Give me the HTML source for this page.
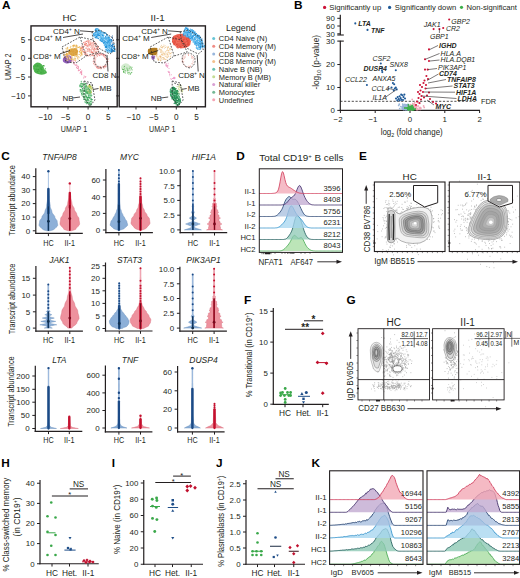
<!DOCTYPE html>
<html><head><meta charset="utf-8"><style>
html,body{margin:0;padding:0;background:#fff;width:520px;height:578px;overflow:hidden}
svg{display:block}
text{font-family:"Liberation Sans", sans-serif}
</style></head><body>
<svg width="520" height="578" viewBox="0 0 520 578">
<text x="1.90" y="9.42" font-size="11.8" font-weight="bold" fill="#000">A</text>
<path d="M33,66 q3,-5 7,-3 q4,3 4,6 q3,2 3,4 q-4,3 -9,1 q-5,-1 -5,-8z" fill="#4cb24c" stroke="none" stroke-width="0.8"/>
<path d="M37.9 65.9h0M41.0 72.7h0M34.4 68.4h0M36.9 69.5h0M43.9 65.6h0M41.6 69.7h0M40.9 68.1h0M37.5 65.8h0M40.9 69.5h0M35.2 69.6h0M38.5 69.4h0M37.6 71.6h0M39.1 73.2h0M41.0 68.6h0M45.3 68.8h0M34.3 68.7h0M41.3 68.9h0M43.2 65.7h0M42.2 67.9h0M35.8 66.1h0M38.4 69.6h0M42.3 69.1h0" stroke="#3aa63a" stroke-width="1.20" stroke-linecap="round" fill="none"/>
<path d="M34.9 69.3h0M40.8 70.1h0M42.2 68.3h0M39.6 72.8h0M35.0 67.2h0M44.5 71.1h0M41.3 65.2h0M36.0 67.6h0M43.2 69.7h0M38.1 67.7h0M34.7 70.8h0M37.4 68.0h0M38.8 72.8h0M35.0 68.5h0M44.6 71.9h0M44.0 66.1h0M39.5 72.3h0M38.8 68.0h0" stroke="#5cbc5c" stroke-width="1.20" stroke-linecap="round" fill="none"/>
<path d="M63,58.5 q2,-4 7,-3 q3,2 2,6 q-3,3 -7,1.5 q-3,-1 -2,-4.5z" fill="#9360bd" stroke="none" stroke-width="0.8"/>
<path d="M73.1 45.5h0M81.8 48.8h0M67.5 47.4h0M66.6 56.1h0M76.7 48.2h0M67.3 54.9h0M68.1 56.9h0M73.5 55.4h0M77.0 50.9h0M66.7 54.8h0M76.2 45.1h0M67.1 51.4h0M73.5 53.9h0M65.6 54.7h0M73.7 51.7h0M74.5 45.5h0M76.9 46.2h0M70.4 51.4h0M68.6 52.1h0M71.4 48.5h0M82.1 54.0h0M79.6 51.6h0M68.3 54.0h0M77.7 51.3h0M79.6 47.0h0M76.0 54.3h0M63.5 52.5h0M71.4 59.4h0M73.0 59.3h0M78.5 47.3h0M75.1 56.0h0M74.5 48.8h0M69.8 51.4h0M66.7 60.0h0M76.8 47.0h0M74.6 45.8h0M69.4 49.6h0M81.0 52.6h0M69.0 59.5h0M80.4 50.1h0" stroke="#e2a032" stroke-width="1.20" stroke-linecap="round" fill="none"/>
<path d="M72.8 45.8h0M77.4 51.0h0M79.9 48.0h0M76.2 53.8h0M80.5 55.7h0M80.8 47.9h0M72.1 56.9h0M75.4 46.5h0M75.1 49.7h0M75.1 45.5h0M73.8 59.0h0M68.0 53.4h0M75.2 58.5h0M76.6 56.4h0M72.5 55.1h0M75.8 50.8h0M77.7 56.1h0M67.6 57.8h0M70.8 46.4h0M77.0 47.6h0M64.0 52.2h0M79.7 46.6h0M75.6 52.6h0M69.1 54.4h0M66.2 50.9h0M80.4 53.8h0M75.0 48.6h0M74.1 44.8h0M68.4 56.1h0M67.6 58.8h0M81.1 52.2h0M79.6 52.0h0M69.4 58.7h0M70.3 47.5h0M81.4 53.4h0M78.1 47.5h0M80.7 48.7h0M81.0 50.9h0M73.5 51.0h0M82.1 48.9h0M72.5 48.8h0M67.8 47.9h0M72.2 58.6h0M72.1 57.5h0M66.0 55.6h0M66.1 48.8h0M74.7 49.1h0M71.7 61.0h0M74.8 60.2h0M71.1 49.2h0M71.2 59.1h0M66.3 57.5h0" stroke="#f0c878" stroke-width="1.20" stroke-linecap="round" fill="none"/>
<path d="M74.5 53.1h0M73.2 46.9h0M67.5 48.9h0M71.7 48.5h0M75.4 48.1h0M75.1 57.0h0M70.8 48.6h0M74.4 59.9h0M65.4 55.3h0M70.8 48.3h0M74.5 57.0h0M71.8 49.2h0M82.0 52.2h0M68.3 49.5h0M64.6 53.8h0M70.9 54.1h0M80.9 56.1h0M66.8 49.8h0M70.3 59.1h0M66.3 54.5h0M69.5 51.4h0M67.6 47.9h0M66.0 48.3h0M74.0 49.8h0M77.6 54.3h0M76.3 47.7h0M67.8 60.3h0M72.6 52.3h0M79.2 57.6h0M70.0 52.9h0M67.0 51.2h0M71.6 50.8h0M69.7 58.3h0M73.7 51.9h0M73.4 54.1h0M63.7 54.9h0M69.4 57.2h0M71.1 49.7h0" stroke="#f4d8a0" stroke-width="1.20" stroke-linecap="round" fill="none"/>
<path d="M82.1 51.4h0M82.1 49.1h0M64.6 57.6h0M76.8 45.6h0M81.4 52.7h0M73.1 50.0h0M76.4 51.0h0M67.1 54.2h0M80.9 48.4h0M66.3 54.3h0M71.4 54.2h0M71.3 50.9h0M75.7 60.1h0M67.9 53.9h0M76.2 52.6h0M77.4 57.9h0M66.8 56.7h0M77.1 55.2h0M79.2 54.5h0M78.1 59.0h0M76.4 54.9h0M73.6 45.4h0M72.2 51.3h0M73.3 46.7h0M75.8 48.3h0M67.2 48.1h0M63.7 55.7h0M75.0 58.7h0M76.8 50.2h0M68.8 51.8h0M66.5 53.2h0M81.9 55.1h0M69.8 49.7h0M73.4 45.6h0M81.6 54.1h0M71.6 56.0h0M80.3 49.9h0M78.7 56.8h0M75.5 52.6h0M69.5 52.9h0" stroke="#e8b050" stroke-width="1.20" stroke-linecap="round" fill="none"/>
<path d="M69,50 q4,-3 8,-1 q2,3 0,6 q-4,2 -7,0 q-2,-2 -1,-5z" fill="#d89a30" stroke="none" stroke-width="0.8" opacity="0.85"/>
<path d="M90.1 42.2h0M86.5 45.5h0M88.0 45.5h0M98.1 46.6h0M87.0 41.2h0M91.6 51.6h0M90.9 44.3h0M89.8 44.6h0M88.0 49.0h0M97.3 48.6h0M95.9 43.5h0M86.1 48.2h0M85.5 53.2h0M98.5 49.7h0M91.5 51.0h0M81.7 48.0h0M91.0 43.4h0M89.6 51.0h0M94.9 49.5h0M91.5 51.9h0M95.8 45.7h0M90.8 49.9h0M83.6 51.3h0M88.9 46.1h0M84.2 43.1h0M88.9 44.5h0M84.4 54.1h0M85.4 42.1h0M89.4 48.9h0M88.2 42.4h0M93.8 41.7h0M83.9 42.6h0M96.6 53.8h0M95.9 51.5h0M84.0 51.7h0M94.8 49.2h0M94.6 48.0h0M83.1 48.8h0M89.5 44.5h0M96.2 49.3h0M97.5 47.0h0M88.1 48.0h0M90.1 52.1h0M90.3 43.1h0" stroke="#f08a80" stroke-width="1.20" stroke-linecap="round" fill="none"/>
<path d="M88.9 43.6h0M87.9 51.5h0M98.1 47.2h0M82.1 50.4h0M86.6 54.7h0M95.0 53.8h0M94.8 50.9h0M85.4 43.6h0M85.9 44.2h0M87.2 46.3h0M83.0 46.9h0M84.1 42.4h0M98.0 47.8h0M85.4 45.5h0M84.9 44.6h0M83.1 47.1h0M96.8 51.7h0M88.5 42.5h0M93.2 45.9h0M92.1 48.7h0M93.4 55.5h0M88.6 55.7h0M92.7 52.6h0M85.1 52.8h0M89.4 49.9h0M88.1 40.6h0M92.1 55.3h0M88.2 41.4h0M93.4 53.1h0M81.2 47.8h0M82.1 49.6h0M86.2 41.4h0M85.2 54.6h0M82.6 47.3h0M86.5 43.6h0M96.5 48.6h0M91.8 45.7h0M87.8 49.5h0M90.6 42.6h0M93.5 49.7h0M92.3 43.4h0M87.8 45.3h0M92.0 52.0h0M85.2 51.8h0M84.5 44.7h0M93.6 44.2h0M94.3 48.2h0M95.7 52.2h0M92.4 47.5h0M81.7 47.7h0M87.2 55.3h0M91.9 52.4h0M90.0 45.2h0" stroke="#ec7468" stroke-width="1.20" stroke-linecap="round" fill="none"/>
<path d="M87.0 54.4h0M85.0 51.6h0M85.2 51.2h0M83.5 52.3h0M87.4 45.1h0M95.5 46.1h0M91.5 46.7h0M82.7 48.8h0M95.9 48.1h0M93.0 47.4h0M89.0 44.8h0M89.8 41.2h0M89.8 40.6h0M82.4 49.1h0M95.1 44.1h0M91.6 49.6h0M93.6 42.3h0M82.7 44.8h0M87.9 50.4h0M98.5 51.3h0M86.3 48.1h0M91.1 51.3h0M88.5 41.8h0M90.8 47.2h0M82.5 49.4h0M96.5 44.4h0M93.6 43.0h0M92.1 55.7h0M85.9 53.9h0M95.4 42.4h0M95.4 51.6h0M86.8 45.3h0M85.5 51.2h0M92.9 54.3h0M90.4 56.0h0M96.7 48.9h0M84.3 46.5h0M93.7 50.8h0M93.4 49.1h0M93.4 51.2h0M91.6 54.1h0M89.0 55.4h0M97.0 51.8h0M92.5 42.6h0" stroke="#f4b0a8" stroke-width="1.20" stroke-linecap="round" fill="none"/>
<path d="M92.6 49.4h0M81.2 49.6h0M90.4 52.8h0M86.6 53.1h0M86.2 51.7h0M81.9 45.6h0M88.3 55.6h0M96.6 43.7h0M89.0 42.8h0M91.4 45.9h0M87.2 55.9h0M85.2 41.7h0M81.7 47.0h0M92.9 47.2h0M87.3 54.2h0M90.5 50.9h0M91.5 54.6h0M92.9 44.1h0M85.2 43.1h0M93.5 46.3h0M88.2 50.8h0M88.7 50.2h0M95.1 54.4h0M89.9 41.8h0M92.8 46.7h0M85.5 48.3h0M94.6 47.2h0M83.5 49.2h0M92.4 44.1h0M94.8 52.7h0M96.7 51.2h0M91.8 49.1h0M84.5 42.6h0M81.9 49.1h0M95.4 53.4h0M94.4 45.5h0M92.1 46.9h0M90.1 51.2h0M96.5 54.0h0M91.4 42.2h0M81.2 46.8h0M92.6 54.2h0M92.7 46.6h0M88.3 45.0h0M97.1 49.8h0M98.2 52.1h0M92.4 42.9h0M85.0 53.9h0M82.0 45.5h0M90.3 42.7h0M95.7 52.8h0M92.8 51.3h0M97.7 45.7h0M85.1 45.2h0M93.1 45.0h0M89.6 40.5h0M91.3 44.2h0M95.1 51.6h0M87.0 50.2h0" stroke="#f8c8c0" stroke-width="1.20" stroke-linecap="round" fill="none"/>
<path d="M108.9 47.2h0M96.7 31.6h0M105.5 41.3h0M94.6 35.5h0M114.0 50.8h0M97.2 38.2h0M106.4 42.8h0M103.1 40.5h0M106.8 35.9h0M96.9 28.6h0M102.2 40.7h0M104.8 45.6h0M113.7 48.6h0M105.9 44.4h0M111.6 46.2h0M95.9 37.0h0M112.3 51.3h0M100.4 32.7h0M94.6 35.7h0M112.6 49.9h0M111.1 51.8h0M110.8 48.5h0M108.1 50.2h0M114.6 49.4h0M98.4 31.6h0M101.4 32.8h0M110.4 44.3h0M100.6 40.3h0M100.7 32.4h0M107.9 48.6h0M104.8 42.8h0M113.0 44.5h0M101.7 40.1h0M111.2 52.3h0M105.8 43.8h0M106.1 39.4h0M108.7 39.7h0M100.9 40.0h0M108.4 40.7h0M109.6 38.2h0M93.6 33.6h0M98.2 29.4h0M98.0 30.4h0M103.1 32.3h0M101.8 38.9h0M100.8 36.6h0M101.6 38.0h0M108.5 37.2h0M99.8 30.3h0M100.6 32.9h0M110.0 52.0h0M114.4 50.7h0M100.3 34.2h0M106.4 46.5h0M105.7 43.7h0M109.9 39.1h0M113.2 46.5h0M98.5 34.6h0M110.9 50.7h0M108.6 50.7h0M103.0 35.7h0M105.3 47.7h0M105.7 38.7h0M112.8 46.2h0M105.5 46.4h0M100.2 37.1h0M100.1 33.3h0M110.2 42.8h0M107.4 50.8h0M98.9 34.8h0M100.6 39.7h0M96.0 35.7h0M103.1 33.0h0M95.9 29.0h0M95.5 30.3h0M100.2 34.0h0M113.6 48.5h0M107.6 43.0h0M113.0 50.8h0M105.2 32.9h0M106.0 47.0h0M111.7 40.3h0M96.3 37.7h0M100.2 40.0h0M100.1 35.3h0M102.3 41.8h0M100.8 31.1h0M109.4 44.9h0M107.2 51.3h0M94.0 35.5h0M107.7 45.8h0M95.6 35.8h0M107.9 42.9h0M109.3 44.9h0M100.8 36.6h0M109.6 39.4h0M103.0 35.0h0M95.7 33.0h0M98.0 33.3h0M110.0 40.1h0M99.7 35.4h0M103.7 33.0h0M107.5 48.5h0M107.8 43.9h0M103.9 43.3h0M97.3 34.6h0M109.6 40.6h0M101.3 34.3h0M94.1 35.4h0M101.1 40.7h0M98.0 34.6h0M97.1 34.2h0M99.1 33.2h0" stroke="#2b9be0" stroke-width="1.20" stroke-linecap="round" fill="none"/>
<path d="M109.7 45.7h0M100.6 35.0h0M98.5 33.9h0M106.7 46.2h0M108.4 49.7h0M103.0 40.8h0M106.6 37.9h0M111.6 49.3h0M111.1 46.1h0M105.5 49.9h0M104.7 42.6h0M100.3 31.8h0M107.6 40.8h0M103.9 35.2h0M107.8 37.6h0M110.7 48.6h0M105.8 37.7h0M110.4 48.8h0M93.8 36.2h0M104.4 38.6h0M99.4 35.4h0M106.9 45.0h0M104.9 39.9h0M114.4 50.5h0M108.4 41.9h0M96.6 34.6h0M111.5 45.8h0M108.4 41.6h0M108.9 36.8h0M111.2 50.5h0M103.5 39.3h0M102.4 34.0h0M100.2 38.1h0M109.4 45.6h0M112.2 49.3h0M112.3 46.1h0M108.2 39.2h0M101.9 32.0h0M98.5 31.2h0M101.2 40.5h0M98.0 38.0h0M107.0 46.7h0M108.2 49.5h0M100.3 30.8h0M96.7 29.5h0M109.1 44.5h0M105.8 42.0h0M109.5 42.7h0M98.4 35.7h0M103.4 35.6h0M108.4 44.8h0M104.7 41.7h0M101.3 35.0h0M97.6 35.7h0M105.9 39.5h0M109.9 40.2h0M106.1 47.2h0M108.2 46.8h0M106.8 39.9h0M105.9 37.3h0M107.1 44.1h0M109.1 49.5h0M95.2 30.4h0M109.7 43.5h0M96.4 31.3h0M106.0 43.4h0M107.7 37.7h0M105.0 42.5h0M109.3 44.8h0M110.0 46.5h0M111.3 47.1h0M98.0 36.0h0M101.9 38.0h0M108.1 38.9h0M106.0 45.1h0M111.0 49.5h0M109.7 42.4h0M105.8 49.8h0M105.4 37.6h0M106.6 38.6h0M97.4 33.2h0M114.5 50.8h0M100.8 31.3h0M111.8 46.7h0M107.0 46.3h0M109.0 40.5h0M95.3 29.5h0M106.9 34.6h0M100.2 32.4h0M93.4 34.1h0M110.1 41.8h0M98.3 29.4h0M108.9 50.0h0M108.1 40.0h0M108.3 38.5h0M103.0 38.3h0M100.3 32.0h0M107.4 45.7h0M95.7 34.8h0M94.8 35.0h0M97.7 31.3h0M97.1 32.8h0M98.6 31.1h0M110.6 50.1h0M104.1 33.4h0M97.3 33.9h0M98.9 31.6h0M107.1 48.0h0M98.5 38.1h0M110.5 49.0h0M93.6 34.9h0M108.7 45.8h0M113.5 47.8h0M108.5 45.8h0M109.1 51.7h0" stroke="#48aeea" stroke-width="1.20" stroke-linecap="round" fill="none"/>
<path d="M110.9 46.3h0M110.3 39.6h0M106.7 34.3h0M114.4 47.7h0M106.0 45.5h0M111.0 41.0h0M106.5 42.5h0M108.7 41.6h0M103.5 42.9h0M104.1 42.5h0M100.7 40.4h0M111.5 45.7h0M109.5 45.8h0M101.8 38.7h0M103.4 32.5h0M95.9 29.9h0M106.7 49.7h0M103.0 41.7h0M97.2 34.9h0M106.0 47.4h0M105.8 45.7h0M108.2 42.3h0M114.0 46.5h0M98.6 31.9h0M95.8 35.3h0M94.1 34.7h0M112.1 50.6h0M106.7 45.3h0M112.7 45.1h0M114.7 51.4h0M106.8 47.7h0M104.5 43.9h0M109.7 48.1h0M95.0 32.8h0M114.7 48.4h0M110.4 40.6h0M109.6 43.8h0M111.0 51.5h0M102.5 35.3h0M99.0 31.5h0M96.6 36.8h0M111.9 49.4h0M104.4 45.3h0M97.3 32.4h0M108.7 37.9h0M97.2 28.7h0M112.0 46.7h0M94.5 33.5h0M111.9 46.2h0M107.7 41.2h0M102.2 38.7h0M114.1 50.1h0M101.0 37.9h0M111.2 50.7h0M107.1 50.7h0M111.8 45.2h0M106.4 39.2h0M103.1 32.5h0M101.9 36.0h0M102.9 41.3h0M107.3 42.9h0M102.8 34.9h0M110.0 45.6h0M109.6 41.7h0M109.2 38.0h0M96.1 30.9h0M113.3 48.3h0M98.7 35.0h0M109.2 47.8h0M110.0 40.4h0M101.4 41.4h0M109.2 41.4h0M107.1 35.4h0M99.5 35.5h0M109.5 50.5h0M95.7 29.1h0M95.8 32.4h0M106.7 46.7h0M114.1 50.7h0M101.5 38.2h0M107.1 38.8h0M106.0 44.6h0M110.7 42.8h0M96.8 36.6h0M106.1 46.7h0M105.0 41.5h0M112.1 51.4h0M105.2 45.8h0M94.6 34.9h0M97.1 31.8h0M104.2 40.5h0M97.9 35.8h0M102.6 39.7h0M105.7 33.2h0M112.5 49.3h0M113.3 50.7h0M102.9 38.3h0M107.0 35.1h0M103.8 37.9h0M95.4 37.7h0M109.2 37.7h0M111.3 40.3h0M98.4 38.6h0M113.2 44.6h0M96.4 36.6h0M106.7 46.6h0M108.4 46.4h0M95.7 34.8h0M105.6 36.3h0M99.5 31.4h0M111.4 41.2h0M95.1 37.5h0M101.7 40.4h0" stroke="#1f8fd8" stroke-width="1.20" stroke-linecap="round" fill="none"/>
<path d="M101.4 32.2h0M103.2 37.4h0M107.5 47.9h0M108.1 36.1h0M110.8 40.6h0M106.5 43.9h0M104.2 44.1h0M108.5 50.5h0M100.7 34.7h0M108.0 46.5h0M97.6 30.6h0M104.5 45.5h0M107.4 46.0h0M107.8 36.2h0M106.3 38.8h0M100.8 33.4h0M100.0 36.7h0M102.3 37.6h0M107.1 45.2h0M106.8 43.0h0M108.8 46.1h0M103.4 36.4h0M102.8 36.3h0M105.1 45.2h0M103.1 32.7h0M105.6 39.8h0M97.1 32.7h0M99.1 31.5h0M107.1 52.2h0M110.5 50.9h0M96.4 30.1h0M112.8 50.4h0M104.2 37.4h0M97.2 31.0h0M107.1 39.8h0M107.4 48.4h0M100.9 31.9h0M109.2 43.8h0M105.5 39.7h0M108.7 47.6h0M108.6 43.2h0M107.7 51.4h0M94.8 32.6h0M114.2 44.2h0M100.9 37.3h0M97.5 30.1h0M108.3 43.3h0M112.6 47.1h0M106.4 41.3h0M106.1 40.1h0M100.1 34.5h0M102.1 40.2h0M97.5 37.4h0M104.6 32.6h0M98.9 31.5h0M101.9 39.3h0M96.2 33.9h0M94.2 33.4h0M109.3 44.1h0M109.2 41.5h0M96.9 35.1h0M103.4 38.9h0M101.1 40.8h0M109.2 52.2h0M110.2 42.5h0M114.9 50.7h0M112.7 51.1h0M111.4 48.4h0M110.3 47.9h0M101.2 34.7h0M113.6 47.7h0M108.4 50.4h0M110.3 49.1h0M108.6 43.3h0M101.1 38.9h0M107.2 39.8h0M100.2 37.7h0M98.5 30.8h0M98.1 29.0h0M111.3 46.4h0M99.6 39.9h0M97.3 28.9h0M105.0 43.3h0M95.3 35.7h0M110.9 49.3h0M102.7 38.3h0M94.7 34.5h0M105.6 45.4h0M109.7 38.7h0" stroke="#6ac0f0" stroke-width="1.20" stroke-linecap="round" fill="none"/>
<path d="M112.6 36.0h0M111.7 37.2h0M112.4 38.4h0M111.5 39.6h0M112.8 40.8h0M111.9 42.0h0M112.2 43.2h0M112.9 44.4h0M111.8 45.6h0M112.4 46.8h0M111.7 48.0h0M111.6 49.2h0M112.6 50.4h0M111.9 51.6h0" stroke="#1a5fa8" stroke-width="1.00" stroke-linecap="round" fill="none"/>
<path d="M106.6 59.6h0M105.9 58.6h0M105.6 66.4h0M96.6 66.6h0M101.0 67.4h0M97.4 56.4h0M102.1 67.2h0M96.6 66.9h0M94.1 60.6h0M102.9 54.8h0M97.9 53.7h0M106.2 55.1h0M103.5 68.0h0M104.5 66.8h0M102.6 54.0h0M105.8 67.2h0M99.4 68.1h0M95.6 61.2h0M106.6 61.9h0M94.5 64.7h0M105.1 65.0h0M99.1 55.6h0M105.0 57.4h0M93.9 63.6h0M97.6 67.5h0M98.5 68.4h0M104.8 55.3h0M97.9 54.0h0M101.6 54.2h0M98.5 66.3h0M103.6 55.9h0M100.7 66.4h0M101.4 54.8h0M93.5 63.4h0M105.2 66.7h0M103.6 66.4h0M104.4 54.5h0M100.8 67.8h0M99.8 54.0h0M108.1 61.4h0M100.0 55.2h0M96.8 66.4h0M104.4 55.2h0M95.2 58.1h0M95.7 59.8h0" stroke="#f0a0a0" stroke-width="1.00" stroke-linecap="round" fill="none"/>
<path d="M99.5 55.6h0M107.7 61.5h0M98.7 68.0h0M106.4 59.4h0M98.4 54.1h0M103.4 67.0h0M103.1 55.2h0M99.2 68.3h0M105.1 66.4h0M95.6 63.1h0M106.7 58.8h0M100.8 54.3h0M101.5 54.1h0M107.7 64.0h0M99.6 53.7h0M101.2 68.3h0M106.3 66.0h0M94.4 57.4h0M103.9 66.6h0M97.1 55.1h0M93.2 61.6h0M96.7 67.2h0M104.1 56.3h0M100.2 67.4h0M104.7 54.5h0M94.7 56.3h0M94.1 58.8h0M93.9 61.1h0M98.1 54.6h0M97.2 67.8h0M105.6 55.1h0M103.1 54.6h0M101.2 53.4h0M103.6 55.2h0M95.3 65.9h0M104.8 66.7h0M100.2 66.6h0M105.5 57.3h0M97.3 68.1h0" stroke="#e88080" stroke-width="1.00" stroke-linecap="round" fill="none"/>
<path d="M100.2 53.2h0M102.6 66.3h0M94.8 57.9h0M95.8 64.6h0M99.3 68.0h0M104.4 55.3h0M104.7 65.6h0M104.9 66.1h0M94.1 62.7h0M101.1 68.6h0M94.8 56.6h0M96.6 55.8h0M99.9 68.5h0M97.5 56.1h0M105.4 65.6h0M96.1 57.2h0M107.7 64.6h0M99.7 66.4h0M104.4 68.1h0M104.4 56.8h0M100.5 67.1h0M106.2 63.1h0M104.4 56.0h0M96.3 64.3h0M105.2 55.4h0M93.7 63.9h0M108.0 59.5h0M100.9 68.5h0M108.4 58.8h0M95.8 58.9h0M100.8 54.8h0M94.1 59.0h0M100.9 68.9h0M99.7 67.6h0M99.5 67.2h0M96.6 55.4h0" stroke="#f4b8b0" stroke-width="1.00" stroke-linecap="round" fill="none"/>
<path d="M73.9 62.3h0M85.8 76.6h0M81.1 72.8h0M73.5 60.9h0M81.6 72.1h0M78.4 68.1h0M80.8 72.3h0M79.5 70.2h0M75.7 65.3h0M84.9 77.0h0M83.7 77.9h0M80.1 73.0h0M75.0 64.7h0M77.9 68.5h0M85.6 77.1h0M78.3 66.8h0M75.5 61.7h0M76.7 67.7h0M78.1 66.4h0M78.5 69.9h0M81.8 70.7h0M80.3 69.4h0M80.7 71.5h0M77.1 65.7h0M81.5 74.3h0M81.8 73.0h0M76.6 67.4h0M76.7 64.7h0M76.3 65.0h0M78.5 66.9h0M73.7 62.9h0M81.8 71.1h0M84.1 76.0h0M78.3 70.7h0M81.8 74.6h0M74.1 63.9h0M81.6 73.2h0M72.8 60.9h0M77.4 68.2h0M77.2 66.0h0" stroke="#f090b0" stroke-width="1.10" stroke-linecap="round" fill="none"/>
<path d="M87.8 89.0h0M89.4 84.5h0M90.5 86.3h0M88.7 88.7h0M89.5 85.4h0M89.8 93.0h0M91.6 88.6h0M88.8 87.1h0M92.1 89.6h0M90.9 88.4h0M87.5 91.7h0M90.5 87.6h0M88.7 89.5h0M91.8 88.7h0M88.3 86.0h0M90.3 90.6h0M88.0 87.8h0" stroke="#b8c850" stroke-width="1.20" stroke-linecap="round" fill="none"/>
<path d="M87.8 93.3h0M89.9 91.0h0M91.4 88.2h0M89.9 92.2h0M91.4 88.6h0M89.0 89.2h0M90.6 86.2h0M87.0 91.2h0M85.9 88.6h0M91.1 87.1h0M87.7 86.9h0M88.2 88.8h0M91.1 89.1h0M88.6 93.3h0M89.8 85.0h0M88.8 90.2h0M89.2 91.0h0M86.6 89.3h0M86.7 85.7h0M89.7 86.9h0M90.7 93.2h0M87.9 86.5h0M86.5 92.5h0M87.7 91.3h0M87.9 91.9h0M89.7 93.0h0M87.1 87.2h0" stroke="#c8d070" stroke-width="1.20" stroke-linecap="round" fill="none"/>
<path d="M89.6 85.9h0M91.3 91.2h0M89.2 87.1h0M89.1 85.5h0M87.7 91.9h0M89.1 87.6h0M87.7 88.8h0M88.4 91.1h0M90.1 92.5h0M86.5 91.0h0M87.3 91.4h0M89.1 92.1h0M91.3 92.6h0M92.1 87.0h0M90.2 91.6h0M90.8 86.4h0" stroke="#a8c040" stroke-width="1.20" stroke-linecap="round" fill="none"/>
<path d="M84.9 89.4h0M89.0 96.6h0M86.9 89.3h0M80.7 90.6h0M86.9 89.1h0M91.4 95.9h0M84.9 102.0h0M84.0 98.0h0M88.2 99.7h0M86.0 84.8h0M88.2 88.9h0M83.8 97.9h0M85.8 92.7h0M86.9 102.5h0M81.5 81.4h0M87.1 92.2h0M88.0 97.3h0M92.4 99.5h0M84.7 90.2h0M84.5 99.3h0M85.9 100.0h0M90.7 93.2h0M91.2 104.8h0M89.9 95.6h0M86.6 96.7h0M89.1 93.7h0M84.7 84.5h0M89.8 103.8h0M88.6 95.7h0M90.5 91.6h0M89.5 97.7h0M82.1 83.5h0M84.2 96.9h0M91.6 95.5h0M85.9 99.3h0M82.7 86.7h0M83.3 94.7h0M86.0 86.2h0M89.6 98.1h0M80.2 89.5h0M85.9 102.7h0M86.6 90.1h0M88.6 102.8h0M85.6 94.9h0M88.4 88.7h0M86.2 101.0h0M82.6 89.9h0M84.6 89.5h0M86.8 97.7h0M86.1 92.0h0M86.8 97.6h0M88.6 94.7h0M91.3 99.6h0M80.8 90.5h0M89.9 90.3h0M85.4 87.1h0M84.6 88.3h0M86.7 89.2h0M87.5 102.7h0M83.1 96.5h0" stroke="#4cb070" stroke-width="1.20" stroke-linecap="round" fill="none"/>
<path d="M83.7 89.0h0M91.9 101.6h0M81.2 81.8h0M86.3 91.5h0M82.6 90.0h0M89.6 103.2h0M89.9 104.0h0M84.6 86.6h0M91.3 100.0h0M86.3 102.3h0M90.6 103.0h0M82.0 93.9h0M87.1 99.2h0M85.4 88.3h0M86.8 91.7h0M89.9 91.3h0M85.8 93.8h0M91.3 94.9h0M85.5 87.7h0M85.4 84.0h0M86.4 96.9h0M80.1 90.9h0M84.0 97.3h0M80.1 86.8h0M87.6 93.2h0M83.4 84.6h0M88.0 88.9h0M84.3 93.6h0M87.1 87.4h0M87.7 102.6h0M86.8 88.9h0M81.5 85.8h0M83.2 93.5h0M89.3 94.8h0M89.6 104.1h0M89.6 102.2h0M91.5 103.3h0M84.8 89.8h0M86.3 87.0h0M80.5 85.6h0M85.8 86.3h0M85.8 100.7h0M86.8 100.5h0M87.2 98.2h0M87.3 91.1h0M86.8 93.1h0M88.4 99.5h0M83.1 85.4h0M83.3 93.6h0M85.9 93.2h0M88.0 101.8h0M90.6 95.6h0M81.3 91.9h0M91.7 95.4h0M81.2 91.2h0M88.5 97.0h0M85.3 91.5h0M88.8 93.0h0M88.8 92.0h0M85.6 85.6h0M87.7 99.0h0M79.7 86.2h0M89.6 89.2h0M85.4 85.6h0M81.4 86.9h0M82.7 84.2h0" stroke="#66c080" stroke-width="1.20" stroke-linecap="round" fill="none"/>
<path d="M90.4 98.9h0M87.6 102.4h0M82.9 90.3h0M82.0 91.1h0M81.7 83.8h0M91.6 99.5h0M86.2 96.3h0M86.0 86.2h0M85.8 91.2h0M86.9 97.0h0M86.7 103.5h0M81.5 90.0h0M89.5 89.5h0M87.9 102.5h0M88.4 97.5h0M84.9 94.8h0M87.1 92.5h0M84.7 97.0h0M85.0 83.9h0M88.9 103.0h0M83.2 91.1h0M86.6 100.4h0M87.5 99.2h0M81.6 93.7h0M82.2 94.7h0M84.7 98.2h0M90.2 97.3h0M90.4 101.3h0M88.3 100.6h0M89.5 91.4h0M83.4 96.7h0M85.3 95.1h0M80.5 89.5h0M90.6 104.2h0M85.6 96.5h0M79.9 85.2h0M84.4 84.7h0M85.2 89.9h0M85.5 83.3h0M80.7 83.8h0M91.6 99.5h0M83.8 99.5h0M82.4 88.4h0M80.9 86.2h0M88.0 103.2h0M81.6 86.9h0M91.4 101.6h0M81.9 83.5h0M89.9 90.2h0M89.0 97.8h0M87.7 97.6h0M86.5 85.8h0M84.7 90.3h0M82.6 86.2h0M82.6 84.0h0M84.5 91.2h0M87.1 100.3h0M84.3 96.5h0M89.8 105.8h0M87.4 93.5h0" stroke="#3aa65a" stroke-width="1.20" stroke-linecap="round" fill="none"/>
<path d="M85.1 98.2h0M91.8 100.9h0M89.9 91.2h0M85.8 96.8h0M85.6 85.3h0M85.6 88.4h0M88.6 87.3h0M88.1 94.6h0M86.8 103.8h0M84.4 84.2h0M82.8 94.1h0M89.3 94.8h0M82.2 90.8h0M86.7 88.7h0M85.9 93.8h0M85.8 84.1h0M89.8 100.6h0M87.8 87.0h0M81.6 95.0h0M89.0 105.7h0M83.5 91.9h0M88.7 98.8h0M87.4 88.5h0M85.0 101.1h0M90.6 94.2h0M83.6 84.2h0M80.5 84.8h0M86.0 85.3h0M88.8 102.5h0M83.8 94.5h0M80.9 92.1h0M82.6 92.4h0M90.5 96.9h0M88.2 94.2h0M83.0 83.5h0M80.9 84.2h0M86.9 88.1h0M86.7 95.3h0M89.9 94.5h0M84.0 83.2h0M82.5 92.0h0M84.9 97.4h0M82.6 84.8h0M82.9 95.8h0M91.5 98.4h0M83.6 97.9h0M91.2 101.9h0M85.0 89.5h0M81.1 90.8h0M88.9 90.8h0M83.5 91.6h0M84.4 96.5h0M86.3 101.0h0M81.4 81.7h0" stroke="#8ccc98" stroke-width="1.20" stroke-linecap="round" fill="none"/>
<path d="M92,32 L100,30 L113,38 L115,50 L110,54 L100,49 L93,40 Z" fill="none" stroke="#2a2a2a" stroke-width="0.75" stroke-dasharray="1.8,1.3"/>
<path d="M62,47 L80,37 L93,40 L99,52 L86,56 L76,63 L66,62 Z" fill="none" stroke="#2a2a2a" stroke-width="0.75" stroke-dasharray="1.8,1.3"/>
<path d="M80,37 L86,56" fill="none" stroke="#2a2a2a" stroke-width="0.75" stroke-dasharray="1.8,1.3"/>
<path d="M94,56 Q100,50 106,56 Q109,64 102,68 Q95,67 94,60 Z" fill="none" stroke="#2a2a2a" stroke-width="0.75" stroke-dasharray="1.8,1.3"/>
<path d="M84,81 L92,83 L95,100 L90,106 L84,98 Z" fill="none" stroke="#2a2a2a" stroke-width="0.75" stroke-dasharray="1.8,1.3"/>
<path d="M86,83 L93,86" fill="none" stroke="#2a2a2a" stroke-width="0.75" stroke-dasharray="1.8,1.3"/>
<text x="53.00" y="33.50" font-size="8.0" fill="#231f20">CD4<tspan font-size="4.5" dy="-2.6">+</tspan><tspan dy="2.6"> N</tspan></text>
<line x1="80.00" y1="30.80" x2="93.00" y2="31.80" stroke="#231f20" stroke-width="0.8"/>
<text x="34.00" y="41.00" font-size="8.0" fill="#231f20">CD4<tspan font-size="4.5" dy="-2.6">+</tspan><tspan dy="2.6"> M</tspan></text>
<line x1="63.00" y1="37.50" x2="83.00" y2="34.00" stroke="#231f20" stroke-width="0.8"/>
<text x="33.00" y="59.30" font-size="8.0" fill="#231f20">CD8<tspan font-size="4.5" dy="-2.6">+</tspan><tspan dy="2.6"> M</tspan></text>
<line x1="60.00" y1="53.80" x2="70.00" y2="50.50" stroke="#231f20" stroke-width="0.8"/>
<text x="92.50" y="77.80" font-size="8.0" fill="#231f20">CD8 N</text>
<line x1="108.00" y1="71.50" x2="107.00" y2="55.00" stroke="#231f20" stroke-width="0.8"/>
<text x="99.50" y="91.30" font-size="8.0" fill="#231f20">MB</text>
<line x1="93.00" y1="89.50" x2="98.50" y2="88.50" stroke="#231f20" stroke-width="0.8"/>
<text x="62.50" y="101.30" font-size="8.0" fill="#231f20">NB</text>
<line x1="72.50" y1="98.00" x2="80.00" y2="97.00" stroke="#231f20" stroke-width="0.8"/>
<rect x="31" y="25.9" width="86.2" height="80.9" fill="none" stroke="#231f20" stroke-width="1.4"/>
<line x1="47.80" y1="107.00" x2="47.80" y2="109.50" stroke="#231f20" stroke-width="0.9"/>
<text x="45.42" y="119.87" font-size="8.2" text-anchor="middle" fill="#231f20">&#8722;10</text>
<line x1="68.00" y1="107.00" x2="68.00" y2="109.50" stroke="#231f20" stroke-width="0.9"/>
<text x="65.62" y="119.87" font-size="8.2" text-anchor="middle" fill="#231f20">&#8722;5</text>
<line x1="88.10" y1="107.00" x2="88.10" y2="109.50" stroke="#231f20" stroke-width="0.9"/>
<text x="88.10" y="119.87" font-size="8.2" text-anchor="middle" fill="#231f20">0</text>
<line x1="108.40" y1="107.00" x2="108.40" y2="109.50" stroke="#231f20" stroke-width="0.9"/>
<text x="108.40" y="119.87" font-size="8.2" text-anchor="middle" fill="#231f20">5</text>
<line x1="28.00" y1="39.80" x2="31.00" y2="39.80" stroke="#231f20" stroke-width="0.9"/>
<text x="25.20" y="42.67" font-size="8.2" text-anchor="end" fill="#231f20">5</text>
<line x1="28.00" y1="58.30" x2="31.00" y2="58.30" stroke="#231f20" stroke-width="0.9"/>
<text x="25.20" y="61.17" font-size="8.2" text-anchor="end" fill="#231f20">0</text>
<line x1="28.00" y1="77.00" x2="31.00" y2="77.00" stroke="#231f20" stroke-width="0.9"/>
<text x="25.20" y="79.87" font-size="8.2" text-anchor="end" fill="#231f20">&#8722;5</text>
<line x1="28.00" y1="95.90" x2="31.00" y2="95.90" stroke="#231f20" stroke-width="0.9"/>
<text x="25.20" y="98.77" font-size="8.2" text-anchor="end" fill="#231f20">&#8722;10</text>
<text x="74.00" y="132.28" font-size="8.8" text-anchor="middle" fill="#231f20" textLength="26.3" lengthAdjust="spacingAndGlyphs">UMAP 1</text>
<text x="69.50" y="20.73" font-size="9.8" text-anchor="middle" fill="#231f20">HC</text>
<path d="M121.2,66 q3,-4 7,-2 q4,3 4,6 q-3,3 -8,1 q-4,-1 -3,-5z" fill="#a8d8a0" stroke="none" stroke-width="0.8" opacity="0.5"/>
<path d="M127.4 70.8h0M130.3 73.4h0M129.7 68.2h0M128.8 72.5h0M123.7 69.6h0M128.0 70.4h0M131.3 72.8h0M131.6 68.8h0M122.4 69.2h0" stroke="#60b860" stroke-width="1.00" stroke-linecap="round" fill="none"/>
<path d="M124.0 67.1h0M124.4 68.7h0M123.6 72.4h0M132.6 69.9h0M129.0 68.8h0M124.2 71.6h0M125.5 73.1h0M129.7 72.4h0M128.7 74.1h0M130.0 66.8h0M132.2 67.3h0M129.3 73.0h0M128.1 72.7h0" stroke="#8ccc84" stroke-width="1.00" stroke-linecap="round" fill="none"/>
<path d="M130.2 74.4h0M124.8 72.7h0M127.3 69.2h0M126.9 68.1h0M124.6 66.4h0M131.8 72.4h0M131.0 67.2h0M127.7 73.0h0M124.0 70.0h0M123.6 71.6h0M125.4 70.9h0M123.0 69.5h0M123.4 71.8h0" stroke="#4cae4c" stroke-width="1.00" stroke-linecap="round" fill="none"/>
<path d="M161.0 49.4h0M163.2 46.5h0M161.4 45.2h0M165.6 47.5h0M167.1 57.8h0M167.8 50.6h0M159.9 49.5h0M163.4 53.0h0M160.0 55.7h0M164.4 53.6h0M166.5 50.7h0M155.6 50.2h0M159.4 48.4h0M168.8 56.8h0M165.6 51.9h0M156.8 52.7h0M165.3 56.2h0M156.2 56.8h0M155.2 51.2h0M168.1 56.0h0M160.4 50.8h0M168.7 50.6h0M167.0 46.7h0M163.1 59.5h0M168.0 55.1h0M156.6 53.6h0M169.2 54.0h0M158.0 58.8h0M162.8 51.7h0M169.7 48.6h0M164.4 58.9h0M169.8 49.6h0M161.0 57.5h0M164.0 55.1h0M164.7 54.2h0M162.2 55.0h0M160.2 56.5h0M169.1 52.7h0M157.3 56.0h0M168.8 52.0h0M159.8 56.2h0M157.2 57.9h0M163.9 45.0h0M160.8 52.0h0M171.3 49.5h0" stroke="#f0c890" stroke-width="1.10" stroke-linecap="round" fill="none"/>
<path d="M160.4 60.8h0M162.9 46.8h0M167.5 54.3h0M163.8 57.8h0M171.7 52.7h0M161.4 54.4h0M161.4 47.4h0M163.8 57.7h0M159.2 49.5h0M165.4 59.2h0M158.8 59.1h0M160.2 56.4h0M161.8 58.8h0M160.9 56.3h0M163.0 53.7h0M164.0 58.7h0M156.4 52.2h0M156.5 50.4h0M156.8 48.3h0M160.9 60.3h0M158.0 59.1h0M167.3 57.3h0M170.6 56.7h0M156.5 54.8h0M170.5 48.4h0M161.0 56.3h0M162.8 57.5h0M155.7 49.7h0M166.0 54.8h0M158.1 60.0h0M167.7 49.0h0M158.8 60.1h0M162.7 54.7h0M170.3 53.4h0M157.6 54.0h0M156.4 55.7h0M167.7 47.8h0M160.2 57.6h0M166.9 59.8h0M162.4 47.7h0M168.3 47.2h0M161.8 50.3h0" stroke="#e8b878" stroke-width="1.10" stroke-linecap="round" fill="none"/>
<path d="M164.0 58.3h0M166.8 56.2h0M170.1 50.0h0M164.4 48.3h0M160.8 59.5h0M164.8 46.8h0M170.9 55.1h0M161.9 52.9h0M168.1 52.4h0M165.9 53.6h0M160.5 46.6h0M167.1 50.1h0M166.9 56.9h0M161.9 52.4h0M164.0 52.1h0M161.3 47.2h0M161.3 50.7h0M167.3 53.5h0M169.3 52.2h0M156.7 53.5h0M157.5 49.2h0M168.5 46.6h0M165.1 45.5h0M167.0 53.1h0M161.5 50.6h0M156.5 48.9h0M160.6 52.5h0M159.7 48.7h0M158.6 57.1h0M170.4 48.6h0M161.2 51.6h0M161.9 54.6h0M160.1 58.2h0" stroke="#f4d8b0" stroke-width="1.10" stroke-linecap="round" fill="none"/>
<path d="M148.2,49 q5,-2 9,-1 q1,4 -1,7 q-4,1 -8,-1 q-1,-3 0,-5z" fill="#b07a20" stroke="none" stroke-width="0.8"/>
<path d="M151.2,56 q2,-1 4,0 q0,3 -2,4 q-2,0 -2,-4z" fill="#a070c8" stroke="none" stroke-width="0.8"/>
<path d="M173.2,36 q7,-4 14,-1 q5,4 3,10 q-4,4 -10,3 q-7,-2 -8,-6 q-1,-3 1,-6z" fill="#ec6050" stroke="none" stroke-width="0.8"/>
<path d="M175.5 42.6h0M181.7 41.7h0M187.7 40.4h0M178.4 37.6h0M183.5 43.3h0M180.6 42.9h0M184.6 37.8h0M190.1 41.3h0M183.6 37.8h0M185.6 42.1h0M179.6 46.5h0M183.5 40.9h0M180.0 38.4h0M176.9 43.6h0M181.2 42.4h0M181.1 40.8h0M184.2 39.1h0M183.6 43.0h0M177.4 44.2h0M178.0 46.9h0M186.1 43.5h0M173.4 39.8h0M184.8 43.0h0M187.6 41.5h0M181.0 46.4h0M186.8 38.5h0M176.8 47.2h0M175.8 39.5h0M178.5 46.9h0M176.8 38.9h0M175.0 41.1h0M180.8 48.0h0M187.9 40.9h0M178.9 46.3h0M185.4 36.7h0M183.6 40.3h0M176.3 39.5h0M178.4 45.7h0M188.4 40.8h0M178.0 41.1h0M173.0 41.8h0M177.2 41.3h0M177.0 41.6h0M188.4 45.4h0M181.8 43.8h0M185.1 39.4h0M182.5 38.4h0" stroke="#e85848" stroke-width="1.20" stroke-linecap="round" fill="none"/>
<path d="M176.2 46.5h0M176.2 41.6h0M184.2 36.7h0M180.9 37.4h0M175.0 42.5h0M186.8 42.9h0M176.9 39.1h0M186.2 41.3h0M181.1 39.8h0M180.3 35.7h0M182.8 38.6h0M183.8 42.1h0M181.0 41.9h0M180.7 45.5h0M176.7 43.0h0M176.4 46.2h0M181.5 40.5h0M178.9 42.4h0M186.1 43.7h0M175.5 44.7h0M182.0 37.3h0M177.7 36.8h0M179.4 37.1h0M184.1 46.9h0M183.5 37.0h0M178.3 38.6h0M178.7 46.6h0M173.4 40.9h0M185.5 38.3h0M180.3 42.9h0M180.9 40.5h0M185.2 36.6h0M174.5 39.7h0M177.1 42.5h0M179.9 35.8h0M177.8 38.1h0M182.6 47.1h0M182.7 41.3h0M182.8 42.6h0M178.1 40.5h0M176.5 45.6h0M184.2 44.5h0M182.9 44.0h0M177.7 40.2h0M185.2 40.0h0M182.5 46.1h0" stroke="#f07868" stroke-width="1.20" stroke-linecap="round" fill="none"/>
<path d="M175.3 37.5h0M181.6 37.4h0M179.5 38.6h0M174.0 44.7h0M185.0 46.0h0M184.9 43.0h0M173.1 42.0h0M174.0 39.8h0M176.7 44.4h0M187.3 43.1h0M177.9 48.0h0M181.2 41.1h0M183.0 37.0h0M174.1 43.7h0M183.3 39.8h0M188.6 42.9h0M172.7 41.5h0M183.4 41.7h0M186.0 38.7h0M175.2 38.9h0M179.1 38.4h0M175.0 41.3h0M187.2 44.4h0M179.0 47.6h0M184.5 46.5h0M180.3 46.0h0M188.2 38.6h0M188.8 44.3h0M185.1 45.7h0M180.2 37.9h0M186.5 39.4h0M176.4 44.6h0M179.0 37.1h0M184.1 39.5h0M177.4 46.8h0M175.3 38.8h0M185.3 44.6h0M184.1 42.9h0M181.2 42.1h0M175.0 42.4h0M177.6 36.4h0M187.7 40.7h0M186.9 41.4h0M182.2 40.5h0M180.2 46.8h0M182.6 45.3h0M182.0 40.5h0" stroke="#e04838" stroke-width="1.20" stroke-linecap="round" fill="none"/>
<path d="M197.1 48.1h0M187.4 34.5h0M193.2 41.1h0M202.8 46.4h0M184.5 31.0h0M198.7 36.8h0M202.0 45.9h0M200.7 46.4h0M194.2 37.8h0M201.9 46.4h0M190.4 30.9h0M194.9 38.4h0M192.8 39.0h0M190.9 32.1h0M191.9 29.6h0M195.7 35.7h0M195.0 34.7h0M187.7 36.7h0M184.0 34.5h0M197.8 44.5h0M199.5 38.2h0M188.8 36.7h0M198.8 44.0h0M184.0 35.6h0M184.1 34.3h0M198.2 45.3h0M189.5 37.2h0M198.5 43.9h0M193.3 34.1h0M200.9 43.3h0M192.5 36.1h0M194.4 43.0h0M198.4 42.6h0M200.2 37.2h0M185.1 29.4h0M197.6 40.5h0M202.2 43.3h0M185.9 27.9h0M194.5 33.1h0M202.6 43.2h0M196.7 41.3h0M201.0 44.0h0M190.4 31.9h0M199.1 47.5h0M203.3 46.4h0M195.4 43.5h0M194.5 42.0h0M199.9 47.2h0M184.0 33.6h0M184.9 30.4h0M202.5 43.2h0M197.7 37.1h0M203.0 46.3h0M193.1 31.0h0M201.9 40.1h0M190.6 33.6h0M193.8 39.5h0M200.2 38.9h0M196.8 45.6h0M199.3 45.9h0M204.3 45.7h0M197.7 42.6h0M192.9 38.5h0M197.8 40.6h0M187.1 33.0h0M201.0 43.6h0M188.4 30.0h0M199.6 40.8h0M194.6 37.3h0M195.1 35.3h0M190.5 32.6h0M198.0 35.2h0M190.3 35.3h0M196.9 43.4h0M197.5 37.1h0M187.7 37.0h0M193.0 36.0h0M199.9 38.1h0M189.3 34.0h0M188.2 29.1h0M192.1 38.4h0M200.5 47.4h0M197.5 40.4h0M197.5 36.9h0M187.2 30.7h0M194.5 39.7h0M198.0 42.1h0M186.1 31.6h0M186.5 35.5h0M200.0 45.1h0M194.5 35.5h0M192.0 39.4h0M189.8 38.2h0M199.3 35.7h0M200.6 47.9h0M187.6 28.9h0M191.0 36.5h0M192.4 37.2h0M201.9 38.9h0M191.1 33.6h0M197.6 42.1h0M184.9 33.6h0M187.4 32.4h0M202.6 43.8h0M195.0 31.9h0M190.9 32.0h0M191.8 30.6h0M199.3 49.1h0M201.9 45.5h0M184.7 29.5h0M196.7 46.1h0M195.4 34.6h0" stroke="#2b9be0" stroke-width="1.20" stroke-linecap="round" fill="none"/>
<path d="M192.5 31.7h0M190.4 35.5h0M196.9 42.8h0M189.6 37.1h0M201.9 40.7h0M198.2 38.8h0M200.1 40.1h0M195.0 37.6h0M195.9 42.8h0M187.3 36.4h0M197.1 40.8h0M191.8 40.4h0M200.8 46.4h0M186.9 32.1h0M196.3 47.5h0M190.7 35.4h0M190.2 29.9h0M191.5 34.5h0M187.8 29.7h0M186.0 27.7h0M188.2 31.7h0M183.3 33.4h0M196.0 37.9h0M187.7 31.6h0M199.8 39.4h0M197.0 42.9h0M200.5 45.2h0M200.7 43.8h0M194.0 42.3h0M194.1 41.6h0M195.7 41.8h0M187.5 29.0h0M196.8 36.5h0M199.6 45.5h0M196.4 37.9h0M195.1 42.2h0M205.1 46.7h0M188.8 32.1h0M194.9 40.0h0M193.0 36.3h0M196.6 41.5h0M199.9 49.1h0M189.6 33.9h0M199.7 36.8h0M191.8 33.3h0M191.2 38.4h0M195.9 35.4h0M191.2 34.3h0M192.6 37.3h0M195.6 43.4h0M185.6 33.8h0M188.5 29.3h0M189.7 36.6h0M188.9 36.4h0M185.3 32.5h0M197.1 42.8h0M185.0 32.5h0M190.4 38.1h0M194.1 40.0h0M192.9 39.3h0M196.2 41.6h0M190.6 36.7h0M195.8 36.7h0M188.7 36.1h0M204.4 47.0h0M198.4 47.9h0M190.4 29.1h0M197.7 40.5h0M192.3 35.7h0M191.1 38.0h0M196.2 35.0h0M186.1 32.3h0M187.2 29.0h0M201.0 45.7h0M193.8 41.0h0M189.1 30.5h0M187.3 32.7h0M201.7 41.3h0M191.2 31.7h0M184.1 34.4h0M201.1 47.6h0M198.1 40.8h0M190.9 39.0h0M190.5 34.0h0M195.3 39.8h0M199.6 41.0h0" stroke="#48aeea" stroke-width="1.20" stroke-linecap="round" fill="none"/>
<path d="M186.9 35.6h0M196.9 43.8h0M204.3 46.1h0M200.5 43.3h0M192.7 30.4h0M200.5 47.0h0M199.7 41.5h0M194.1 32.0h0M188.3 33.1h0M186.9 32.3h0M199.2 43.9h0M193.0 36.7h0M200.1 44.9h0M190.6 36.4h0M190.6 30.5h0M193.9 35.5h0M187.0 35.5h0M188.1 34.9h0M196.6 40.7h0M192.7 31.9h0M202.8 47.5h0M194.8 32.9h0M193.9 32.5h0M186.4 33.8h0M195.8 33.5h0M198.7 45.2h0M195.7 39.7h0M187.2 34.1h0M198.8 46.1h0M192.9 32.1h0M193.0 31.6h0M196.4 33.7h0M198.8 40.5h0M196.5 35.6h0M198.1 38.4h0M195.0 44.4h0M186.0 32.4h0M192.0 30.2h0M199.6 38.2h0M197.3 37.1h0M201.1 40.6h0M187.2 29.4h0M202.5 44.2h0M190.7 38.6h0M189.9 32.4h0M190.3 32.2h0M193.7 30.8h0M188.0 33.9h0M197.2 48.3h0M201.5 41.5h0M184.7 31.0h0M199.4 37.3h0M185.7 36.0h0M200.6 48.9h0M189.0 37.3h0M200.8 41.7h0M187.8 35.8h0M198.6 42.6h0M190.3 35.2h0M199.9 37.1h0M200.3 39.5h0M200.4 46.5h0M188.5 32.0h0M185.5 28.9h0M198.6 37.5h0M201.0 40.8h0M188.8 30.7h0M189.2 37.7h0M198.6 35.5h0M197.3 35.6h0M194.9 32.7h0M202.9 43.9h0M184.1 32.2h0M196.1 35.8h0M199.8 43.4h0M187.4 28.3h0M186.8 36.7h0M193.5 35.6h0M195.7 42.4h0M191.7 37.4h0M195.8 41.9h0M195.9 45.0h0M186.5 28.5h0M196.9 35.8h0M201.1 44.5h0M201.7 43.1h0M183.4 34.9h0M194.7 42.8h0M197.4 48.8h0M190.9 36.4h0M186.6 33.6h0M185.5 28.2h0M197.0 36.4h0M202.7 43.2h0M202.2 41.2h0M189.2 32.5h0M196.3 45.0h0M194.6 38.8h0M200.1 42.2h0M185.1 32.3h0" stroke="#1f8fd8" stroke-width="1.20" stroke-linecap="round" fill="none"/>
<path d="M201.3 42.4h0M199.9 42.4h0M186.4 33.8h0M196.9 35.6h0M198.9 42.8h0M202.4 46.7h0M201.7 41.7h0M201.0 40.8h0M198.2 40.2h0M199.8 49.4h0M195.4 34.6h0M201.3 43.3h0M196.4 48.3h0M202.8 43.9h0M193.4 40.8h0M186.1 35.9h0M187.8 30.9h0M187.1 36.7h0M194.1 33.1h0M191.2 36.0h0M195.1 39.6h0M194.5 42.9h0M195.4 44.5h0M188.2 33.2h0M198.5 46.9h0M184.4 31.4h0M194.8 34.2h0M193.6 40.5h0M198.2 47.4h0M192.9 30.4h0M187.1 31.6h0M186.1 32.0h0M202.6 42.5h0M195.3 42.0h0M184.3 33.8h0M192.8 33.4h0M196.7 34.8h0M186.1 33.1h0M198.5 40.3h0M199.6 44.9h0M199.7 45.4h0M198.2 49.4h0M183.7 31.8h0M197.9 44.9h0M197.4 42.0h0M190.8 35.7h0M185.1 28.7h0M196.3 38.0h0M198.5 37.9h0M186.8 35.1h0M185.2 28.7h0M196.5 40.9h0M189.7 30.7h0M196.4 37.3h0M189.4 33.8h0M196.8 42.2h0M184.5 34.6h0M194.8 37.8h0M190.8 36.6h0M190.0 37.3h0M190.0 37.7h0M200.8 40.1h0M194.1 41.8h0M196.9 48.4h0M197.5 48.9h0M204.4 46.7h0M195.5 37.3h0M193.8 31.6h0M186.5 34.3h0M193.7 34.9h0M193.0 42.1h0M191.5 34.7h0M184.8 32.5h0M187.8 28.0h0M186.3 27.3h0M185.1 34.6h0M188.9 33.9h0M184.6 33.2h0M196.8 36.0h0M199.1 45.1h0M198.0 39.5h0M197.9 39.7h0M191.5 35.5h0M192.8 40.1h0M190.6 32.9h0M197.5 39.6h0M185.2 33.5h0M198.1 43.3h0M203.9 45.9h0M185.5 31.2h0M194.3 37.9h0M191.0 30.1h0M199.4 37.1h0M189.8 30.3h0M193.7 39.6h0M197.5 34.7h0M199.5 40.9h0M197.3 39.3h0M189.1 35.5h0M192.3 39.0h0M198.6 40.5h0M186.3 27.4h0" stroke="#6ac0f0" stroke-width="1.20" stroke-linecap="round" fill="none"/>
<path d="M190.2 65.9h0M185.4 66.6h0M188.7 54.4h0M192.6 61.9h0M190.8 66.2h0M182.9 63.0h0M194.3 59.4h0M188.5 66.2h0M190.6 66.3h0M191.9 63.5h0M182.4 58.4h0M191.7 57.2h0M184.0 57.4h0M192.7 64.1h0M184.1 56.4h0M185.4 66.4h0M182.2 61.7h0M184.3 57.9h0M192.1 63.8h0M183.7 64.2h0M183.8 61.5h0M193.4 59.1h0M184.4 65.3h0M184.6 58.4h0M193.2 60.4h0M192.7 58.3h0M191.5 55.9h0M190.0 66.7h0M191.1 55.2h0M193.4 62.3h0" stroke="#f4c0b8" stroke-width="0.90" stroke-linecap="round" fill="none"/>
<path d="M182.5 60.7h0M189.1 67.4h0M189.3 66.5h0M183.3 59.0h0M188.2 54.2h0M183.1 59.6h0M185.4 57.0h0M191.7 58.1h0M188.5 55.5h0M192.5 56.9h0M193.4 57.5h0M182.4 58.0h0M183.8 56.0h0M190.2 67.0h0M182.1 61.7h0M187.6 66.8h0M183.2 62.0h0M185.6 54.8h0M188.6 55.0h0M192.2 56.5h0" stroke="#f0a8a0" stroke-width="0.90" stroke-linecap="round" fill="none"/>
<path d="M166.6 65.4h0M166.9 65.6h0M169.6 74.5h0M168.2 63.3h0M172.4 78.5h0M167.7 65.5h0M166.0 65.4h0M171.4 74.7h0M168.6 72.4h0M168.1 71.2h0M167.7 67.0h0M166.3 66.2h0M169.8 74.1h0M166.2 63.6h0M165.8 64.9h0M169.0 71.6h0M164.9 62.7h0M166.9 66.3h0M171.4 79.2h0M168.0 65.0h0M166.3 64.6h0M170.7 78.7h0M169.8 75.7h0M169.6 72.7h0M164.8 62.0h0M169.1 71.9h0M167.4 67.3h0M169.0 68.5h0M173.2 78.3h0M167.8 66.5h0" stroke="#f0a0c8" stroke-width="1.10" stroke-linecap="round" fill="none"/>
<circle cx="174.20" cy="78.00" r="1.3" fill="#f0a0d0"/>
<path d="M178.6 89.3h0M179.4 89.6h0M180.2 91.0h0M176.2 88.6h0M178.5 88.9h0M179.1 89.0h0M179.4 85.7h0M180.0 87.3h0M176.0 90.7h0M179.1 86.2h0M178.7 88.2h0M178.9 93.5h0M179.4 87.1h0M175.6 88.9h0M180.1 85.8h0M181.9 90.7h0M182.7 90.6h0M181.2 90.0h0" stroke="#d8e0a0" stroke-width="1.10" stroke-linecap="round" fill="none"/>
<path d="M182.6 88.8h0M179.7 93.0h0M179.1 84.0h0M176.8 92.6h0M180.3 87.4h0M181.1 85.5h0M177.9 91.5h0M182.6 91.1h0M178.1 92.2h0M177.0 86.2h0M180.9 89.8h0M181.3 87.3h0M182.0 92.1h0M178.5 92.2h0M176.1 90.4h0M179.6 84.7h0M178.7 86.7h0M177.3 91.9h0M175.9 90.8h0M176.4 88.5h0M179.8 90.0h0M178.0 86.7h0" stroke="#c8d890" stroke-width="1.10" stroke-linecap="round" fill="none"/>
<path d="M172.5 89.0h0M176.5 92.0h0M174.2 92.0h0M177.8 96.4h0M176.5 103.1h0M173.0 97.2h0M175.0 95.8h0M179.3 103.4h0M175.2 92.2h0M175.3 99.8h0M177.5 90.3h0M177.3 102.5h0M173.8 93.6h0M172.8 89.4h0M178.5 100.4h0M176.0 91.4h0M172.3 92.6h0M179.1 94.1h0M174.8 93.8h0M172.7 92.8h0M176.7 92.1h0M178.8 101.7h0M180.2 101.6h0M179.3 100.2h0M178.2 98.3h0M174.6 89.8h0M179.2 96.7h0M172.1 87.8h0M174.9 88.4h0M175.7 100.3h0M173.8 91.9h0M175.3 103.7h0M177.1 94.5h0M177.3 91.6h0M176.7 102.2h0M176.4 90.4h0M176.1 97.5h0M178.8 103.5h0M176.1 93.2h0M176.0 102.5h0M178.9 103.7h0M176.4 96.7h0M172.7 91.7h0M176.4 94.2h0M176.7 99.8h0M175.9 103.4h0M177.6 96.2h0M176.4 102.6h0M175.0 96.8h0M177.4 100.8h0M172.1 89.2h0M175.4 89.9h0M177.2 93.0h0M174.6 98.6h0M174.6 98.0h0M177.6 102.4h0M178.9 100.5h0M176.1 102.0h0M174.8 93.2h0M176.0 100.2h0M171.1 91.4h0M170.5 94.4h0M172.2 94.6h0M176.7 91.6h0M180.4 100.8h0M174.3 95.0h0M175.6 92.2h0" stroke="#2e9a5a" stroke-width="1.20" stroke-linecap="round" fill="none"/>
<path d="M174.4 100.7h0M174.8 100.6h0M176.0 92.0h0M177.5 98.6h0M171.6 92.3h0M177.6 102.4h0M176.1 103.1h0M171.6 96.4h0M170.3 91.8h0M174.6 95.9h0M175.4 98.9h0M175.8 95.2h0M178.6 99.2h0M172.2 89.0h0M179.2 104.7h0M178.7 95.4h0M175.7 100.6h0M173.7 100.0h0M175.6 93.9h0M175.9 88.6h0M173.3 90.6h0M170.4 92.7h0M175.5 92.8h0M180.0 98.4h0M170.4 89.4h0M171.8 96.8h0M173.8 99.3h0M171.0 95.1h0M171.0 90.8h0M173.7 88.4h0M171.6 95.1h0M174.7 96.4h0M173.2 96.9h0M172.7 93.7h0M175.9 91.2h0M178.4 100.5h0M176.8 94.0h0M179.2 104.1h0M178.3 101.8h0M178.5 104.3h0M172.1 96.1h0M172.4 97.5h0M176.6 103.3h0M176.9 100.7h0M173.0 87.1h0M176.2 90.5h0M179.9 100.0h0M173.2 89.2h0M177.7 104.5h0M180.4 101.2h0M172.7 98.4h0M172.9 89.9h0M172.5 93.8h0M176.0 90.8h0M172.1 90.3h0M172.1 98.2h0M173.2 93.0h0M175.8 92.5h0M176.9 103.0h0M170.6 95.9h0M171.4 91.1h0M174.7 87.8h0" stroke="#3aa66a" stroke-width="1.20" stroke-linecap="round" fill="none"/>
<path d="M172.6 98.2h0M171.7 92.1h0M170.6 90.6h0M172.8 89.0h0M174.7 97.3h0M176.1 92.4h0M175.9 101.5h0M171.0 88.3h0M170.6 89.8h0M176.9 95.8h0M173.5 87.2h0M173.9 98.1h0M179.0 100.9h0M173.9 94.8h0M173.5 92.1h0M176.8 93.0h0M177.4 100.7h0M179.0 96.3h0M177.8 100.7h0M174.6 99.9h0M173.5 94.9h0M176.6 98.5h0M178.7 99.2h0M172.8 97.7h0M177.7 97.3h0M172.6 93.4h0M178.9 93.8h0M180.1 102.6h0M175.4 97.2h0M179.1 99.4h0M173.9 96.6h0M172.0 97.3h0M177.4 105.2h0M176.8 98.2h0M170.8 93.7h0M177.2 93.2h0M174.7 92.9h0M176.2 104.9h0M172.4 89.6h0M174.7 89.1h0M174.3 87.5h0M175.9 96.7h0M178.0 101.0h0M175.6 89.5h0M170.6 92.4h0M174.7 97.3h0M170.9 93.9h0M173.5 93.2h0M174.2 100.3h0M172.2 93.4h0M178.0 91.6h0M180.0 99.7h0M175.2 98.6h0M179.0 96.8h0M175.0 95.1h0M170.5 95.5h0M172.7 98.5h0M176.9 100.6h0M179.8 102.9h0M172.2 98.5h0" stroke="#48b078" stroke-width="1.20" stroke-linecap="round" fill="none"/>
<path d="M177.7 100.4h0M175.7 101.7h0M172.7 95.0h0M174.2 96.9h0M175.0 98.5h0M176.7 100.4h0M171.6 91.0h0M173.7 87.7h0M174.4 92.3h0M175.8 98.2h0M177.6 94.1h0M175.0 98.6h0M173.8 89.2h0M173.0 93.1h0M172.3 91.1h0M172.7 98.2h0M175.3 88.8h0M175.0 95.6h0M179.2 103.0h0M175.5 101.7h0M178.5 99.5h0M175.3 90.0h0M177.8 105.1h0M177.4 93.8h0M179.1 97.7h0M176.1 97.4h0M172.9 95.1h0M176.3 98.9h0M173.5 95.2h0M180.1 99.1h0M177.6 90.6h0M178.5 99.7h0M178.7 99.0h0M174.0 89.9h0M172.1 99.0h0M174.2 103.4h0M174.7 91.6h0M175.3 100.0h0M173.1 88.4h0M175.0 98.1h0M177.8 91.0h0M176.2 92.8h0M177.0 102.2h0M173.4 99.3h0M174.2 89.7h0M176.1 96.2h0M174.3 96.1h0M176.8 95.2h0M174.9 89.4h0M177.9 93.6h0M178.7 99.4h0M176.8 92.8h0M172.3 91.9h0M170.1 91.0h0M179.9 101.6h0M175.3 93.4h0M177.3 105.6h0M177.2 97.3h0M177.4 97.7h0M174.5 102.8h0M175.0 100.1h0M172.3 87.9h0M171.1 92.5h0M179.6 103.3h0M174.5 100.8h0M174.0 97.8h0M172.9 87.7h0M180.2 100.2h0M177.5 93.9h0M174.4 88.1h0M174.5 93.0h0" stroke="#208850" stroke-width="1.20" stroke-linecap="round" fill="none"/>
<path d="M180.2,32 L188.2,30 L201.2,38 L203.2,50 L198.2,54 L188.2,49 L181.2,40 Z" fill="none" stroke="#2a2a2a" stroke-width="0.75" stroke-dasharray="1.8,1.3"/>
<path d="M150.2,47 L168.2,37 L181.2,40 L187.2,52 L174.2,56 L164.2,63 L154.2,62 Z" fill="none" stroke="#2a2a2a" stroke-width="0.75" stroke-dasharray="1.8,1.3"/>
<path d="M168.2,37 L174.2,56" fill="none" stroke="#2a2a2a" stroke-width="0.75" stroke-dasharray="1.8,1.3"/>
<path d="M182.2,56 Q188.2,50 194.2,56 Q197.2,64 190.2,68 Q183.2,67 182.2,60 Z" fill="none" stroke="#2a2a2a" stroke-width="0.75" stroke-dasharray="1.8,1.3"/>
<path d="M172.2,81 L180.2,83 L183.2,100 L178.2,106 L172.2,98 Z" fill="none" stroke="#2a2a2a" stroke-width="0.75" stroke-dasharray="1.8,1.3"/>
<path d="M174.2,83 L181.2,86" fill="none" stroke="#2a2a2a" stroke-width="0.75" stroke-dasharray="1.8,1.3"/>
<text x="141.20" y="33.50" font-size="8.0" fill="#231f20">CD4<tspan font-size="4.5" dy="-2.6">+</tspan><tspan dy="2.6"> N</tspan></text>
<line x1="168.20" y1="30.80" x2="181.20" y2="31.80" stroke="#231f20" stroke-width="0.8"/>
<text x="122.20" y="41.00" font-size="8.0" fill="#231f20">CD4<tspan font-size="4.5" dy="-2.6">+</tspan><tspan dy="2.6"> M</tspan></text>
<line x1="151.20" y1="37.50" x2="171.20" y2="34.00" stroke="#231f20" stroke-width="0.8"/>
<text x="121.20" y="59.30" font-size="8.0" fill="#231f20">CD8<tspan font-size="4.5" dy="-2.6">+</tspan><tspan dy="2.6"> M</tspan></text>
<line x1="148.20" y1="53.80" x2="158.20" y2="50.50" stroke="#231f20" stroke-width="0.8"/>
<text x="178.20" y="77.80" font-size="8.0" fill="#231f20">CD8<tspan font-size="4.5" dy="-2.6">+</tspan><tspan dy="2.6"> N</tspan></text>
<line x1="198.20" y1="71.50" x2="197.20" y2="55.00" stroke="#231f20" stroke-width="0.8"/>
<text x="187.70" y="91.30" font-size="8.0" fill="#231f20">MB</text>
<line x1="181.20" y1="89.50" x2="186.70" y2="88.50" stroke="#231f20" stroke-width="0.8"/>
<text x="150.70" y="101.30" font-size="8.0" fill="#231f20">NB</text>
<line x1="160.70" y1="98.00" x2="168.20" y2="97.00" stroke="#231f20" stroke-width="0.8"/>
<rect x="119.2" y="25.9" width="86.2" height="80.9" fill="none" stroke="#231f20" stroke-width="1.4"/>
<line x1="136.00" y1="107.00" x2="136.00" y2="109.50" stroke="#231f20" stroke-width="0.9"/>
<text x="133.62" y="119.87" font-size="8.2" text-anchor="middle" fill="#231f20">&#8722;10</text>
<line x1="156.20" y1="107.00" x2="156.20" y2="109.50" stroke="#231f20" stroke-width="0.9"/>
<text x="153.82" y="119.87" font-size="8.2" text-anchor="middle" fill="#231f20">&#8722;5</text>
<line x1="176.30" y1="107.00" x2="176.30" y2="109.50" stroke="#231f20" stroke-width="0.9"/>
<text x="176.30" y="119.87" font-size="8.2" text-anchor="middle" fill="#231f20">0</text>
<line x1="196.60" y1="107.00" x2="196.60" y2="109.50" stroke="#231f20" stroke-width="0.9"/>
<text x="196.60" y="119.87" font-size="8.2" text-anchor="middle" fill="#231f20">5</text>
<line x1="116.20" y1="39.80" x2="119.20" y2="39.80" stroke="#231f20" stroke-width="0.9"/>
<line x1="116.20" y1="58.30" x2="119.20" y2="58.30" stroke="#231f20" stroke-width="0.9"/>
<line x1="116.20" y1="77.00" x2="119.20" y2="77.00" stroke="#231f20" stroke-width="0.9"/>
<line x1="116.20" y1="95.90" x2="119.20" y2="95.90" stroke="#231f20" stroke-width="0.9"/>
<text x="162.20" y="132.28" font-size="8.8" text-anchor="middle" fill="#231f20" textLength="26.3" lengthAdjust="spacingAndGlyphs">UMAP 1</text>
<text x="157.70" y="20.73" font-size="9.8" text-anchor="middle" fill="#231f20">II-1</text>
<text x="10.90" y="66.80" font-size="8.6" text-anchor="middle" fill="#231f20" transform="rotate(-90 10.90 66.80)" textLength="26.5" lengthAdjust="spacingAndGlyphs">UMAP 2</text>
<text x="240.80" y="30.81" font-size="8.9" text-anchor="middle" fill="#231f20">Legend</text>
<circle cx="213.70" cy="38.60" r="1.5" fill="#66c4d4"/>
<text x="218.80" y="41.40" font-size="8.0" fill="#231f20" textLength="48.4" lengthAdjust="spacingAndGlyphs">CD4 Naive (N)</text>
<circle cx="213.70" cy="46.25" r="1.5" fill="#f08c84"/>
<text x="218.80" y="49.05" font-size="8.0" fill="#231f20" textLength="57.1" lengthAdjust="spacingAndGlyphs">CD4 Memory (M)</text>
<circle cx="213.70" cy="53.90" r="1.5" fill="#98b6dc"/>
<text x="218.80" y="56.70" font-size="8.0" fill="#231f20" textLength="48.4" lengthAdjust="spacingAndGlyphs">CD8 Naive (N)</text>
<circle cx="213.70" cy="61.55" r="1.5" fill="#f4c08c"/>
<text x="218.80" y="64.35" font-size="8.0" fill="#231f20" textLength="57.1" lengthAdjust="spacingAndGlyphs">CD8 Memory (M)</text>
<circle cx="213.70" cy="69.20" r="1.5" fill="#68c0b0"/>
<text x="218.80" y="72.00" font-size="8.0" fill="#231f20" textLength="43.5" lengthAdjust="spacingAndGlyphs">Naive B (NB)</text>
<circle cx="213.70" cy="76.85" r="1.5" fill="#c4dc94"/>
<text x="218.80" y="79.65" font-size="8.0" fill="#231f20" textLength="52.1" lengthAdjust="spacingAndGlyphs">Memory B (MB)</text>
<circle cx="213.70" cy="84.50" r="1.5" fill="#d8a0d4"/>
<text x="218.80" y="87.30" font-size="8.0" fill="#231f20" textLength="41.4" lengthAdjust="spacingAndGlyphs">Natural killer</text>
<circle cx="213.70" cy="92.15" r="1.5" fill="#74b894"/>
<text x="218.80" y="94.95" font-size="8.0" fill="#231f20" textLength="36.0" lengthAdjust="spacingAndGlyphs">Monocytes</text>
<circle cx="213.70" cy="99.80" r="1.5" fill="#f4a4b4"/>
<text x="218.80" y="102.60" font-size="8.0" fill="#231f20" textLength="34.0" lengthAdjust="spacingAndGlyphs">Undefined</text>
<text x="293.92" y="9.42" font-size="11.8" font-weight="bold" fill="#000">B</text>
<circle cx="324.60" cy="7.40" r="1.6" fill="#cc1236"/>
<text x="329.30" y="10.03" font-size="7.8" fill="#231f20" textLength="51.9" lengthAdjust="spacingAndGlyphs">Significantly up</text>
<circle cx="389.60" cy="7.40" r="1.6" fill="#1f5a98"/>
<text x="394.80" y="10.03" font-size="7.8" fill="#231f20" textLength="61.4" lengthAdjust="spacingAndGlyphs">Significantly down</text>
<circle cx="461.50" cy="7.30" r="1.6" fill="#3caf4a"/>
<text x="466.50" y="10.03" font-size="7.8" fill="#231f20" textLength="50.4" lengthAdjust="spacingAndGlyphs">Non-significant</text>
<line x1="340.30" y1="14.80" x2="340.30" y2="35.00" stroke="#231f20" stroke-width="1.2"/>
<line x1="340.30" y1="40.80" x2="340.30" y2="111.00" stroke="#231f20" stroke-width="1.2"/>
<line x1="339.70" y1="110.40" x2="480.00" y2="110.40" stroke="#231f20" stroke-width="1.2"/>
<line x1="337.30" y1="35.00" x2="343.80" y2="35.00" stroke="#231f20" stroke-width="1.1"/>
<line x1="337.30" y1="41.10" x2="343.80" y2="41.10" stroke="#231f20" stroke-width="1.1"/>
<line x1="337.30" y1="18.30" x2="340.30" y2="18.30" stroke="#231f20" stroke-width="1.0"/>
<text x="334.80" y="21.07" font-size="7.9" text-anchor="end" fill="#231f20">90</text>
<line x1="337.30" y1="26.00" x2="340.30" y2="26.00" stroke="#231f20" stroke-width="1.0"/>
<text x="334.80" y="28.77" font-size="7.9" text-anchor="end" fill="#231f20">60</text>
<line x1="337.30" y1="33.80" x2="340.30" y2="33.80" stroke="#231f20" stroke-width="1.0"/>
<text x="334.80" y="36.56" font-size="7.9" text-anchor="end" fill="#231f20">30</text>
<text x="334.80" y="44.37" font-size="7.9" text-anchor="end" fill="#231f20">30</text>
<line x1="337.30" y1="64.54" x2="340.30" y2="64.54" stroke="#231f20" stroke-width="1.0"/>
<text x="334.80" y="67.31" font-size="7.9" text-anchor="end" fill="#231f20">20</text>
<line x1="337.30" y1="87.47" x2="340.30" y2="87.47" stroke="#231f20" stroke-width="1.0"/>
<text x="334.80" y="90.23" font-size="7.9" text-anchor="end" fill="#231f20">10</text>
<line x1="337.30" y1="110.40" x2="340.30" y2="110.40" stroke="#231f20" stroke-width="1.0"/>
<text x="334.80" y="113.17" font-size="7.9" text-anchor="end" fill="#231f20">0</text>
<line x1="340.40" y1="110.40" x2="340.40" y2="113.00" stroke="#231f20" stroke-width="1.0"/>
<text x="338.10" y="122.36" font-size="7.9" text-anchor="middle" fill="#231f20">&#8722;2</text>
<line x1="375.20" y1="110.40" x2="375.20" y2="113.00" stroke="#231f20" stroke-width="1.0"/>
<text x="372.90" y="122.36" font-size="7.9" text-anchor="middle" fill="#231f20">&#8722;1</text>
<line x1="410.00" y1="110.40" x2="410.00" y2="113.00" stroke="#231f20" stroke-width="1.0"/>
<text x="410.00" y="122.36" font-size="7.9" text-anchor="middle" fill="#231f20">0</text>
<line x1="444.80" y1="110.40" x2="444.80" y2="113.00" stroke="#231f20" stroke-width="1.0"/>
<text x="444.80" y="122.36" font-size="7.9" text-anchor="middle" fill="#231f20">1</text>
<line x1="479.60" y1="110.40" x2="479.60" y2="113.00" stroke="#231f20" stroke-width="1.0"/>
<text x="479.60" y="122.36" font-size="7.9" text-anchor="middle" fill="#231f20">2</text>
<text x="411.70" y="134.68" font-size="8.8" text-anchor="middle" fill="#231f20" textLength="62" lengthAdjust="spacingAndGlyphs">log<tspan font-size="6" dy="2">2</tspan><tspan dy="-2"> (fold change)</tspan></text>
<text x="318.60" y="62.30" font-size="8.8" text-anchor="middle" fill="#231f20" transform="rotate(-90 318.60 62.30)" textLength="54.6" lengthAdjust="spacingAndGlyphs">-log<tspan font-size="6" dy="2">10</tspan><tspan dy="-2"> (p-value)</tspan></text>
<line x1="340.30" y1="101.30" x2="477.00" y2="101.30" stroke="#231f20" stroke-width="0.8" stroke-dasharray="2.2,1.6"/>
<text x="481.00" y="104.39" font-size="7.4" fill="#231f20">FDR</text>
<path d="M403.3 107.9h0M410.6 107.5h0M409.0 109.9h0M402.6 109.2h0M408.1 107.5h0M404.9 108.0h0M403.2 109.2h0M408.7 108.2h0M410.1 108.6h0M403.4 106.2h0M410.7 107.7h0M407.8 105.9h0M404.4 108.6h0M408.3 105.6h0M404.1 107.5h0M406.2 105.7h0M401.2 100.3h0M406.6 104.8h0M408.7 105.4h0M399.3 104.2h0M410.1 107.0h0M402.1 108.3h0M408.1 105.9h0M399.7 108.6h0M409.3 109.4h0M405.8 105.2h0M402.9 106.2h0M408.7 107.8h0M406.2 109.5h0M407.8 106.6h0M405.0 109.6h0M405.9 109.8h0M406.7 109.2h0M404.1 106.4h0M403.6 108.8h0M402.8 106.0h0M407.4 109.8h0M405.4 108.4h0M405.2 107.6h0M404.9 104.3h0M408.2 104.3h0M410.4 109.2h0M408.7 106.0h0M402.9 107.7h0M407.7 106.1h0M403.4 106.7h0M403.6 109.5h0M402.7 104.1h0M405.5 109.5h0M400.9 106.6h0M408.6 106.9h0M404.1 106.0h0M405.5 109.3h0M405.2 107.9h0M402.4 107.4h0M405.5 108.2h0M411.5 109.0h0M407.4 108.3h0M405.2 106.6h0M404.2 104.8h0M398.7 105.4h0M402.2 108.4h0M405.4 108.0h0M408.3 108.0h0M407.3 108.6h0M409.1 106.7h0M406.0 106.2h0M407.5 104.6h0" stroke="#98b4d8" stroke-width="1.80" stroke-linecap="round" fill="none"/>
<path d="M413.8 104.7h0M414.9 109.1h0M412.9 109.2h0M413.3 105.7h0M420.0 107.3h0M410.5 104.6h0M411.3 109.8h0M419.2 107.9h0M411.7 105.7h0M410.4 109.6h0M417.1 108.3h0M419.6 103.4h0M414.7 102.6h0M417.9 109.6h0M416.4 106.6h0M410.7 109.7h0M414.8 107.4h0M416.5 109.5h0M412.8 103.6h0M414.7 104.4h0M413.6 106.4h0M411.6 109.4h0M417.9 102.6h0M416.0 109.0h0M417.9 109.3h0M413.9 105.6h0M424.2 107.4h0M413.1 107.5h0M413.1 109.2h0M409.6 106.4h0M413.3 107.9h0M413.2 108.6h0M411.9 108.9h0M415.6 106.6h0M413.1 106.3h0M417.1 109.5h0M409.3 108.7h0M411.7 105.7h0M408.4 106.8h0M408.9 108.0h0M409.4 107.5h0M412.7 108.7h0M412.2 107.6h0M420.1 109.4h0M410.2 109.3h0M413.8 108.7h0M418.1 106.0h0M421.0 108.1h0M416.4 107.2h0M412.1 106.8h0M414.6 106.1h0M412.2 99.5h0M414.1 105.8h0M414.0 105.9h0M411.0 108.2h0M423.6 105.9h0M410.1 108.1h0" stroke="#f0a8b8" stroke-width="1.80" stroke-linecap="round" fill="none"/>
<path d="M412.5 108.3h0M411.6 109.4h0M410.3 108.4h0M409.6 108.3h0M406.5 107.9h0M414.6 109.2h0M408.2 109.8h0M408.9 107.4h0M409.9 108.7h0M411.6 109.4h0M408.4 108.4h0M410.3 106.4h0M407.8 107.8h0M412.0 107.6h0M408.9 108.8h0M409.3 109.0h0M413.0 109.6h0M413.2 108.5h0M410.9 106.5h0M408.2 108.6h0M408.6 106.5h0M409.3 108.6h0M415.2 109.0h0M404.9 108.0h0M412.2 110.0h0M410.7 108.5h0M408.6 110.0h0M410.3 106.4h0M413.3 109.7h0M406.8 108.1h0M409.8 107.5h0M410.1 109.7h0M411.5 108.5h0M408.4 105.0h0M407.9 108.0h0M411.6 108.3h0M413.2 107.1h0M412.2 105.5h0M410.1 109.4h0M412.4 107.7h0M407.8 109.5h0M409.6 108.5h0M408.0 108.6h0M412.7 107.1h0M411.8 106.3h0" stroke="#3caf4a" stroke-width="1.90" stroke-linecap="round" fill="none"/>
<circle cx="355.30" cy="23.40" r="1.05" fill="#1f5a98"/>
<circle cx="367.50" cy="29.90" r="1.05" fill="#1f5a98"/>
<circle cx="380.80" cy="63.50" r="1.05" fill="#1f5a98"/>
<circle cx="382.00" cy="68.30" r="1.05" fill="#1f5a98"/>
<circle cx="382.00" cy="70.20" r="1.05" fill="#1f5a98"/>
<circle cx="382.30" cy="72.10" r="1.05" fill="#1f5a98"/>
<circle cx="366.90" cy="85.00" r="1.05" fill="#1f5a98"/>
<circle cx="395.80" cy="70.20" r="1.05" fill="#1f5a98"/>
<circle cx="392.90" cy="83.10" r="1.05" fill="#1f5a98"/>
<circle cx="394.20" cy="84.20" r="1.05" fill="#1f5a98"/>
<circle cx="391.50" cy="87.50" r="1.05" fill="#1f5a98"/>
<circle cx="394.80" cy="88.50" r="1.05" fill="#1f5a98"/>
<circle cx="395.80" cy="87.50" r="1.05" fill="#1f5a98"/>
<circle cx="396.70" cy="89.40" r="1.05" fill="#1f5a98"/>
<circle cx="393.80" cy="90.40" r="1.05" fill="#1f5a98"/>
<circle cx="397.70" cy="97.10" r="1.05" fill="#1f5a98"/>
<circle cx="399.60" cy="96.20" r="1.05" fill="#1f5a98"/>
<circle cx="401.20" cy="94.60" r="1.05" fill="#1f5a98"/>
<circle cx="402.50" cy="95.20" r="1.05" fill="#1f5a98"/>
<circle cx="403.50" cy="97.10" r="1.05" fill="#1f5a98"/>
<circle cx="404.40" cy="94.60" r="1.05" fill="#1f5a98"/>
<circle cx="398.70" cy="99.00" r="1.05" fill="#1f5a98"/>
<circle cx="400.60" cy="98.10" r="1.05" fill="#1f5a98"/>
<circle cx="401.50" cy="99.60" r="1.05" fill="#1f5a98"/>
<circle cx="397.30" cy="100.40" r="1.05" fill="#1f5a98"/>
<circle cx="399.60" cy="100.40" r="1.05" fill="#1f5a98"/>
<circle cx="403.00" cy="100.00" r="1.05" fill="#1f5a98"/>
<circle cx="405.00" cy="98.50" r="1.05" fill="#1f5a98"/>
<circle cx="396.00" cy="98.50" r="1.05" fill="#1f5a98"/>
<circle cx="449.20" cy="19.50" r="1.05" fill="#cc1236"/>
<circle cx="433.60" cy="29.10" r="1.05" fill="#cc1236"/>
<circle cx="443.20" cy="28.00" r="1.05" fill="#cc1236"/>
<circle cx="439.40" cy="29.10" r="1.05" fill="#cc1236"/>
<circle cx="429.00" cy="49.40" r="1.05" fill="#cc1236"/>
<circle cx="425.00" cy="59.20" r="1.05" fill="#cc1236"/>
<circle cx="429.00" cy="61.00" r="1.05" fill="#cc1236"/>
<circle cx="425.00" cy="69.60" r="1.05" fill="#cc1236"/>
<circle cx="427.70" cy="69.60" r="1.05" fill="#cc1236"/>
<circle cx="426.40" cy="76.00" r="1.05" fill="#cc1236"/>
<circle cx="424.50" cy="80.50" r="1.05" fill="#cc1236"/>
<circle cx="428.00" cy="79.00" r="1.05" fill="#cc1236"/>
<circle cx="423.50" cy="83.00" r="1.05" fill="#cc1236"/>
<circle cx="426.00" cy="85.00" r="1.05" fill="#cc1236"/>
<circle cx="422.00" cy="87.00" r="1.05" fill="#cc1236"/>
<circle cx="425.50" cy="88.50" r="1.05" fill="#cc1236"/>
<circle cx="420.50" cy="90.50" r="1.05" fill="#cc1236"/>
<circle cx="423.00" cy="92.00" r="1.05" fill="#cc1236"/>
<circle cx="419.50" cy="94.00" r="1.05" fill="#cc1236"/>
<circle cx="421.50" cy="96.00" r="1.05" fill="#cc1236"/>
<circle cx="418.50" cy="98.00" r="1.05" fill="#cc1236"/>
<circle cx="421.00" cy="99.50" r="1.05" fill="#cc1236"/>
<circle cx="417.00" cy="101.50" r="1.05" fill="#cc1236"/>
<circle cx="419.50" cy="103.00" r="1.05" fill="#cc1236"/>
<circle cx="416.00" cy="105.00" r="1.05" fill="#cc1236"/>
<circle cx="427.00" cy="95.50" r="1.05" fill="#cc1236"/>
<circle cx="429.00" cy="92.50" r="1.05" fill="#cc1236"/>
<circle cx="424.00" cy="97.50" r="1.05" fill="#cc1236"/>
<circle cx="430.00" cy="99.00" r="1.05" fill="#cc1236"/>
<circle cx="433.00" cy="102.00" r="1.05" fill="#cc1236"/>
<circle cx="436.00" cy="103.50" r="1.05" fill="#cc1236"/>
<circle cx="420.00" cy="85.00" r="1.05" fill="#cc1236"/>
<circle cx="418.00" cy="92.00" r="1.05" fill="#cc1236"/>
<line x1="439.40" y1="29.10" x2="439.40" y2="33.00" stroke="#231f20" stroke-width="0.6"/>
<text x="358.30" y="26.05" font-size="7.0" font-weight="bold" font-style="italic" fill="#231f20">LTA</text>
<text x="371.00" y="32.55" font-size="7.0" font-weight="bold" font-style="italic" fill="#231f20">TNF</text>
<text x="372.50" y="61.45" font-size="7.0" font-style="italic" fill="#231f20">CSF2</text>
<text x="363.50" y="71.45" font-size="7.0" font-weight="bold" font-style="italic" fill="#231f20">DUSP4</text>
<text x="389.50" y="66.85" font-size="7.0" font-style="italic" fill="#231f20">SNX8</text>
<text x="345.00" y="81.65" font-size="7.0" font-style="italic" fill="#231f20">CCL22</text>
<text x="372.50" y="80.85" font-size="7.0" font-style="italic" fill="#231f20">ANXA5</text>
<text x="371.50" y="90.75" font-size="7.0" font-style="italic" fill="#231f20">CCL4</text>
<text x="372.50" y="99.85" font-size="7.0" font-style="italic" fill="#231f20">IL1A</text>
<line x1="385.50" y1="97.20" x2="396.50" y2="89.50" stroke="#231f20" stroke-width="0.6"/>
<line x1="387.50" y1="88.30" x2="393.50" y2="89.50" stroke="#231f20" stroke-width="0.6"/>
<text x="423.80" y="27.15" font-size="7.0" font-style="italic" fill="#231f20">JAK1</text>
<text x="451.30" y="24.45" font-size="7.0" font-style="italic" fill="#231f20">GBP2</text>
<text x="446.00" y="31.05" font-size="7.0" font-style="italic" fill="#231f20">CR2</text>
<text x="430.00" y="39.35" font-size="7.0" font-style="italic" fill="#231f20">GBP1</text>
<text x="439.00" y="47.95" font-size="7.0" font-weight="bold" font-style="italic" fill="#231f20">IGHD</text>
<text x="440.60" y="55.65" font-size="7.0" font-style="italic" fill="#231f20">HLA.A</text>
<text x="440.60" y="62.15" font-size="7.0" font-style="italic" fill="#231f20">HLA.DQB1</text>
<text x="438.00" y="70.45" font-size="7.0" font-style="italic" fill="#231f20">PIK3AP1</text>
<text x="439.00" y="75.95" font-size="7.0" font-weight="bold" font-style="italic" fill="#231f20">CD74</text>
<text x="447.00" y="81.65" font-size="7.0" font-weight="bold" font-style="italic" fill="#231f20">TNFAIP8</text>
<text x="453.60" y="88.15" font-size="7.0" font-weight="bold" font-style="italic" fill="#231f20">STAT3</text>
<text x="456.00" y="94.65" font-size="7.0" font-weight="bold" font-style="italic" fill="#231f20">HIF1A</text>
<text x="457.50" y="101.15" font-size="7.0" font-weight="bold" font-style="italic" fill="#231f20">LDHA</text>
<text x="435.50" y="108.95" font-size="7.0" font-weight="bold" font-style="italic" fill="#231f20">MYC</text>
<line x1="430.00" y1="49.40" x2="438.00" y2="45.50" stroke="#231f20" stroke-width="0.6"/>
<line x1="425.50" y1="59.20" x2="439.50" y2="53.50" stroke="#231f20" stroke-width="0.6"/>
<line x1="430.00" y1="61.00" x2="439.50" y2="60.00" stroke="#231f20" stroke-width="0.6"/>
<line x1="428.00" y1="69.60" x2="437.00" y2="68.50" stroke="#231f20" stroke-width="0.6"/>
<line x1="427.00" y1="80.50" x2="438.50" y2="74.00" stroke="#231f20" stroke-width="0.6"/>
<line x1="428.00" y1="83.00" x2="446.00" y2="79.50" stroke="#231f20" stroke-width="0.6"/>
<line x1="426.00" y1="88.50" x2="452.50" y2="86.00" stroke="#231f20" stroke-width="0.6"/>
<line x1="424.00" y1="92.00" x2="455.00" y2="92.20" stroke="#231f20" stroke-width="0.6"/>
<line x1="422.00" y1="96.00" x2="456.50" y2="98.50" stroke="#231f20" stroke-width="0.6"/>
<line x1="427.00" y1="100.00" x2="434.00" y2="105.00" stroke="#231f20" stroke-width="0.6"/>
<text x="1.37" y="159.82" font-size="11.8" font-weight="bold" fill="#000">C</text>
<path d="M49.9,230.8 52.9,230.0 54.5,229.1 55.1,228.3 56.0,227.4 57.0,226.6 57.6,225.8 57.7,224.9 57.6,224.1 57.4,223.2 57.3,222.4 57.2,221.6 57.1,220.7 56.5,219.9 55.8,219.0 55.2,218.2 54.9,217.4 54.8,216.5 54.3,215.7 53.6,214.8 53.0,214.0 52.4,213.2 52.0,212.3 51.9,211.5 51.7,210.6 51.4,209.8 51.0,209.0 50.6,208.1 50.3,207.3 50.2,206.4 50.2,205.6 50.1,204.8 50.0,203.9 49.8,203.1 49.7,202.2 49.5,201.4 49.4,200.6 49.3,199.7 49.2,198.9 49.2,198.0 49.2,197.2 49.2,196.4 49.1,195.5 49.1,194.7 49.0,193.8 49.0,193.0 48.9,192.2 48.9,191.3 48.8,190.5 48.8,189.6 48.8,188.8 48.0,188.8 48.0,189.6 48.0,190.5 47.9,191.3 47.9,192.2 47.8,193.0 47.8,193.8 47.7,194.7 47.7,195.5 47.6,196.4 47.6,197.2 47.6,198.0 47.6,198.9 47.5,199.7 47.4,200.6 47.3,201.4 47.1,202.2 47.0,203.1 46.8,203.9 46.7,204.8 46.6,205.6 46.6,206.4 46.5,207.3 46.2,208.1 45.8,209.0 45.4,209.8 45.1,210.6 44.9,211.5 44.8,212.3 44.4,213.2 43.8,214.0 43.2,214.8 42.5,215.7 42.0,216.5 41.9,217.4 41.6,218.2 41.0,219.0 40.3,219.9 39.7,220.7 39.6,221.6 39.5,222.4 39.4,223.2 39.2,224.1 39.1,224.9 39.2,225.8 39.8,226.6 40.8,227.4 41.7,228.3 42.3,229.1 43.9,230.0 46.9,230.8Z" fill="#8db0d8" stroke="#6a90bc" stroke-width="0.45"/>
<path d="M71.3,230.8 74.0,230.0 75.8,229.3 76.1,228.5 76.7,227.8 77.4,227.0 78.2,226.2 78.9,225.5 79.4,224.7 79.6,224.0 79.6,223.2 79.5,222.5 79.4,221.7 79.2,220.9 79.1,220.2 79.0,219.4 79.0,218.7 78.8,217.9 78.3,217.1 77.7,216.4 77.2,215.6 76.8,214.9 76.8,214.1 76.5,213.3 76.1,212.6 75.5,211.8 75.0,211.1 74.6,210.3 74.3,209.6 74.3,208.8 74.1,208.0 73.7,207.3 73.2,206.5 72.7,205.8 72.3,205.0 72.1,204.2 72.0,203.5 71.9,202.7 71.8,202.0 71.6,201.2 71.4,200.4 71.2,199.7 71.1,198.9 70.9,198.2 70.8,197.4 70.8,196.7 70.7,195.9 70.6,195.1 70.4,194.4 70.3,193.6 70.2,192.9 69.4,192.9 69.3,193.6 69.2,194.4 69.0,195.1 68.9,195.9 68.8,196.7 68.8,197.4 68.7,198.2 68.5,198.9 68.4,199.7 68.2,200.4 68.0,201.2 67.8,202.0 67.7,202.7 67.6,203.5 67.5,204.2 67.3,205.0 66.9,205.8 66.4,206.5 65.9,207.3 65.5,208.0 65.3,208.8 65.3,209.6 65.0,210.3 64.6,211.1 64.0,211.8 63.5,212.6 63.1,213.3 62.8,214.1 62.8,214.9 62.4,215.6 61.9,216.4 61.3,217.1 60.8,217.9 60.6,218.7 60.6,219.4 60.5,220.2 60.4,220.9 60.2,221.7 60.1,222.5 60.0,223.2 60.0,224.0 60.2,224.7 60.7,225.5 61.4,226.2 62.2,227.0 62.9,227.8 63.5,228.5 63.8,229.3 65.6,230.0 68.3,230.8Z" fill="#ee929e" stroke="#d87080" stroke-width="0.45"/>
<line x1="48.40" y1="230.80" x2="48.40" y2="171.18" stroke="#9fbbe0" stroke-width="0.9"/>
<line x1="69.80" y1="230.80" x2="69.80" y2="183.38" stroke="#f0a8b4" stroke-width="0.9"/>
<line x1="48.40" y1="230.80" x2="48.40" y2="188.80" stroke="#1b4a86" stroke-width="1.6"/>
<line x1="48.40" y1="213.19" x2="48.40" y2="188.80" stroke="#1b4a86" stroke-width="2.3" stroke-linecap="round"/>
<path d="M48.4 171.2h0" stroke="#1b4a86" stroke-width="2.40" stroke-linecap="round" fill="none"/>
<line x1="69.80" y1="230.80" x2="69.80" y2="192.86" stroke="#c4102e" stroke-width="1.6"/>
<line x1="69.80" y1="207.77" x2="69.80" y2="192.86" stroke="#c4102e" stroke-width="2.3" stroke-linecap="round"/>
<path d="M69.8 183.4h0" stroke="#c4102e" stroke-width="2.40" stroke-linecap="round" fill="none"/>
<line x1="48.40" y1="230.80" x2="48.40" y2="206.41" stroke="#10304f" stroke-width="0.9"/>
<circle cx="48.40" cy="221.31" r="1.4" fill="#10304f"/>
<line x1="69.80" y1="230.80" x2="69.80" y2="205.06" stroke="#6a0a1a" stroke-width="0.9"/>
<circle cx="69.80" cy="218.61" r="1.4" fill="#7a0a1e"/>
<line x1="35.80" y1="168.30" x2="35.80" y2="233.90" stroke="#231f20" stroke-width="1.2"/>
<line x1="35.20" y1="233.30" x2="82.80" y2="233.30" stroke="#231f20" stroke-width="1.2"/>
<line x1="32.80" y1="176.60" x2="35.80" y2="176.60" stroke="#231f20" stroke-width="1.0"/>
<text x="30.20" y="179.40" font-size="8.0" text-anchor="end" fill="#231f20">40</text>
<line x1="32.80" y1="189.70" x2="35.80" y2="189.70" stroke="#231f20" stroke-width="1.0"/>
<text x="30.20" y="192.50" font-size="8.0" text-anchor="end" fill="#231f20">30</text>
<line x1="32.80" y1="203.60" x2="35.80" y2="203.60" stroke="#231f20" stroke-width="1.0"/>
<text x="30.20" y="206.40" font-size="8.0" text-anchor="end" fill="#231f20">20</text>
<line x1="32.80" y1="217.10" x2="35.80" y2="217.10" stroke="#231f20" stroke-width="1.0"/>
<text x="30.20" y="219.90" font-size="8.0" text-anchor="end" fill="#231f20">10</text>
<line x1="32.80" y1="230.80" x2="35.80" y2="230.80" stroke="#231f20" stroke-width="1.0"/>
<text x="30.20" y="233.60" font-size="8.0" text-anchor="end" fill="#231f20">0</text>
<line x1="48.40" y1="233.30" x2="48.40" y2="236.10" stroke="#231f20" stroke-width="1.0"/>
<line x1="69.80" y1="233.30" x2="69.80" y2="236.10" stroke="#231f20" stroke-width="1.0"/>
<text x="59.50" y="160.28" font-size="8.5" text-anchor="middle" font-style="italic" fill="#231f20">TNFAIP8</text>
<text x="48.40" y="246.41" font-size="8.3" text-anchor="middle" fill="#231f20" textLength="10.4" lengthAdjust="spacingAndGlyphs">HC</text>
<text x="69.80" y="246.41" font-size="8.3" text-anchor="middle" fill="#231f20" textLength="10.4" lengthAdjust="spacingAndGlyphs">II-1</text>
<path d="M120.4,230.0 124.0,228.8 125.2,227.6 126.6,226.4 127.7,225.2 127.5,224.0 127.1,222.8 126.9,221.6 126.3,220.4 125.2,219.2 124.8,218.0 124.0,216.8 123.1,215.6 122.8,214.4 122.1,213.2 121.4,212.0 121.3,210.8 120.8,209.6 120.3,208.4 120.2,207.2 120.1,206.0 120.0,204.7 119.8,203.5 119.7,202.3 119.6,201.1 119.6,199.9 119.6,198.7 119.6,197.5 119.6,196.3 119.6,195.1 119.6,193.9 119.5,192.7 119.5,191.5 119.5,190.3 119.5,189.1 119.5,187.9 119.5,186.7 119.5,185.5 119.4,184.3 119.4,183.1 119.4,181.9 119.4,180.7 119.4,179.5 119.4,178.3 119.3,177.1 119.3,175.9 119.3,174.7 119.3,173.5 119.3,172.3 119.3,171.1 119.3,169.9 118.5,169.9 118.5,171.1 118.5,172.3 118.5,173.5 118.5,174.7 118.5,175.9 118.5,177.1 118.4,178.3 118.4,179.5 118.4,180.7 118.4,181.9 118.4,183.1 118.4,184.3 118.3,185.5 118.3,186.7 118.3,187.9 118.3,189.1 118.3,190.3 118.3,191.5 118.3,192.7 118.2,193.9 118.2,195.1 118.2,196.3 118.2,197.5 118.2,198.7 118.2,199.9 118.2,201.1 118.1,202.3 118.0,203.5 117.8,204.7 117.7,206.0 117.6,207.2 117.5,208.4 117.0,209.6 116.5,210.8 116.4,212.0 115.7,213.2 115.0,214.4 114.7,215.6 113.8,216.8 113.0,218.0 112.6,219.2 111.5,220.4 110.9,221.6 110.7,222.8 110.3,224.0 110.1,225.2 111.2,226.4 112.6,227.6 113.8,228.8 117.4,230.0Z" fill="#8db0d8" stroke="#6a90bc" stroke-width="0.45"/>
<path d="M142.0,230.0 145.0,229.0 146.6,227.9 147.2,226.9 148.2,225.9 149.2,224.8 149.9,223.8 150.0,222.8 149.8,221.7 149.7,220.7 149.5,219.6 149.4,218.6 148.7,217.6 147.8,216.5 147.1,215.5 146.9,214.5 146.2,213.4 145.3,212.4 144.6,211.4 144.4,210.3 144.0,209.3 143.3,208.3 142.8,207.2 142.7,206.2 142.5,205.2 142.2,204.1 141.8,203.1 141.6,202.0 141.6,201.0 141.6,200.0 141.5,198.9 141.4,197.9 141.3,196.9 141.3,195.8 141.2,194.8 141.1,193.8 141.1,192.7 141.1,191.7 141.1,190.7 141.1,189.6 141.1,188.6 141.0,187.5 141.0,186.5 141.0,185.5 141.0,184.4 141.0,183.4 140.9,182.4 140.9,181.3 140.9,180.3 140.9,179.3 140.9,178.2 140.1,178.2 140.1,179.3 140.1,180.3 140.1,181.3 140.1,182.4 140.0,183.4 140.0,184.4 140.0,185.5 140.0,186.5 140.0,187.5 139.9,188.6 139.9,189.6 139.9,190.7 139.9,191.7 139.9,192.7 139.9,193.8 139.8,194.8 139.7,195.8 139.7,196.9 139.6,197.9 139.5,198.9 139.4,200.0 139.4,201.0 139.4,202.0 139.2,203.1 138.8,204.1 138.5,205.2 138.3,206.2 138.2,207.2 137.7,208.3 137.0,209.3 136.6,210.3 136.4,211.4 135.7,212.4 134.8,213.4 134.1,214.5 133.9,215.5 133.2,216.5 132.3,217.6 131.6,218.6 131.5,219.6 131.3,220.7 131.2,221.7 131.0,222.8 131.1,223.8 131.8,224.8 132.8,225.9 133.8,226.9 134.4,227.9 136.0,229.0 139.0,230.0Z" fill="#ee929e" stroke="#d87080" stroke-width="0.45"/>
<line x1="118.90" y1="230.00" x2="118.90" y2="169.88" stroke="#9fbbe0" stroke-width="0.9"/>
<line x1="140.50" y1="230.00" x2="140.50" y2="178.23" stroke="#f0a8b4" stroke-width="0.9"/>
<line x1="118.90" y1="230.00" x2="118.90" y2="184.07" stroke="#1b4a86" stroke-width="1.6"/>
<line x1="118.90" y1="230.00" x2="118.90" y2="184.07" stroke="#1b4a86" stroke-width="2.3" stroke-linecap="round"/>
<path d="M118.9 181.6h0M118.9 178.2h0M118.9 174.9h0M118.9 169.9h0" stroke="#1b4a86" stroke-width="2.00" stroke-linecap="round" fill="none"/>
<line x1="140.50" y1="230.00" x2="140.50" y2="196.60" stroke="#c4102e" stroke-width="1.6"/>
<line x1="140.50" y1="230.00" x2="140.50" y2="196.60" stroke="#c4102e" stroke-width="2.3" stroke-linecap="round"/>
<path d="M140.5 194.1h0M140.5 191.6h0M140.5 189.1h0M140.5 186.6h0M140.5 184.1h0M140.5 181.6h0M140.5 178.2h0" stroke="#c4102e" stroke-width="2.00" stroke-linecap="round" fill="none"/>
<line x1="118.90" y1="230.00" x2="118.90" y2="204.95" stroke="#10304f" stroke-width="0.9"/>
<circle cx="118.90" cy="221.65" r="1.4" fill="#10304f"/>
<line x1="140.50" y1="230.00" x2="140.50" y2="203.28" stroke="#6a0a1a" stroke-width="0.9"/>
<circle cx="140.50" cy="218.31" r="1.4" fill="#7a0a1e"/>
<line x1="105.90" y1="169.00" x2="105.90" y2="233.30" stroke="#231f20" stroke-width="1.2"/>
<line x1="105.30" y1="232.70" x2="152.90" y2="232.70" stroke="#231f20" stroke-width="1.2"/>
<line x1="102.90" y1="180.00" x2="105.90" y2="180.00" stroke="#231f20" stroke-width="1.0"/>
<text x="100.30" y="182.80" font-size="8.0" text-anchor="end" fill="#231f20">60</text>
<line x1="102.90" y1="196.70" x2="105.90" y2="196.70" stroke="#231f20" stroke-width="1.0"/>
<text x="100.30" y="199.50" font-size="8.0" text-anchor="end" fill="#231f20">40</text>
<line x1="102.90" y1="213.40" x2="105.90" y2="213.40" stroke="#231f20" stroke-width="1.0"/>
<text x="100.30" y="216.20" font-size="8.0" text-anchor="end" fill="#231f20">20</text>
<line x1="102.90" y1="230.00" x2="105.90" y2="230.00" stroke="#231f20" stroke-width="1.0"/>
<text x="100.30" y="232.80" font-size="8.0" text-anchor="end" fill="#231f20">0</text>
<line x1="118.90" y1="232.70" x2="118.90" y2="235.50" stroke="#231f20" stroke-width="1.0"/>
<line x1="140.50" y1="232.70" x2="140.50" y2="235.50" stroke="#231f20" stroke-width="1.0"/>
<text x="129.40" y="160.28" font-size="8.5" text-anchor="middle" font-style="italic" fill="#231f20">MYC</text>
<text x="118.90" y="246.41" font-size="8.3" text-anchor="middle" fill="#231f20" textLength="10.4" lengthAdjust="spacingAndGlyphs">HC</text>
<text x="140.50" y="246.41" font-size="8.3" text-anchor="middle" fill="#231f20" textLength="10.4" lengthAdjust="spacingAndGlyphs">II-1</text>
<path d="M201.4,229.9 199.5,229.3 197.7,228.7 195.8,228.1 194.4,227.5 194.4,227.0 194.2,226.4 195.4,225.8 197.0,225.2 198.6,224.6 200.2,224.0 198.6,223.4 197.0,222.8 195.4,222.3 194.2,221.7 193.5,221.1 193.5,220.5 194.1,219.9 194.9,219.3 195.7,218.7 196.5,218.1 195.7,217.6 194.9,217.0 194.1,216.4 193.5,215.8 193.5,215.2 193.3,214.6 193.4,214.0 193.8,213.4 194.1,212.8 194.5,212.3 194.1,211.7 193.8,211.1 193.4,210.5 193.3,209.9 193.3,209.3 193.3,208.7 193.3,208.1 193.3,207.6 193.5,207.0 193.7,206.4 193.5,205.8 193.3,205.2 193.3,204.6 193.3,204.0 193.3,203.4 193.3,202.9 193.3,202.3 193.3,201.7 193.3,201.1 193.4,200.5 193.3,199.9 193.3,199.3 193.3,198.7 193.3,198.1 193.3,197.6 193.3,197.0 193.3,196.4 193.3,195.8 193.3,195.2 193.4,194.6 193.3,194.0 193.3,193.4 193.3,192.9 193.3,192.3 193.3,191.7 193.3,191.1 193.3,190.5 193.3,189.9 193.3,189.3 193.4,188.7 193.3,188.2 193.3,187.6 193.3,187.0 193.3,186.4 193.3,185.8 193.3,185.2 193.3,184.6 193.3,184.0 193.3,183.4 193.3,182.9 193.3,182.3 193.3,181.7 193.3,181.1 193.3,180.5 193.3,179.9 193.3,179.3 193.3,178.7 193.3,178.2 193.3,177.6 193.3,177.0 193.3,176.4 193.3,175.8 193.3,175.2 193.3,174.6 193.3,174.0 193.3,173.5 193.3,172.9 193.3,172.3 193.3,171.7 193.3,171.1 192.5,171.1 192.5,171.7 192.5,172.3 192.5,172.9 192.5,173.5 192.5,174.0 192.5,174.6 192.5,175.2 192.5,175.8 192.5,176.4 192.5,177.0 192.5,177.6 192.5,178.2 192.5,178.7 192.5,179.3 192.5,179.9 192.5,180.5 192.5,181.1 192.5,181.7 192.5,182.3 192.5,182.9 192.5,183.4 192.5,184.0 192.5,184.6 192.5,185.2 192.5,185.8 192.5,186.4 192.5,187.0 192.5,187.6 192.5,188.2 192.4,188.7 192.5,189.3 192.5,189.9 192.5,190.5 192.5,191.1 192.5,191.7 192.5,192.3 192.5,192.9 192.5,193.4 192.5,194.0 192.4,194.6 192.5,195.2 192.5,195.8 192.5,196.4 192.5,197.0 192.5,197.6 192.5,198.1 192.5,198.7 192.5,199.3 192.5,199.9 192.4,200.5 192.5,201.1 192.5,201.7 192.5,202.3 192.5,202.9 192.5,203.4 192.5,204.0 192.5,204.6 192.5,205.2 192.3,205.8 192.1,206.4 192.3,207.0 192.5,207.6 192.5,208.1 192.5,208.7 192.5,209.3 192.5,209.9 192.4,210.5 192.0,211.1 191.7,211.7 191.3,212.3 191.7,212.8 192.0,213.4 192.4,214.0 192.5,214.6 192.3,215.2 192.3,215.8 191.7,216.4 190.9,217.0 190.1,217.6 189.3,218.1 190.1,218.7 190.9,219.3 191.7,219.9 192.3,220.5 192.3,221.1 191.6,221.7 190.4,222.3 188.8,222.8 187.2,223.4 185.6,224.0 187.2,224.6 188.8,225.2 190.4,225.8 191.6,226.4 191.4,227.0 191.4,227.5 190.0,228.1 188.1,228.7 186.3,229.3 184.4,229.9Z" fill="#8db0d8" stroke="#6a90bc" stroke-width="0.45"/>
<path d="M222.5,229.9 220.7,229.3 220.5,228.7 220.5,228.1 220.5,227.5 220.5,227.0 220.1,226.4 220.1,225.8 220.1,225.2 220.3,224.6 222.0,224.0 220.3,223.4 220.1,222.8 220.1,222.3 220.1,221.7 219.0,221.1 219.0,220.5 219.0,219.9 219.0,219.3 219.2,218.7 220.5,218.1 219.2,217.6 219.0,217.0 219.0,216.4 219.0,215.8 219.0,215.2 217.7,214.6 217.7,214.0 217.7,213.4 217.8,212.8 218.7,212.3 217.8,211.7 217.7,211.1 217.7,210.5 217.7,209.9 216.4,209.3 216.4,208.7 216.4,208.1 216.4,207.6 216.4,207.0 217.0,206.4 216.4,205.8 216.4,205.2 216.4,204.6 216.4,204.0 216.4,203.4 215.3,202.9 215.3,202.3 215.3,201.7 215.4,201.1 215.6,200.5 215.4,199.9 215.3,199.3 215.3,198.7 215.3,198.1 214.9,197.6 214.9,197.0 214.9,196.4 214.9,195.8 214.9,195.2 215.0,194.6 214.9,194.0 214.9,193.4 214.9,192.9 214.9,192.3 214.9,191.7 214.9,191.1 214.9,190.5 214.9,189.9 214.9,189.3 215.0,188.7 214.9,188.2 214.9,187.6 214.9,187.0 214.9,186.4 214.9,185.8 214.9,185.2 214.9,184.6 214.9,184.0 214.9,183.4 214.9,182.9 214.9,182.3 214.9,181.7 214.9,181.1 214.9,180.5 214.9,179.9 214.9,179.3 214.9,178.7 214.9,178.2 214.9,177.6 214.9,177.0 214.9,176.4 214.9,175.8 214.9,175.2 214.9,174.6 214.9,174.0 214.9,173.5 214.9,172.9 214.9,172.3 214.9,171.7 214.9,171.1 214.1,171.1 214.1,171.7 214.1,172.3 214.1,172.9 214.1,173.5 214.1,174.0 214.1,174.6 214.1,175.2 214.1,175.8 214.1,176.4 214.1,177.0 214.1,177.6 214.1,178.2 214.1,178.7 214.1,179.3 214.1,179.9 214.1,180.5 214.1,181.1 214.1,181.7 214.1,182.3 214.1,182.9 214.1,183.4 214.1,184.0 214.1,184.6 214.1,185.2 214.1,185.8 214.1,186.4 214.1,187.0 214.1,187.6 214.1,188.2 214.0,188.7 214.1,189.3 214.1,189.9 214.1,190.5 214.1,191.1 214.1,191.7 214.1,192.3 214.1,192.9 214.1,193.4 214.1,194.0 214.0,194.6 214.1,195.2 214.1,195.8 214.1,196.4 214.1,197.0 214.1,197.6 213.7,198.1 213.7,198.7 213.7,199.3 213.6,199.9 213.4,200.5 213.6,201.1 213.7,201.7 213.7,202.3 213.7,202.9 212.6,203.4 212.6,204.0 212.6,204.6 212.6,205.2 212.6,205.8 212.0,206.4 212.6,207.0 212.6,207.6 212.6,208.1 212.6,208.7 212.6,209.3 211.3,209.9 211.3,210.5 211.3,211.1 211.2,211.7 210.3,212.3 211.2,212.8 211.3,213.4 211.3,214.0 211.3,214.6 210.0,215.2 210.0,215.8 210.0,216.4 210.0,217.0 209.8,217.6 208.5,218.1 209.8,218.7 210.0,219.3 210.0,219.9 210.0,220.5 210.0,221.1 208.9,221.7 208.9,222.3 208.9,222.8 208.7,223.4 207.0,224.0 208.7,224.6 208.9,225.2 208.9,225.8 208.9,226.4 208.5,227.0 208.5,227.5 208.5,228.1 208.5,228.7 208.3,229.3 206.5,229.9Z" fill="#ee929e" stroke="#d87080" stroke-width="0.45"/>
<line x1="192.90" y1="229.90" x2="192.90" y2="171.10" stroke="#9fbbe0" stroke-width="0.9"/>
<line x1="214.50" y1="229.90" x2="214.50" y2="171.10" stroke="#f0a8b4" stroke-width="0.9"/>
<line x1="192.90" y1="229.90" x2="192.90" y2="203.44" stroke="#1b4a86" stroke-width="1.6"/>
<path d="M192.9 200.5h0M192.9 194.6h0M192.9 188.7h0M192.9 182.9h0M192.9 177.0h0M192.9 171.1h0" stroke="#1b4a86" stroke-width="2.00" stroke-linecap="round" fill="none"/>
<line x1="214.50" y1="229.90" x2="214.50" y2="203.44" stroke="#c4102e" stroke-width="1.6"/>
<path d="M214.5 200.5h0M214.5 194.6h0M214.5 188.7h0M214.5 182.9h0M214.5 171.1h0" stroke="#c4102e" stroke-width="2.00" stroke-linecap="round" fill="none"/>
<line x1="192.90" y1="229.90" x2="192.90" y2="212.26" stroke="#10304f" stroke-width="0.9"/>
<circle cx="192.90" cy="224.02" r="1.4" fill="#10304f"/>
<line x1="214.50" y1="229.90" x2="214.50" y2="206.38" stroke="#6a0a1a" stroke-width="0.9"/>
<circle cx="214.50" cy="224.02" r="1.4" fill="#7a0a1e"/>
<line x1="180.20" y1="169.00" x2="180.20" y2="233.30" stroke="#231f20" stroke-width="1.2"/>
<line x1="179.60" y1="232.70" x2="227.20" y2="232.70" stroke="#231f20" stroke-width="1.2"/>
<line x1="177.20" y1="171.00" x2="180.20" y2="171.00" stroke="#231f20" stroke-width="1.0"/>
<text x="174.60" y="173.80" font-size="8.0" text-anchor="end" fill="#231f20">10.0</text>
<line x1="177.20" y1="185.70" x2="180.20" y2="185.70" stroke="#231f20" stroke-width="1.0"/>
<text x="174.60" y="188.50" font-size="8.0" text-anchor="end" fill="#231f20">7.5</text>
<line x1="177.20" y1="200.40" x2="180.20" y2="200.40" stroke="#231f20" stroke-width="1.0"/>
<text x="174.60" y="203.20" font-size="8.0" text-anchor="end" fill="#231f20">5.0</text>
<line x1="177.20" y1="215.20" x2="180.20" y2="215.20" stroke="#231f20" stroke-width="1.0"/>
<text x="174.60" y="218.00" font-size="8.0" text-anchor="end" fill="#231f20">2.5</text>
<line x1="177.20" y1="229.90" x2="180.20" y2="229.90" stroke="#231f20" stroke-width="1.0"/>
<text x="174.60" y="232.70" font-size="8.0" text-anchor="end" fill="#231f20">0</text>
<line x1="192.90" y1="232.70" x2="192.90" y2="235.50" stroke="#231f20" stroke-width="1.0"/>
<line x1="214.50" y1="232.70" x2="214.50" y2="235.50" stroke="#231f20" stroke-width="1.0"/>
<text x="203.90" y="160.28" font-size="8.5" text-anchor="middle" font-style="italic" fill="#231f20">HIF1A</text>
<text x="192.90" y="246.41" font-size="8.3" text-anchor="middle" fill="#231f20" textLength="10.4" lengthAdjust="spacingAndGlyphs">HC</text>
<text x="214.50" y="246.41" font-size="8.3" text-anchor="middle" fill="#231f20" textLength="10.4" lengthAdjust="spacingAndGlyphs">II-1</text>
<path d="M52.3,328.1 51.4,327.8 50.5,327.4 49.7,327.1 49.5,326.8 49.5,326.4 50.8,326.1 51.2,325.8 53.1,325.4 54.9,325.1 56.8,324.8 54.9,324.4 53.1,324.1 51.2,323.7 50.8,323.4 50.5,323.1 50.5,322.7 50.8,322.4 52.5,322.1 54.1,321.7 55.8,321.4 54.1,321.1 52.5,320.7 50.9,320.4 50.5,320.1 50.5,319.7 50.1,319.4 50.3,319.1 51.7,318.7 53.0,318.4 54.3,318.1 53.0,317.7 51.7,317.4 50.3,317.0 50.1,316.7 49.3,316.4 49.3,316.0 49.5,315.7 50.3,315.4 51.0,315.0 51.8,314.7 51.0,314.4 50.3,314.0 49.5,313.7 49.3,313.4 49.3,313.0 48.9,312.7 49.0,312.4 49.4,312.0 49.9,311.7 50.3,311.4 49.9,311.0 49.4,310.7 49.0,310.3 48.9,310.0 48.7,309.7 48.7,309.3 48.7,309.0 48.9,308.7 49.1,308.3 49.3,308.0 49.1,307.7 48.9,307.3 48.7,307.0 48.7,306.7 48.7,306.3 48.7,306.0 48.7,305.7 48.7,305.3 48.7,305.0 48.8,304.7 48.7,304.3 48.7,304.0 48.7,303.6 48.7,303.3 48.7,303.0 48.7,302.6 48.7,302.3 48.7,302.0 48.7,301.6 48.8,301.3 48.7,301.0 48.7,300.6 48.7,300.3 48.7,300.0 48.7,299.6 48.7,299.3 48.7,299.0 48.7,298.6 48.7,298.3 48.8,298.0 48.7,297.6 48.7,297.3 48.7,296.9 48.7,296.6 48.7,296.3 48.7,295.9 48.7,295.6 48.7,295.3 48.7,294.9 48.8,294.6 48.7,294.3 48.7,293.9 48.7,293.6 48.7,293.3 48.7,292.9 48.7,292.6 48.7,292.3 48.7,291.9 48.7,291.6 48.7,291.2 48.7,290.9 48.7,290.6 48.7,290.2 48.7,289.9 48.7,289.6 48.7,289.2 48.7,288.9 48.7,288.6 48.7,288.2 48.7,287.9 48.7,287.6 48.7,287.2 48.7,286.9 48.7,286.6 48.7,286.2 48.7,285.9 48.7,285.6 48.7,285.2 48.7,284.9 48.7,284.6 47.9,284.6 47.9,284.9 47.9,285.2 47.9,285.6 47.9,285.9 47.9,286.2 47.9,286.6 47.9,286.9 47.9,287.2 47.9,287.6 47.9,287.9 47.9,288.2 47.9,288.6 47.9,288.9 47.9,289.2 47.9,289.6 47.9,289.9 47.9,290.2 47.9,290.6 47.9,290.9 47.9,291.2 47.9,291.6 47.9,291.9 47.9,292.3 47.9,292.6 47.9,292.9 47.9,293.3 47.9,293.6 47.9,293.9 47.9,294.3 47.8,294.6 47.9,294.9 47.9,295.3 47.9,295.6 47.9,295.9 47.9,296.3 47.9,296.6 47.9,296.9 47.9,297.3 47.9,297.6 47.8,298.0 47.9,298.3 47.9,298.6 47.9,299.0 47.9,299.3 47.9,299.6 47.9,300.0 47.9,300.3 47.9,300.6 47.9,301.0 47.8,301.3 47.9,301.6 47.9,302.0 47.9,302.3 47.9,302.6 47.9,303.0 47.9,303.3 47.9,303.6 47.9,304.0 47.9,304.3 47.8,304.7 47.9,305.0 47.9,305.3 47.9,305.7 47.9,306.0 47.9,306.3 47.9,306.7 47.9,307.0 47.7,307.3 47.5,307.7 47.3,308.0 47.5,308.3 47.7,308.7 47.9,309.0 47.9,309.3 47.9,309.7 47.7,310.0 47.6,310.3 47.2,310.7 46.7,311.0 46.3,311.4 46.7,311.7 47.2,312.0 47.6,312.4 47.7,312.7 47.2,313.0 47.2,313.4 47.1,313.7 46.3,314.0 45.6,314.4 44.8,314.7 45.6,315.0 46.3,315.4 47.1,315.7 47.2,316.0 47.2,316.4 46.5,316.7 46.3,317.0 44.9,317.4 43.6,317.7 42.3,318.1 43.6,318.4 44.9,318.7 46.3,319.1 46.5,319.4 46.0,319.7 46.0,320.1 45.7,320.4 44.1,320.7 42.4,321.1 40.8,321.4 42.4,321.7 44.1,322.1 45.8,322.4 46.0,322.7 46.0,323.1 45.8,323.4 45.4,323.7 43.5,324.1 41.7,324.4 39.8,324.8 41.7,325.1 43.5,325.4 45.4,325.8 45.8,326.1 47.1,326.4 47.1,326.8 46.9,327.1 46.1,327.4 45.2,327.8 44.3,328.1Z" fill="#8db0d8" stroke="#6a90bc" stroke-width="0.45"/>
<path d="M71.8,328.1 72.5,326.9 74.2,325.7 75.8,324.5 76.8,323.3 77.0,322.1 77.7,320.9 78.5,319.7 79.1,318.5 79.0,317.2 78.8,316.0 78.5,314.8 78.1,313.6 77.9,312.4 77.8,311.2 77.5,310.0 76.8,308.8 76.0,307.6 75.3,306.4 74.9,305.2 74.7,304.0 74.3,302.8 73.7,301.6 73.0,300.4 72.5,299.2 72.3,298.0 72.2,296.7 71.9,295.5 71.5,294.3 71.1,293.1 70.8,291.9 70.8,290.7 70.7,289.5 70.6,288.3 70.5,287.1 70.4,285.9 70.3,284.7 70.3,283.5 70.3,282.3 70.3,281.1 70.3,279.9 70.2,278.7 70.2,277.4 70.2,276.2 70.2,275.0 70.2,273.8 70.1,272.6 70.1,271.4 70.1,270.2 70.1,269.0 70.1,267.8 69.5,267.8 69.5,269.0 69.5,270.2 69.5,271.4 69.5,272.6 69.4,273.8 69.4,275.0 69.4,276.2 69.4,277.4 69.4,278.7 69.3,279.9 69.3,281.1 69.3,282.3 69.3,283.5 69.3,284.7 69.2,285.9 69.1,287.1 69.0,288.3 68.9,289.5 68.8,290.7 68.8,291.9 68.5,293.1 68.1,294.3 67.7,295.5 67.4,296.7 67.3,298.0 67.1,299.2 66.6,300.4 65.9,301.6 65.3,302.8 64.9,304.0 64.7,305.2 64.3,306.4 63.6,307.6 62.8,308.8 62.1,310.0 61.8,311.2 61.7,312.4 61.5,313.6 61.1,314.8 60.8,316.0 60.6,317.2 60.5,318.5 61.1,319.7 61.9,320.9 62.6,322.1 62.8,323.3 63.8,324.5 65.4,325.7 67.1,326.9 67.8,328.1Z" fill="#ee929e" stroke="#d87080" stroke-width="0.45"/>
<line x1="48.30" y1="328.10" x2="48.30" y2="284.55" stroke="#9fbbe0" stroke-width="0.9"/>
<line x1="69.80" y1="328.10" x2="69.80" y2="267.80" stroke="#f0a8b4" stroke-width="0.9"/>
<line x1="48.30" y1="328.10" x2="48.30" y2="311.35" stroke="#1b4a86" stroke-width="1.6"/>
<path d="M48.3 308.0h0M48.3 304.7h0M48.3 301.3h0M48.3 298.0h0M48.3 294.6h0M48.3 291.2h0M48.3 284.6h0" stroke="#1b4a86" stroke-width="2.00" stroke-linecap="round" fill="none"/>
<line x1="69.80" y1="328.10" x2="69.80" y2="291.25" stroke="#c4102e" stroke-width="1.6"/>
<path d="M69.8 287.9h0M69.8 284.6h0M69.8 281.2h0M69.8 277.9h0M69.8 274.5h0M69.8 271.2h0M69.8 267.8h0" stroke="#c4102e" stroke-width="2.00" stroke-linecap="round" fill="none"/>
<line x1="48.30" y1="328.10" x2="48.30" y2="311.35" stroke="#10304f" stroke-width="0.9"/>
<circle cx="48.30" cy="321.40" r="1.4" fill="#10304f"/>
<line x1="69.80" y1="328.10" x2="69.80" y2="294.60" stroke="#6a0a1a" stroke-width="0.9"/>
<circle cx="69.80" cy="318.05" r="1.4" fill="#7a0a1e"/>
<line x1="35.90" y1="266.00" x2="35.90" y2="331.80" stroke="#231f20" stroke-width="1.2"/>
<line x1="35.30" y1="331.20" x2="82.90" y2="331.20" stroke="#231f20" stroke-width="1.2"/>
<line x1="32.90" y1="278.30" x2="35.90" y2="278.30" stroke="#231f20" stroke-width="1.0"/>
<text x="30.30" y="281.10" font-size="8.0" text-anchor="end" fill="#231f20">15</text>
<line x1="32.90" y1="295.10" x2="35.90" y2="295.10" stroke="#231f20" stroke-width="1.0"/>
<text x="30.30" y="297.90" font-size="8.0" text-anchor="end" fill="#231f20">10</text>
<line x1="32.90" y1="311.80" x2="35.90" y2="311.80" stroke="#231f20" stroke-width="1.0"/>
<text x="30.30" y="314.60" font-size="8.0" text-anchor="end" fill="#231f20">5</text>
<line x1="32.90" y1="328.10" x2="35.90" y2="328.10" stroke="#231f20" stroke-width="1.0"/>
<text x="30.30" y="330.90" font-size="8.0" text-anchor="end" fill="#231f20">0</text>
<line x1="48.30" y1="331.20" x2="48.30" y2="334.00" stroke="#231f20" stroke-width="1.0"/>
<line x1="69.80" y1="331.20" x2="69.80" y2="334.00" stroke="#231f20" stroke-width="1.0"/>
<text x="59.30" y="262.98" font-size="8.5" text-anchor="middle" font-style="italic" fill="#231f20">JAK1</text>
<text x="48.30" y="343.40" font-size="8.3" text-anchor="middle" fill="#231f20" textLength="10.4" lengthAdjust="spacingAndGlyphs">HC</text>
<text x="69.80" y="343.40" font-size="8.3" text-anchor="middle" fill="#231f20" textLength="10.4" lengthAdjust="spacingAndGlyphs">II-1</text>
<path d="M122.2,328.5 123.7,327.6 126.3,326.7 127.3,325.8 127.9,324.9 128.6,324.0 128.8,323.1 129.0,322.2 129.1,321.3 128.9,320.4 128.2,319.5 127.8,318.6 127.3,317.7 126.2,316.8 125.7,315.8 125.0,314.9 124.0,314.0 123.7,313.1 122.8,312.2 121.9,311.3 121.6,310.4 121.0,309.5 120.5,308.6 120.4,307.7 120.3,306.8 120.2,305.9 120.0,305.0 119.9,304.1 119.8,303.2 119.8,302.3 119.8,301.4 119.8,300.5 119.8,299.6 119.8,298.7 119.8,297.8 119.8,296.9 119.8,296.0 119.8,295.1 119.8,294.2 119.7,293.3 119.7,292.4 119.7,291.5 119.7,290.5 119.7,289.6 119.7,288.7 119.7,287.8 119.7,286.9 119.7,286.0 119.7,285.1 119.7,284.2 119.7,283.3 118.8,283.3 118.8,284.2 118.8,285.1 118.8,286.0 118.8,286.9 118.8,287.8 118.8,288.7 118.8,289.6 118.8,290.5 118.8,291.5 118.8,292.4 118.8,293.3 118.7,294.2 118.7,295.1 118.7,296.0 118.7,296.9 118.7,297.8 118.7,298.7 118.7,299.6 118.7,300.5 118.7,301.4 118.7,302.3 118.7,303.2 118.6,304.1 118.5,305.0 118.3,305.9 118.2,306.8 118.1,307.7 118.0,308.6 117.5,309.5 116.9,310.4 116.6,311.3 115.7,312.2 114.8,313.1 114.5,314.0 113.5,314.9 112.8,315.8 112.3,316.8 111.2,317.7 110.7,318.6 110.3,319.5 109.6,320.4 109.4,321.3 109.5,322.2 109.7,323.1 109.9,324.0 110.6,324.9 111.2,325.8 112.2,326.7 114.8,327.6 116.2,328.5Z" fill="#8db0d8" stroke="#6a90bc" stroke-width="0.45"/>
<path d="M143.5,328.5 145.9,327.3 148.5,326.1 148.9,324.9 149.8,323.7 150.5,322.5 150.6,321.3 150.9,320.1 150.7,318.9 149.8,317.7 149.1,316.5 148.8,315.2 147.7,314.0 146.7,312.8 146.4,311.6 145.4,310.4 144.3,309.2 143.9,308.0 143.2,306.8 142.3,305.6 142.0,304.4 141.7,303.2 141.4,302.0 141.2,300.8 141.2,299.6 141.2,298.4 141.2,297.2 141.2,296.0 141.2,294.8 141.2,293.6 141.1,292.4 141.1,291.2 141.1,289.9 141.1,288.7 141.1,287.5 141.1,286.3 141.1,285.1 141.0,283.9 141.0,282.7 141.0,281.5 141.0,280.3 141.0,279.1 141.0,277.9 140.9,276.7 140.9,275.5 140.9,274.3 140.9,273.1 140.9,271.9 140.9,270.7 140.9,269.5 140.9,268.3 140.1,268.3 140.1,269.5 140.1,270.7 140.1,271.9 140.1,273.1 140.1,274.3 140.1,275.5 140.1,276.7 140.0,277.9 140.0,279.1 140.0,280.3 140.0,281.5 140.0,282.7 140.0,283.9 139.9,285.1 139.9,286.3 139.9,287.5 139.9,288.7 139.9,289.9 139.9,291.2 139.9,292.4 139.8,293.6 139.8,294.8 139.8,296.0 139.8,297.2 139.8,298.4 139.8,299.6 139.8,300.8 139.6,302.0 139.3,303.2 139.0,304.4 138.7,305.6 137.8,306.8 137.1,308.0 136.7,309.2 135.6,310.4 134.6,311.6 134.3,312.8 133.3,314.0 132.2,315.2 131.9,316.5 131.2,317.7 130.3,318.9 130.1,320.1 130.4,321.3 130.5,322.5 131.2,323.7 132.1,324.9 132.5,326.1 135.1,327.3 137.5,328.5Z" fill="#ee929e" stroke="#d87080" stroke-width="0.45"/>
<line x1="119.25" y1="328.50" x2="119.25" y2="283.32" stroke="#9fbbe0" stroke-width="0.9"/>
<line x1="140.50" y1="328.50" x2="140.50" y2="268.26" stroke="#f0a8b4" stroke-width="0.9"/>
<line x1="119.25" y1="328.50" x2="119.25" y2="305.91" stroke="#1b4a86" stroke-width="1.6"/>
<line x1="119.25" y1="328.50" x2="119.25" y2="305.91" stroke="#1b4a86" stroke-width="2.3" stroke-linecap="round"/>
<path d="M119.2 303.4h0M119.2 300.9h0M119.2 298.4h0M119.2 295.9h0M119.2 293.4h0M119.2 290.9h0M119.2 288.3h0M119.2 285.8h0M119.2 283.3h0" stroke="#1b4a86" stroke-width="2.00" stroke-linecap="round" fill="none"/>
<line x1="140.50" y1="328.50" x2="140.50" y2="303.40" stroke="#c4102e" stroke-width="1.6"/>
<line x1="140.50" y1="328.50" x2="140.50" y2="303.40" stroke="#c4102e" stroke-width="2.3" stroke-linecap="round"/>
<path d="M140.5 300.9h0M140.5 298.4h0M140.5 295.9h0M140.5 293.4h0M140.5 290.9h0M140.5 288.3h0M140.5 285.8h0M140.5 280.8h0M140.5 268.3h0" stroke="#c4102e" stroke-width="2.00" stroke-linecap="round" fill="none"/>
<line x1="119.25" y1="328.50" x2="119.25" y2="308.42" stroke="#10304f" stroke-width="0.9"/>
<circle cx="119.25" cy="323.48" r="1.4" fill="#10304f"/>
<line x1="140.50" y1="328.50" x2="140.50" y2="303.40" stroke="#6a0a1a" stroke-width="0.9"/>
<circle cx="140.50" cy="320.97" r="1.4" fill="#7a0a1e"/>
<line x1="105.50" y1="262.50" x2="105.50" y2="331.60" stroke="#231f20" stroke-width="1.2"/>
<line x1="104.90" y1="331.00" x2="152.50" y2="331.00" stroke="#231f20" stroke-width="1.2"/>
<line x1="102.50" y1="265.70" x2="105.50" y2="265.70" stroke="#231f20" stroke-width="1.0"/>
<text x="99.90" y="268.50" font-size="8.0" text-anchor="end" fill="#231f20">25</text>
<line x1="102.50" y1="278.30" x2="105.50" y2="278.30" stroke="#231f20" stroke-width="1.0"/>
<text x="99.90" y="281.10" font-size="8.0" text-anchor="end" fill="#231f20">20</text>
<line x1="102.50" y1="290.80" x2="105.50" y2="290.80" stroke="#231f20" stroke-width="1.0"/>
<text x="99.90" y="293.60" font-size="8.0" text-anchor="end" fill="#231f20">15</text>
<line x1="102.50" y1="303.40" x2="105.50" y2="303.40" stroke="#231f20" stroke-width="1.0"/>
<text x="99.90" y="306.20" font-size="8.0" text-anchor="end" fill="#231f20">10</text>
<line x1="102.50" y1="315.90" x2="105.50" y2="315.90" stroke="#231f20" stroke-width="1.0"/>
<text x="99.90" y="318.70" font-size="8.0" text-anchor="end" fill="#231f20">5</text>
<line x1="102.50" y1="328.50" x2="105.50" y2="328.50" stroke="#231f20" stroke-width="1.0"/>
<text x="99.90" y="331.30" font-size="8.0" text-anchor="end" fill="#231f20">0</text>
<line x1="119.25" y1="331.00" x2="119.25" y2="333.80" stroke="#231f20" stroke-width="1.0"/>
<line x1="140.50" y1="331.00" x2="140.50" y2="333.80" stroke="#231f20" stroke-width="1.0"/>
<text x="129.50" y="262.98" font-size="8.5" text-anchor="middle" font-style="italic" fill="#231f20">STAT3</text>
<text x="119.25" y="343.40" font-size="8.3" text-anchor="middle" fill="#231f20" textLength="10.4" lengthAdjust="spacingAndGlyphs">HC</text>
<text x="140.50" y="343.40" font-size="8.3" text-anchor="middle" fill="#231f20" textLength="10.4" lengthAdjust="spacingAndGlyphs">II-1</text>
<path d="M201.7,328.1 199.7,327.5 197.7,326.9 195.8,326.3 193.8,325.7 193.8,325.1 193.2,324.5 194.1,323.9 195.1,323.3 196.0,322.8 196.9,322.2 196.0,321.6 195.1,321.0 194.1,320.4 193.2,319.8 193.1,319.2 193.1,318.6 193.2,318.0 193.5,317.4 193.9,316.8 194.2,316.2 193.9,315.6 193.5,315.0 193.2,314.4 193.1,313.8 193.1,313.2 193.1,312.7 193.1,312.1 193.1,311.5 193.2,310.9 193.3,310.3 193.2,309.7 193.1,309.1 193.1,308.5 193.1,307.9 193.1,307.3 193.1,306.7 193.1,306.1 193.1,305.5 193.2,304.9 193.3,304.3 193.2,303.7 193.1,303.2 193.1,302.6 193.1,302.0 193.1,301.4 193.1,300.8 193.1,300.2 193.1,299.6 193.1,299.0 193.2,298.4 193.1,297.8 193.1,297.2 193.1,296.6 193.1,296.0 193.1,295.4 193.1,294.8 193.1,294.2 193.1,293.6 193.1,293.1 193.2,292.5 193.1,291.9 193.1,291.3 193.1,290.7 193.1,290.1 193.1,289.5 193.1,288.9 193.1,288.3 193.1,287.7 193.1,287.1 193.2,286.5 193.1,285.9 193.1,285.3 193.1,284.7 193.1,284.1 193.1,283.6 193.1,283.0 193.1,282.4 193.1,281.8 193.1,281.2 193.1,280.6 193.1,280.0 193.1,279.4 193.1,278.8 193.1,278.2 193.1,277.6 193.1,277.0 193.1,276.4 193.1,275.8 193.1,275.2 193.1,274.6 192.3,274.6 192.3,275.2 192.3,275.8 192.3,276.4 192.3,277.0 192.3,277.6 192.3,278.2 192.3,278.8 192.3,279.4 192.3,280.0 192.3,280.6 192.3,281.2 192.3,281.8 192.3,282.4 192.3,283.0 192.3,283.6 192.3,284.1 192.3,284.7 192.3,285.3 192.3,285.9 192.2,286.5 192.3,287.1 192.3,287.7 192.3,288.3 192.3,288.9 192.3,289.5 192.3,290.1 192.3,290.7 192.3,291.3 192.3,291.9 192.2,292.5 192.3,293.1 192.3,293.6 192.3,294.2 192.3,294.8 192.3,295.4 192.3,296.0 192.3,296.6 192.3,297.2 192.3,297.8 192.2,298.4 192.3,299.0 192.3,299.6 192.3,300.2 192.3,300.8 192.3,301.4 192.3,302.0 192.3,302.6 192.3,303.2 192.2,303.7 192.1,304.3 192.2,304.9 192.3,305.5 192.3,306.1 192.3,306.7 192.3,307.3 192.3,307.9 192.3,308.5 192.3,309.1 192.2,309.7 192.1,310.3 192.2,310.9 192.3,311.5 192.3,312.1 192.3,312.7 192.3,313.2 192.3,313.8 192.2,314.4 191.9,315.0 191.5,315.6 191.2,316.2 191.5,316.8 191.9,317.4 192.2,318.0 192.3,318.6 192.3,319.2 192.2,319.8 191.3,320.4 190.3,321.0 189.4,321.6 188.5,322.2 189.4,322.8 190.3,323.3 191.3,323.9 192.2,324.5 191.6,325.1 191.6,325.7 189.6,326.3 187.7,326.9 185.7,327.5 183.7,328.1Z" fill="#8db0d8" stroke="#6a90bc" stroke-width="0.45"/>
<path d="M223.4,328.1 221.7,327.5 221.7,326.9 221.7,326.3 221.7,325.7 221.7,325.1 221.5,324.5 221.5,323.9 221.5,323.3 221.5,322.8 223.1,322.2 221.5,321.6 221.5,321.0 221.5,320.4 221.5,319.8 219.8,319.2 219.8,318.6 219.8,318.0 219.8,317.4 219.8,316.8 221.1,316.2 219.8,315.6 219.8,315.0 219.8,314.4 219.8,313.8 219.8,313.2 218.2,312.7 218.2,312.1 218.2,311.5 218.2,310.9 219.1,310.3 218.2,309.7 218.2,309.1 218.2,308.5 218.2,307.9 216.6,307.3 216.6,306.7 216.6,306.1 216.6,305.5 216.6,304.9 217.1,304.3 216.6,303.7 216.6,303.2 216.6,302.6 216.6,302.0 216.6,301.4 215.3,300.8 215.3,300.2 215.3,299.6 215.3,299.0 215.6,298.4 215.3,297.8 215.3,297.2 215.3,296.6 215.3,296.0 214.6,295.4 214.6,294.8 214.6,294.2 214.6,293.6 214.6,293.1 214.7,292.5 214.6,291.9 214.6,291.3 214.6,290.7 214.6,290.1 214.6,289.5 214.6,288.9 214.6,288.3 214.6,287.7 214.6,287.1 214.7,286.5 214.6,285.9 214.6,285.3 214.6,284.7 214.6,284.1 214.5,283.6 214.5,283.0 214.5,282.4 214.5,281.8 214.5,281.2 214.6,280.6 214.5,280.0 214.5,279.4 214.5,278.8 214.5,278.2 214.5,277.6 214.5,277.0 214.5,276.4 214.5,275.8 214.5,275.2 214.5,274.6 214.5,274.0 214.5,273.5 214.5,272.9 214.5,272.3 214.5,271.7 214.5,271.1 214.5,270.5 214.5,269.9 214.5,269.3 214.5,268.7 213.7,268.7 213.7,269.3 213.7,269.9 213.7,270.5 213.7,271.1 213.7,271.7 213.7,272.3 213.7,272.9 213.7,273.5 213.7,274.0 213.7,274.6 213.7,275.2 213.7,275.8 213.7,276.4 213.7,277.0 213.7,277.6 213.7,278.2 213.7,278.8 213.7,279.4 213.7,280.0 213.6,280.6 213.7,281.2 213.7,281.8 213.7,282.4 213.7,283.0 213.7,283.6 213.6,284.1 213.6,284.7 213.6,285.3 213.6,285.9 213.5,286.5 213.6,287.1 213.6,287.7 213.6,288.3 213.6,288.9 213.6,289.5 213.6,290.1 213.6,290.7 213.6,291.3 213.6,291.9 213.5,292.5 213.6,293.1 213.6,293.6 213.6,294.2 213.6,294.8 213.6,295.4 212.9,296.0 212.9,296.6 212.9,297.2 212.9,297.8 212.6,298.4 212.9,299.0 212.9,299.6 212.9,300.2 212.9,300.8 211.6,301.4 211.6,302.0 211.6,302.6 211.6,303.2 211.6,303.7 211.1,304.3 211.6,304.9 211.6,305.5 211.6,306.1 211.6,306.7 211.6,307.3 210.0,307.9 210.0,308.5 210.0,309.1 210.0,309.7 209.1,310.3 210.0,310.9 210.0,311.5 210.0,312.1 210.0,312.7 208.4,313.2 208.4,313.8 208.4,314.4 208.4,315.0 208.4,315.6 207.1,316.2 208.4,316.8 208.4,317.4 208.4,318.0 208.4,318.6 208.4,319.2 206.7,319.8 206.7,320.4 206.7,321.0 206.7,321.6 205.1,322.2 206.7,322.8 206.7,323.3 206.7,323.9 206.7,324.5 206.5,325.1 206.5,325.7 206.5,326.3 206.5,326.9 206.5,327.5 204.8,328.1Z" fill="#ee929e" stroke="#d87080" stroke-width="0.45"/>
<line x1="192.70" y1="328.10" x2="192.70" y2="274.64" stroke="#9fbbe0" stroke-width="0.9"/>
<line x1="214.10" y1="328.10" x2="214.10" y2="268.70" stroke="#f0a8b4" stroke-width="0.9"/>
<line x1="192.70" y1="328.10" x2="192.70" y2="316.22" stroke="#1b4a86" stroke-width="1.6"/>
<path d="M192.7 310.3h0M192.7 304.3h0M192.7 298.4h0M192.7 292.5h0M192.7 286.5h0M192.7 274.6h0" stroke="#1b4a86" stroke-width="2.00" stroke-linecap="round" fill="none"/>
<line x1="214.10" y1="328.10" x2="214.10" y2="298.40" stroke="#c4102e" stroke-width="1.6"/>
<path d="M214.1 292.5h0M214.1 286.5h0M214.1 280.6h0M214.1 274.6h0M214.1 268.7h0" stroke="#c4102e" stroke-width="2.00" stroke-linecap="round" fill="none"/>
<line x1="192.70" y1="328.10" x2="192.70" y2="316.22" stroke="#10304f" stroke-width="0.9"/>
<circle cx="192.70" cy="328.10" r="1.4" fill="#10304f"/>
<line x1="214.10" y1="328.10" x2="214.10" y2="298.40" stroke="#6a0a1a" stroke-width="0.9"/>
<circle cx="214.10" cy="322.16" r="1.4" fill="#7a0a1e"/>
<line x1="179.90" y1="266.70" x2="179.90" y2="331.80" stroke="#231f20" stroke-width="1.2"/>
<line x1="179.30" y1="331.20" x2="226.90" y2="331.20" stroke="#231f20" stroke-width="1.2"/>
<line x1="176.90" y1="268.70" x2="179.90" y2="268.70" stroke="#231f20" stroke-width="1.0"/>
<text x="174.30" y="271.50" font-size="8.0" text-anchor="end" fill="#231f20">10.0</text>
<line x1="176.90" y1="283.80" x2="179.90" y2="283.80" stroke="#231f20" stroke-width="1.0"/>
<text x="174.30" y="286.60" font-size="8.0" text-anchor="end" fill="#231f20">7.5</text>
<line x1="176.90" y1="298.50" x2="179.90" y2="298.50" stroke="#231f20" stroke-width="1.0"/>
<text x="174.30" y="301.30" font-size="8.0" text-anchor="end" fill="#231f20">5.0</text>
<line x1="176.90" y1="313.30" x2="179.90" y2="313.30" stroke="#231f20" stroke-width="1.0"/>
<text x="174.30" y="316.10" font-size="8.0" text-anchor="end" fill="#231f20">2.5</text>
<line x1="176.90" y1="328.10" x2="179.90" y2="328.10" stroke="#231f20" stroke-width="1.0"/>
<text x="174.30" y="330.90" font-size="8.0" text-anchor="end" fill="#231f20">0</text>
<line x1="192.70" y1="331.20" x2="192.70" y2="334.00" stroke="#231f20" stroke-width="1.0"/>
<line x1="214.10" y1="331.20" x2="214.10" y2="334.00" stroke="#231f20" stroke-width="1.0"/>
<text x="203.50" y="262.98" font-size="8.5" text-anchor="middle" font-style="italic" fill="#231f20">PIK3AP1</text>
<text x="192.70" y="343.40" font-size="8.3" text-anchor="middle" fill="#231f20" textLength="10.4" lengthAdjust="spacingAndGlyphs">HC</text>
<text x="214.10" y="343.40" font-size="8.3" text-anchor="middle" fill="#231f20" textLength="10.4" lengthAdjust="spacingAndGlyphs">II-1</text>
<path d="M56.5,428.5 51.3,427.3 49.8,426.1 49.3,424.9 49.2,423.7 49.1,422.5 49.0,421.3 49.0,420.0 49.0,418.8 49.0,417.6 49.0,416.4 49.0,415.2 49.0,414.0 49.0,412.8 49.0,411.6 49.0,410.4 49.0,409.2 49.0,408.0 49.0,406.8 49.0,405.6 49.0,404.4 48.9,403.1 48.9,401.9 48.9,400.7 48.9,399.5 48.9,398.3 48.9,397.1 48.9,395.9 48.9,394.7 48.9,393.5 48.9,392.3 48.9,391.1 48.9,389.9 48.9,388.7 48.9,387.4 48.9,386.2 48.8,385.0 48.8,383.8 48.8,382.6 48.8,381.4 48.8,380.2 48.8,379.0 48.8,377.8 48.8,376.6 48.8,375.4 48.8,374.2 48.8,373.0 48.8,371.7 48.8,370.5 48.8,369.3 48.8,368.1 48.2,368.1 48.2,369.3 48.2,370.5 48.2,371.7 48.2,373.0 48.2,374.2 48.2,375.4 48.2,376.6 48.2,377.8 48.2,379.0 48.2,380.2 48.2,381.4 48.2,382.6 48.2,383.8 48.2,385.0 48.1,386.2 48.1,387.4 48.1,388.7 48.1,389.9 48.1,391.1 48.1,392.3 48.1,393.5 48.1,394.7 48.1,395.9 48.1,397.1 48.1,398.3 48.1,399.5 48.1,400.7 48.1,401.9 48.1,403.1 48.0,404.4 48.0,405.6 48.0,406.8 48.0,408.0 48.0,409.2 48.0,410.4 48.0,411.6 48.0,412.8 48.0,414.0 48.0,415.2 48.0,416.4 48.0,417.6 48.0,418.8 48.0,420.0 48.0,421.3 47.9,422.5 47.8,423.7 47.7,424.9 47.2,426.1 45.7,427.3 40.5,428.5Z" fill="#8db0d8" stroke="#6a90bc" stroke-width="0.45"/>
<path d="M78.3,428.5 77.0,428.3 75.4,428.0 74.8,427.8 73.4,427.6 72.1,427.3 71.8,427.1 71.5,426.8 71.2,426.6 70.8,426.4 70.5,426.1 70.3,425.9 70.3,425.7 70.3,425.4 70.3,425.2 70.3,425.0 70.3,424.7 70.3,424.5 70.2,424.2 70.2,424.0 70.2,423.8 70.2,423.5 70.2,423.3 70.1,423.1 70.1,422.8 70.1,422.6 70.1,422.4 70.0,422.1 70.0,421.9 70.0,421.6 70.0,421.4 69.9,421.2 69.9,420.9 69.9,420.7 69.9,420.5 69.8,420.2 69.8,420.0 69.8,419.8 69.8,419.5 69.7,419.3 69.7,419.1 69.7,418.8 69.7,418.6 69.7,418.3 69.6,418.1 69.6,417.9 69.6,417.6 69.6,417.4 69.6,417.2 69.6,416.9 69.6,416.7 69.0,416.7 69.0,416.9 69.0,417.2 69.0,417.4 69.0,417.6 69.0,417.9 69.0,418.1 68.9,418.3 68.9,418.6 68.9,418.8 68.9,419.1 68.9,419.3 68.8,419.5 68.8,419.8 68.8,420.0 68.8,420.2 68.7,420.5 68.7,420.7 68.7,420.9 68.7,421.2 68.6,421.4 68.6,421.6 68.6,421.9 68.6,422.1 68.5,422.4 68.5,422.6 68.5,422.8 68.5,423.1 68.4,423.3 68.4,423.5 68.4,423.8 68.4,424.0 68.4,424.2 68.3,424.5 68.3,424.7 68.3,425.0 68.3,425.2 68.3,425.4 68.3,425.7 68.3,425.9 68.1,426.1 67.8,426.4 67.4,426.6 67.1,426.8 66.8,427.1 66.5,427.3 65.2,427.6 63.8,427.8 63.2,428.0 61.6,428.3 60.3,428.5Z" fill="#ee929e" stroke="#d87080" stroke-width="0.45"/>
<line x1="48.50" y1="428.50" x2="48.50" y2="368.12" stroke="#9fbbe0" stroke-width="0.9"/>
<line x1="48.50" y1="428.50" x2="48.50" y2="387.02" stroke="#1b4a86" stroke-width="1.6"/>
<line x1="48.50" y1="428.50" x2="48.50" y2="387.02" stroke="#1b4a86" stroke-width="2.3" stroke-linecap="round"/>
<path d="M48.5 368.1h0" stroke="#1b4a86" stroke-width="2.40" stroke-linecap="round" fill="none"/>
<line x1="69.30" y1="428.50" x2="69.30" y2="416.69" stroke="#c4102e" stroke-width="1.6"/>
<line x1="69.30" y1="428.50" x2="69.30" y2="416.69" stroke="#c4102e" stroke-width="2.3" stroke-linecap="round"/>
<line x1="35.30" y1="365.70" x2="35.30" y2="431.90" stroke="#231f20" stroke-width="1.2"/>
<line x1="34.70" y1="431.30" x2="82.30" y2="431.30" stroke="#231f20" stroke-width="1.2"/>
<line x1="32.30" y1="376.00" x2="35.30" y2="376.00" stroke="#231f20" stroke-width="1.0"/>
<text x="29.70" y="378.80" font-size="8.0" text-anchor="end" fill="#231f20">200</text>
<line x1="32.30" y1="389.30" x2="35.30" y2="389.30" stroke="#231f20" stroke-width="1.0"/>
<text x="29.70" y="392.10" font-size="8.0" text-anchor="end" fill="#231f20">150</text>
<line x1="32.30" y1="402.20" x2="35.30" y2="402.20" stroke="#231f20" stroke-width="1.0"/>
<text x="29.70" y="405.00" font-size="8.0" text-anchor="end" fill="#231f20">100</text>
<line x1="32.30" y1="415.40" x2="35.30" y2="415.40" stroke="#231f20" stroke-width="1.0"/>
<text x="29.70" y="418.20" font-size="8.0" text-anchor="end" fill="#231f20">50</text>
<line x1="32.30" y1="428.50" x2="35.30" y2="428.50" stroke="#231f20" stroke-width="1.0"/>
<text x="29.70" y="431.30" font-size="8.0" text-anchor="end" fill="#231f20">0</text>
<line x1="48.50" y1="431.30" x2="48.50" y2="434.10" stroke="#231f20" stroke-width="1.0"/>
<line x1="69.30" y1="431.30" x2="69.30" y2="434.10" stroke="#231f20" stroke-width="1.0"/>
<text x="59.30" y="362.58" font-size="8.5" text-anchor="middle" font-style="italic" fill="#231f20">LTA</text>
<text x="48.50" y="442.90" font-size="8.3" text-anchor="middle" fill="#231f20" textLength="10.4" lengthAdjust="spacingAndGlyphs">HC</text>
<text x="69.30" y="442.90" font-size="8.3" text-anchor="middle" fill="#231f20" textLength="10.4" lengthAdjust="spacingAndGlyphs">II-1</text>
<path d="M126.9,428.0 123.1,426.8 120.9,425.6 120.4,424.4 119.8,423.2 119.7,422.0 119.7,420.8 119.6,419.6 119.5,418.4 119.5,417.2 119.4,416.0 119.4,414.8 119.4,413.6 119.4,412.4 119.4,411.2 119.4,410.0 119.4,408.9 119.4,407.7 119.4,406.5 119.4,405.3 119.4,404.1 119.4,402.9 119.4,401.7 119.4,400.5 119.3,399.3 119.3,398.1 119.3,396.9 119.3,395.7 119.3,394.5 119.3,393.3 119.3,392.1 119.3,390.9 119.3,389.7 119.3,388.5 119.3,387.3 119.3,386.1 119.3,384.9 119.3,383.7 119.2,382.5 119.2,381.3 119.2,380.1 119.2,378.9 119.2,377.7 119.2,376.5 119.2,375.3 119.2,374.1 119.2,372.9 119.2,371.8 119.2,370.6 119.2,369.4 119.2,368.2 118.6,368.2 118.6,369.4 118.6,370.6 118.6,371.8 118.6,372.9 118.6,374.1 118.6,375.3 118.6,376.5 118.6,377.7 118.6,378.9 118.6,380.1 118.6,381.3 118.6,382.5 118.5,383.7 118.5,384.9 118.5,386.1 118.5,387.3 118.5,388.5 118.5,389.7 118.5,390.9 118.5,392.1 118.5,393.3 118.5,394.5 118.5,395.7 118.5,396.9 118.5,398.1 118.5,399.3 118.4,400.5 118.4,401.7 118.4,402.9 118.4,404.1 118.4,405.3 118.4,406.5 118.4,407.7 118.4,408.9 118.4,410.0 118.4,411.2 118.4,412.4 118.4,413.6 118.4,414.8 118.4,416.0 118.3,417.2 118.3,418.4 118.2,419.6 118.1,420.8 118.1,422.0 118.0,423.2 117.4,424.4 116.9,425.6 114.7,426.8 110.9,428.0Z" fill="#8db0d8" stroke="#6a90bc" stroke-width="0.45"/>
<path d="M149.5,428.0 148.7,427.8 147.1,427.5 146.5,427.3 145.9,427.0 144.8,426.8 143.6,426.5 143.0,426.3 143.0,426.0 142.9,425.8 142.7,425.5 142.6,425.3 142.4,425.0 142.1,424.8 141.9,424.6 141.8,424.3 141.6,424.1 141.5,423.8 141.5,423.6 141.5,423.3 141.5,423.1 141.5,422.8 141.5,422.6 141.5,422.3 141.4,422.1 141.4,421.8 141.4,421.6 141.4,421.3 141.3,421.1 141.3,420.9 141.3,420.6 141.2,420.4 141.2,420.1 141.2,419.9 141.1,419.6 141.1,419.4 141.1,419.1 141.1,418.9 141.0,418.6 141.0,418.4 141.0,418.1 140.9,417.9 140.9,417.7 140.9,417.4 140.9,417.2 140.8,416.9 140.8,416.7 140.8,416.4 140.8,416.2 140.8,415.9 140.8,415.7 140.2,415.7 140.2,415.9 140.2,416.2 140.2,416.4 140.2,416.7 140.2,416.9 140.1,417.2 140.1,417.4 140.1,417.7 140.1,417.9 140.0,418.1 140.0,418.4 140.0,418.6 139.9,418.9 139.9,419.1 139.9,419.4 139.9,419.6 139.8,419.9 139.8,420.1 139.8,420.4 139.7,420.6 139.7,420.9 139.7,421.1 139.6,421.3 139.6,421.6 139.6,421.8 139.6,422.1 139.5,422.3 139.5,422.6 139.5,422.8 139.5,423.1 139.5,423.3 139.5,423.6 139.5,423.8 139.4,424.1 139.2,424.3 139.1,424.6 138.9,424.8 138.6,425.0 138.4,425.3 138.3,425.5 138.1,425.8 138.0,426.0 138.0,426.3 137.4,426.5 136.2,426.8 135.1,427.0 134.5,427.3 133.9,427.5 132.3,427.8 131.5,428.0Z" fill="#ee929e" stroke="#d87080" stroke-width="0.45"/>
<line x1="118.90" y1="428.00" x2="118.90" y2="368.16" stroke="#9fbbe0" stroke-width="0.9"/>
<line x1="118.90" y1="428.00" x2="118.90" y2="401.60" stroke="#1b4a86" stroke-width="1.6"/>
<line x1="118.90" y1="428.00" x2="118.90" y2="401.60" stroke="#1b4a86" stroke-width="2.3" stroke-linecap="round"/>
<path d="M118.9 398.1h0M118.9 392.8h0M118.9 378.7h0M118.9 368.2h0" stroke="#1b4a86" stroke-width="2.40" stroke-linecap="round" fill="none"/>
<line x1="140.50" y1="428.00" x2="140.50" y2="419.20" stroke="#c4102e" stroke-width="1.6"/>
<line x1="140.50" y1="428.00" x2="140.50" y2="419.20" stroke="#c4102e" stroke-width="2.3" stroke-linecap="round"/>
<path d="M140.5 415.7h0" stroke="#c4102e" stroke-width="2.40" stroke-linecap="round" fill="none"/>
<line x1="105.40" y1="365.60" x2="105.40" y2="432.40" stroke="#231f20" stroke-width="1.2"/>
<line x1="104.80" y1="431.80" x2="152.40" y2="431.80" stroke="#231f20" stroke-width="1.2"/>
<line x1="102.40" y1="375.20" x2="105.40" y2="375.20" stroke="#231f20" stroke-width="1.0"/>
<text x="99.80" y="378.00" font-size="8.0" text-anchor="end" fill="#231f20">600</text>
<line x1="102.40" y1="392.90" x2="105.40" y2="392.90" stroke="#231f20" stroke-width="1.0"/>
<text x="99.80" y="395.70" font-size="8.0" text-anchor="end" fill="#231f20">400</text>
<line x1="102.40" y1="410.50" x2="105.40" y2="410.50" stroke="#231f20" stroke-width="1.0"/>
<text x="99.80" y="413.30" font-size="8.0" text-anchor="end" fill="#231f20">200</text>
<line x1="102.40" y1="428.00" x2="105.40" y2="428.00" stroke="#231f20" stroke-width="1.0"/>
<text x="99.80" y="430.80" font-size="8.0" text-anchor="end" fill="#231f20">0</text>
<line x1="118.90" y1="431.80" x2="118.90" y2="434.60" stroke="#231f20" stroke-width="1.0"/>
<line x1="140.50" y1="431.80" x2="140.50" y2="434.60" stroke="#231f20" stroke-width="1.0"/>
<text x="130.00" y="362.58" font-size="8.5" text-anchor="middle" font-style="italic" fill="#231f20">TNF</text>
<text x="118.90" y="443.40" font-size="8.3" text-anchor="middle" fill="#231f20" textLength="10.4" lengthAdjust="spacingAndGlyphs">HC</text>
<text x="140.50" y="443.40" font-size="8.3" text-anchor="middle" fill="#231f20" textLength="10.4" lengthAdjust="spacingAndGlyphs">II-1</text>
<path d="M200.4,428.0 198.2,426.8 195.3,425.6 194.6,424.4 193.7,423.2 193.4,422.0 193.4,420.8 193.3,419.6 193.2,418.4 193.1,417.3 193.0,416.1 192.9,414.9 192.9,413.7 192.9,412.5 192.9,411.3 192.9,410.1 192.9,408.9 192.9,407.7 192.9,406.5 192.9,405.3 192.9,404.1 192.9,402.9 192.9,401.7 192.9,400.5 192.9,399.3 192.8,398.1 192.8,396.9 192.8,395.8 192.8,394.6 192.8,393.4 192.8,392.2 192.8,391.0 192.8,389.8 192.8,388.6 192.8,387.4 192.8,386.2 192.8,385.0 192.8,383.8 192.7,382.6 192.7,381.4 192.7,380.2 192.7,379.0 192.7,377.8 192.7,376.6 192.7,375.5 192.7,374.3 192.7,373.1 192.7,371.9 192.7,370.7 192.7,369.5 192.7,368.3 192.1,368.3 192.1,369.5 192.1,370.7 192.1,371.9 192.1,373.1 192.1,374.3 192.1,375.5 192.1,376.6 192.1,377.8 192.1,379.0 192.1,380.2 192.1,381.4 192.1,382.6 192.0,383.8 192.0,385.0 192.0,386.2 192.0,387.4 192.0,388.6 192.0,389.8 192.0,391.0 192.0,392.2 192.0,393.4 192.0,394.6 192.0,395.8 192.0,396.9 192.0,398.1 191.9,399.3 191.9,400.5 191.9,401.7 191.9,402.9 191.9,404.1 191.9,405.3 191.9,406.5 191.9,407.7 191.9,408.9 191.9,410.1 191.9,411.3 191.9,412.5 191.9,413.7 191.9,414.9 191.8,416.1 191.7,417.3 191.6,418.4 191.5,419.6 191.4,420.8 191.4,422.0 191.1,423.2 190.2,424.4 189.5,425.6 186.6,426.8 184.4,428.0Z" fill="#8db0d8" stroke="#6a90bc" stroke-width="0.45"/>
<path d="M223.5,428.0 222.4,427.5 221.5,427.0 220.7,426.5 219.3,426.1 217.9,425.6 217.5,425.1 217.3,424.6 216.9,424.1 216.4,423.6 216.0,423.1 215.7,422.7 215.7,422.2 215.7,421.7 215.7,421.2 215.7,420.7 215.7,420.2 215.7,419.8 215.6,419.3 215.6,418.8 215.6,418.3 215.6,417.8 215.5,417.3 215.5,416.8 215.5,416.4 215.4,415.9 215.4,415.4 215.4,414.9 215.3,414.4 215.3,413.9 215.3,413.4 215.2,413.0 215.2,412.5 215.2,412.0 215.1,411.5 215.1,411.0 215.1,410.5 215.0,410.0 215.0,409.6 215.0,409.1 215.0,408.6 214.9,408.1 214.9,407.6 214.9,407.1 214.9,406.7 214.8,406.2 214.8,405.7 214.8,405.2 214.8,404.7 214.8,404.2 214.8,403.7 214.2,403.7 214.2,404.2 214.2,404.7 214.2,405.2 214.2,405.7 214.2,406.2 214.1,406.7 214.1,407.1 214.1,407.6 214.1,408.1 214.0,408.6 214.0,409.1 214.0,409.6 214.0,410.0 213.9,410.5 213.9,411.0 213.9,411.5 213.8,412.0 213.8,412.5 213.8,413.0 213.7,413.4 213.7,413.9 213.7,414.4 213.6,414.9 213.6,415.4 213.6,415.9 213.5,416.4 213.5,416.8 213.5,417.3 213.4,417.8 213.4,418.3 213.4,418.8 213.4,419.3 213.3,419.8 213.3,420.2 213.3,420.7 213.3,421.2 213.3,421.7 213.3,422.2 213.3,422.7 213.0,423.1 212.6,423.6 212.1,424.1 211.7,424.6 211.5,425.1 211.1,425.6 209.7,426.1 208.3,426.5 207.5,427.0 206.6,427.5 205.5,428.0Z" fill="#ee929e" stroke="#d87080" stroke-width="0.45"/>
<line x1="192.40" y1="428.00" x2="192.40" y2="368.29" stroke="#9fbbe0" stroke-width="0.9"/>
<line x1="192.40" y1="428.00" x2="192.40" y2="388.81" stroke="#1b4a86" stroke-width="1.6"/>
<line x1="192.40" y1="428.00" x2="192.40" y2="388.81" stroke="#1b4a86" stroke-width="2.3" stroke-linecap="round"/>
<path d="M192.4 368.3h0" stroke="#1b4a86" stroke-width="2.40" stroke-linecap="round" fill="none"/>
<line x1="214.50" y1="428.00" x2="214.50" y2="409.34" stroke="#c4102e" stroke-width="1.6"/>
<line x1="214.50" y1="428.00" x2="214.50" y2="409.34" stroke="#c4102e" stroke-width="2.3" stroke-linecap="round"/>
<path d="M214.5 407.5h0M214.5 405.6h0M214.5 403.7h0" stroke="#c4102e" stroke-width="2.00" stroke-linecap="round" fill="none"/>
<line x1="177.60" y1="366.00" x2="177.60" y2="432.40" stroke="#231f20" stroke-width="1.2"/>
<line x1="177.00" y1="431.80" x2="224.60" y2="431.80" stroke="#231f20" stroke-width="1.2"/>
<line x1="174.60" y1="372.00" x2="177.60" y2="372.00" stroke="#231f20" stroke-width="1.0"/>
<text x="172.00" y="374.80" font-size="8.0" text-anchor="end" fill="#231f20">60</text>
<line x1="174.60" y1="390.80" x2="177.60" y2="390.80" stroke="#231f20" stroke-width="1.0"/>
<text x="172.00" y="393.60" font-size="8.0" text-anchor="end" fill="#231f20">40</text>
<line x1="174.60" y1="409.20" x2="177.60" y2="409.20" stroke="#231f20" stroke-width="1.0"/>
<text x="172.00" y="412.00" font-size="8.0" text-anchor="end" fill="#231f20">20</text>
<line x1="174.60" y1="428.00" x2="177.60" y2="428.00" stroke="#231f20" stroke-width="1.0"/>
<text x="172.00" y="430.80" font-size="8.0" text-anchor="end" fill="#231f20">0</text>
<line x1="192.40" y1="431.80" x2="192.40" y2="434.60" stroke="#231f20" stroke-width="1.0"/>
<line x1="214.50" y1="431.80" x2="214.50" y2="434.60" stroke="#231f20" stroke-width="1.0"/>
<text x="203.50" y="362.58" font-size="8.5" text-anchor="middle" font-style="italic" fill="#231f20">DUSP4</text>
<text x="192.40" y="443.40" font-size="8.3" text-anchor="middle" fill="#231f20" textLength="10.4" lengthAdjust="spacingAndGlyphs">HC</text>
<text x="214.50" y="443.40" font-size="8.3" text-anchor="middle" fill="#231f20" textLength="10.4" lengthAdjust="spacingAndGlyphs">II-1</text>
<text x="14.50" y="200.50" font-size="8.2" text-anchor="middle" fill="#231f20" transform="rotate(-90 14.50 200.50)" textLength="70.5" lengthAdjust="spacingAndGlyphs">Transcript abundance</text>
<text x="14.50" y="299.00" font-size="8.2" text-anchor="middle" fill="#231f20" transform="rotate(-90 14.50 299.00)" textLength="70.5" lengthAdjust="spacingAndGlyphs">Transcript abundance</text>
<text x="14.50" y="391.60" font-size="8.2" text-anchor="middle" fill="#231f20" transform="rotate(-90 14.50 391.60)" textLength="70.5" lengthAdjust="spacingAndGlyphs">Transcript abundance</text>
<text x="236.31" y="159.92" font-size="11.8" font-weight="bold" fill="#000">D</text>
<text x="259.30" y="161.06" font-size="9.9" fill="#231f20">Total CD19<tspan font-size="6" dy="-3.4">+</tspan><tspan dy="3.4"> B cells</tspan></text>
<path d="M259.3,251.0 260.1,251.0 260.9,251.0 261.7,251.0 262.5,251.0 263.3,251.0 264.1,251.0 264.9,251.0 265.7,251.0 266.5,251.0 267.3,251.0 268.1,251.0 268.9,251.0 269.7,251.0 270.5,251.0 271.3,251.0 272.1,251.0 272.9,251.0 273.7,251.0 274.5,251.0 275.3,251.0 276.1,251.0 276.9,251.0 277.7,251.0 278.5,251.0 279.3,250.9 280.1,250.9 280.9,250.8 281.7,250.6 282.5,250.2 283.3,249.8 284.1,249.2 284.9,248.5 285.7,247.7 286.5,246.8 287.3,245.9 288.1,245.0 288.9,243.9 289.7,242.7 290.5,241.3 291.3,239.7 292.1,238.1 292.9,236.7 293.7,235.7 294.5,235.3 295.3,235.6 296.1,236.4 296.9,237.3 297.7,238.0 298.5,238.3 299.3,238.2 300.1,237.8 300.9,237.6 301.7,237.8 302.5,238.6 303.3,240.0 304.1,241.7 304.9,243.4 305.7,245.0 306.5,246.3 307.3,247.4 308.1,248.2 308.9,248.9 309.7,249.5 310.5,250.0 311.3,250.4 312.1,250.6 312.9,250.8 313.7,250.9 314.5,250.9 315.3,251.0 316.1,251.0 316.9,251.0 317.7,251.0 318.5,251.0 319.3,251.0 320.1,251.0 320.9,251.0 321.7,251.0 322.5,251.0 323.3,251.0 324.1,251.0 324.9,251.0 325.7,251.0 326.5,251.0 327.3,251.0 328.1,251.0 328.9,251.0 329.7,251.0 330.5,251.0 331.3,251.0 332.1,251.0 332.9,251.0 333.7,251.0 334.5,251.0 335.3,251.0 336.1,251.0 336.9,251.0 337.7,251.0 338.5,251.0 339.3,251.0 340.1,251.0 340.9,251.0 341.7,251.0 342.5,251.0 342.5,251.0 259.3,251.0Z" fill="#a6dca0" stroke="none" stroke-width="0.8" fill-opacity="0.75"/>
<path d="M259.3,251.0 260.1,251.0 260.9,251.0 261.7,251.0 262.5,251.0 263.3,251.0 264.1,251.0 264.9,251.0 265.7,251.0 266.5,251.0 267.3,251.0 268.1,251.0 268.9,251.0 269.7,251.0 270.5,251.0 271.3,251.0 272.1,251.0 272.9,251.0 273.7,251.0 274.5,251.0 275.3,251.0 276.1,251.0 276.9,251.0 277.7,251.0 278.5,251.0 279.3,250.9 280.1,250.9 280.9,250.8 281.7,250.6 282.5,250.2 283.3,249.8 284.1,249.2 284.9,248.5 285.7,247.7 286.5,246.8 287.3,245.9 288.1,245.0 288.9,243.9 289.7,242.7 290.5,241.3 291.3,239.7 292.1,238.1 292.9,236.7 293.7,235.7 294.5,235.3 295.3,235.6 296.1,236.4 296.9,237.3 297.7,238.0 298.5,238.3 299.3,238.2 300.1,237.8 300.9,237.6 301.7,237.8 302.5,238.6 303.3,240.0 304.1,241.7 304.9,243.4 305.7,245.0 306.5,246.3 307.3,247.4 308.1,248.2 308.9,248.9 309.7,249.5 310.5,250.0 311.3,250.4 312.1,250.6 312.9,250.8 313.7,250.9 314.5,250.9 315.3,251.0 316.1,251.0 316.9,251.0 317.7,251.0 318.5,251.0 319.3,251.0 320.1,251.0 320.9,251.0 321.7,251.0 322.5,251.0 323.3,251.0 324.1,251.0 324.9,251.0 325.7,251.0 326.5,251.0 327.3,251.0 328.1,251.0 328.9,251.0 329.7,251.0 330.5,251.0 331.3,251.0 332.1,251.0 332.9,251.0 333.7,251.0 334.5,251.0 335.3,251.0 336.1,251.0 336.9,251.0 337.7,251.0 338.5,251.0 339.3,251.0 340.1,251.0 340.9,251.0 341.7,251.0 342.5,251.0" fill="none" stroke="#44a850" stroke-width="0.8" stroke-linejoin="round"/>
<path d="M259.3,239.5 260.1,239.5 260.9,239.5 261.7,239.5 262.5,239.5 263.3,239.5 264.1,239.5 264.9,239.5 265.7,239.5 266.5,239.5 267.3,239.5 268.1,239.5 268.9,239.5 269.7,239.5 270.5,239.5 271.3,239.5 272.1,239.5 272.9,239.5 273.7,239.5 274.5,239.5 275.3,239.5 276.1,239.5 276.9,239.5 277.7,239.5 278.5,239.5 279.3,239.5 280.1,239.5 280.9,239.5 281.7,239.5 282.5,239.5 283.3,239.5 284.1,239.4 284.9,239.2 285.7,239.0 286.5,238.5 287.3,237.8 288.1,236.9 288.9,235.8 289.7,234.6 290.5,233.4 291.3,231.9 292.1,230.0 292.9,227.5 293.7,224.4 294.5,221.1 295.3,218.3 296.1,216.4 296.9,215.7 297.7,215.8 298.5,216.5 299.3,217.5 300.1,218.8 300.9,220.6 301.7,222.9 302.5,225.5 303.3,228.2 304.1,230.7 304.9,232.8 305.7,234.6 306.5,236.1 307.3,237.2 308.1,238.0 308.9,238.6 309.7,239.0 310.5,239.2 311.3,239.4 312.1,239.4 312.9,239.5 313.7,239.5 314.5,239.5 315.3,239.5 316.1,239.5 316.9,239.5 317.7,239.5 318.5,239.5 319.3,239.5 320.1,239.5 320.9,239.5 321.7,239.5 322.5,239.5 323.3,239.5 324.1,239.5 324.9,239.5 325.7,239.5 326.5,239.5 327.3,239.5 328.1,239.5 328.9,239.5 329.7,239.5 330.5,239.5 331.3,239.5 332.1,239.5 332.9,239.5 333.7,239.5 334.5,239.5 335.3,239.5 336.1,239.5 336.9,239.5 337.7,239.5 338.5,239.5 339.3,239.5 340.1,239.5 340.9,239.5 341.7,239.5 342.5,239.5 342.5,239.5 259.3,239.5Z" fill="#8cc8b4" stroke="none" stroke-width="0.8" fill-opacity="0.75"/>
<path d="M259.3,239.5 260.1,239.5 260.9,239.5 261.7,239.5 262.5,239.5 263.3,239.5 264.1,239.5 264.9,239.5 265.7,239.5 266.5,239.5 267.3,239.5 268.1,239.5 268.9,239.5 269.7,239.5 270.5,239.5 271.3,239.5 272.1,239.5 272.9,239.5 273.7,239.5 274.5,239.5 275.3,239.5 276.1,239.5 276.9,239.5 277.7,239.5 278.5,239.5 279.3,239.5 280.1,239.5 280.9,239.5 281.7,239.5 282.5,239.5 283.3,239.5 284.1,239.4 284.9,239.2 285.7,239.0 286.5,238.5 287.3,237.8 288.1,236.9 288.9,235.8 289.7,234.6 290.5,233.4 291.3,231.9 292.1,230.0 292.9,227.5 293.7,224.4 294.5,221.1 295.3,218.3 296.1,216.4 296.9,215.7 297.7,215.8 298.5,216.5 299.3,217.5 300.1,218.8 300.9,220.6 301.7,222.9 302.5,225.5 303.3,228.2 304.1,230.7 304.9,232.8 305.7,234.6 306.5,236.1 307.3,237.2 308.1,238.0 308.9,238.6 309.7,239.0 310.5,239.2 311.3,239.4 312.1,239.4 312.9,239.5 313.7,239.5 314.5,239.5 315.3,239.5 316.1,239.5 316.9,239.5 317.7,239.5 318.5,239.5 319.3,239.5 320.1,239.5 320.9,239.5 321.7,239.5 322.5,239.5 323.3,239.5 324.1,239.5 324.9,239.5 325.7,239.5 326.5,239.5 327.3,239.5 328.1,239.5 328.9,239.5 329.7,239.5 330.5,239.5 331.3,239.5 332.1,239.5 332.9,239.5 333.7,239.5 334.5,239.5 335.3,239.5 336.1,239.5 336.9,239.5 337.7,239.5 338.5,239.5 339.3,239.5 340.1,239.5 340.9,239.5 341.7,239.5 342.5,239.5" fill="none" stroke="#1f5c5a" stroke-width="0.8" stroke-linejoin="round"/>
<path d="M259.3,228.0 260.1,228.0 260.9,228.0 261.7,228.0 262.5,228.0 263.3,228.0 264.1,228.0 264.9,228.0 265.7,228.0 266.5,228.0 267.3,228.0 268.1,228.0 268.9,228.0 269.7,228.0 270.5,228.0 271.3,228.0 272.1,228.0 272.9,228.0 273.7,228.0 274.5,228.0 275.3,227.9 276.1,227.9 276.9,227.8 277.7,227.6 278.5,227.2 279.3,226.8 280.1,226.2 280.9,225.5 281.7,224.8 282.5,223.9 283.3,223.1 284.1,222.1 284.9,221.0 285.7,219.5 286.5,217.5 287.3,215.2 288.1,212.5 288.9,209.9 289.7,207.8 290.5,206.3 291.3,205.9 292.1,206.3 292.9,207.4 293.7,208.9 294.5,210.6 295.3,212.1 296.1,213.4 296.9,214.6 297.7,215.6 298.5,216.4 299.3,217.3 300.1,218.1 300.9,219.0 301.7,220.0 302.5,221.1 303.3,222.3 304.1,223.5 304.9,224.6 305.7,225.5 306.5,226.4 307.3,227.0 308.1,227.4 308.9,227.7 309.7,227.8 310.5,227.9 311.3,228.0 312.1,228.0 312.9,228.0 313.7,228.0 314.5,228.0 315.3,228.0 316.1,228.0 316.9,228.0 317.7,228.0 318.5,228.0 319.3,228.0 320.1,228.0 320.9,228.0 321.7,228.0 322.5,228.0 323.3,228.0 324.1,228.0 324.9,228.0 325.7,228.0 326.5,228.0 327.3,228.0 328.1,228.0 328.9,228.0 329.7,228.0 330.5,228.0 331.3,228.0 332.1,228.0 332.9,228.0 333.7,228.0 334.5,228.0 335.3,228.0 336.1,228.0 336.9,228.0 337.7,228.0 338.5,228.0 339.3,228.0 340.1,228.0 340.9,228.0 341.7,228.0 342.5,228.0 342.5,228.0 259.3,228.0Z" fill="#a6d6f0" stroke="none" stroke-width="0.8" fill-opacity="0.75"/>
<path d="M259.3,228.0 260.1,228.0 260.9,228.0 261.7,228.0 262.5,228.0 263.3,228.0 264.1,228.0 264.9,228.0 265.7,228.0 266.5,228.0 267.3,228.0 268.1,228.0 268.9,228.0 269.7,228.0 270.5,228.0 271.3,228.0 272.1,228.0 272.9,228.0 273.7,228.0 274.5,228.0 275.3,227.9 276.1,227.9 276.9,227.8 277.7,227.6 278.5,227.2 279.3,226.8 280.1,226.2 280.9,225.5 281.7,224.8 282.5,223.9 283.3,223.1 284.1,222.1 284.9,221.0 285.7,219.5 286.5,217.5 287.3,215.2 288.1,212.5 288.9,209.9 289.7,207.8 290.5,206.3 291.3,205.9 292.1,206.3 292.9,207.4 293.7,208.9 294.5,210.6 295.3,212.1 296.1,213.4 296.9,214.6 297.7,215.6 298.5,216.4 299.3,217.3 300.1,218.1 300.9,219.0 301.7,220.0 302.5,221.1 303.3,222.3 304.1,223.5 304.9,224.6 305.7,225.5 306.5,226.4 307.3,227.0 308.1,227.4 308.9,227.7 309.7,227.8 310.5,227.9 311.3,228.0 312.1,228.0 312.9,228.0 313.7,228.0 314.5,228.0 315.3,228.0 316.1,228.0 316.9,228.0 317.7,228.0 318.5,228.0 319.3,228.0 320.1,228.0 320.9,228.0 321.7,228.0 322.5,228.0 323.3,228.0 324.1,228.0 324.9,228.0 325.7,228.0 326.5,228.0 327.3,228.0 328.1,228.0 328.9,228.0 329.7,228.0 330.5,228.0 331.3,228.0 332.1,228.0 332.9,228.0 333.7,228.0 334.5,228.0 335.3,228.0 336.1,228.0 336.9,228.0 337.7,228.0 338.5,228.0 339.3,228.0 340.1,228.0 340.9,228.0 341.7,228.0 342.5,228.0" fill="none" stroke="#3494cc" stroke-width="0.8" stroke-linejoin="round"/>
<path d="M259.3,216.5 260.1,216.5 260.9,216.5 261.7,216.5 262.5,216.5 263.3,216.5 264.1,216.5 264.9,216.5 265.7,216.5 266.5,216.5 267.3,216.5 268.1,216.5 268.9,216.5 269.7,216.5 270.5,216.5 271.3,216.5 272.1,216.5 272.9,216.4 273.7,216.4 274.5,216.3 275.3,216.1 276.1,215.8 276.9,215.3 277.7,214.7 278.5,213.9 279.3,213.0 280.1,212.1 280.9,211.0 281.7,209.7 282.5,208.1 283.3,206.2 284.1,203.9 284.9,201.7 285.7,200.0 286.5,198.7 287.3,197.8 288.1,197.1 288.9,196.6 289.7,196.7 290.5,197.3 291.3,198.2 292.1,199.0 292.9,199.3 293.7,199.3 294.5,199.2 295.3,199.3 296.1,199.9 296.9,200.8 297.7,202.0 298.5,203.4 299.3,205.0 300.1,206.7 300.9,208.4 301.7,210.1 302.5,211.7 303.3,213.1 304.1,214.2 304.9,215.0 305.7,215.6 306.5,216.0 307.3,216.2 308.1,216.4 308.9,216.4 309.7,216.5 310.5,216.5 311.3,216.5 312.1,216.5 312.9,216.5 313.7,216.5 314.5,216.5 315.3,216.5 316.1,216.5 316.9,216.5 317.7,216.5 318.5,216.5 319.3,216.5 320.1,216.5 320.9,216.5 321.7,216.5 322.5,216.5 323.3,216.5 324.1,216.5 324.9,216.5 325.7,216.5 326.5,216.5 327.3,216.5 328.1,216.5 328.9,216.5 329.7,216.5 330.5,216.5 331.3,216.5 332.1,216.5 332.9,216.5 333.7,216.5 334.5,216.5 335.3,216.5 336.1,216.5 336.9,216.5 337.7,216.5 338.5,216.5 339.3,216.5 340.1,216.5 340.9,216.5 341.7,216.5 342.5,216.5 342.5,216.5 259.3,216.5Z" fill="#a6bede" stroke="none" stroke-width="0.8" fill-opacity="0.75"/>
<path d="M259.3,216.5 260.1,216.5 260.9,216.5 261.7,216.5 262.5,216.5 263.3,216.5 264.1,216.5 264.9,216.5 265.7,216.5 266.5,216.5 267.3,216.5 268.1,216.5 268.9,216.5 269.7,216.5 270.5,216.5 271.3,216.5 272.1,216.5 272.9,216.4 273.7,216.4 274.5,216.3 275.3,216.1 276.1,215.8 276.9,215.3 277.7,214.7 278.5,213.9 279.3,213.0 280.1,212.1 280.9,211.0 281.7,209.7 282.5,208.1 283.3,206.2 284.1,203.9 284.9,201.7 285.7,200.0 286.5,198.7 287.3,197.8 288.1,197.1 288.9,196.6 289.7,196.7 290.5,197.3 291.3,198.2 292.1,199.0 292.9,199.3 293.7,199.3 294.5,199.2 295.3,199.3 296.1,199.9 296.9,200.8 297.7,202.0 298.5,203.4 299.3,205.0 300.1,206.7 300.9,208.4 301.7,210.1 302.5,211.7 303.3,213.1 304.1,214.2 304.9,215.0 305.7,215.6 306.5,216.0 307.3,216.2 308.1,216.4 308.9,216.4 309.7,216.5 310.5,216.5 311.3,216.5 312.1,216.5 312.9,216.5 313.7,216.5 314.5,216.5 315.3,216.5 316.1,216.5 316.9,216.5 317.7,216.5 318.5,216.5 319.3,216.5 320.1,216.5 320.9,216.5 321.7,216.5 322.5,216.5 323.3,216.5 324.1,216.5 324.9,216.5 325.7,216.5 326.5,216.5 327.3,216.5 328.1,216.5 328.9,216.5 329.7,216.5 330.5,216.5 331.3,216.5 332.1,216.5 332.9,216.5 333.7,216.5 334.5,216.5 335.3,216.5 336.1,216.5 336.9,216.5 337.7,216.5 338.5,216.5 339.3,216.5 340.1,216.5 340.9,216.5 341.7,216.5 342.5,216.5" fill="none" stroke="#24406e" stroke-width="0.8" stroke-linejoin="round"/>
<path d="M259.3,205.0 260.1,205.0 260.9,205.0 261.7,205.0 262.5,205.0 263.3,205.0 264.1,205.0 264.9,205.0 265.7,205.0 266.5,205.0 267.3,205.0 268.1,205.0 268.9,205.0 269.7,205.0 270.5,205.0 271.3,205.0 272.1,205.0 272.9,205.0 273.7,205.0 274.5,205.0 275.3,205.0 276.1,205.0 276.9,205.0 277.7,205.0 278.5,205.0 279.3,205.0 280.1,205.0 280.9,205.0 281.7,204.9 282.5,204.8 283.3,204.7 284.1,204.5 284.9,204.1 285.7,203.6 286.5,203.0 287.3,202.2 288.1,201.2 288.9,200.2 289.7,199.3 290.5,198.4 291.3,197.7 292.1,197.1 292.9,196.6 293.7,196.0 294.5,195.1 295.3,193.7 296.1,192.0 296.9,189.9 297.7,187.9 298.5,186.3 299.3,185.6 300.1,185.8 300.9,187.0 301.7,188.9 302.5,191.2 303.3,193.5 304.1,195.6 304.9,197.4 305.7,199.0 306.5,200.3 307.3,201.4 308.1,202.4 308.9,203.1 309.7,203.8 310.5,204.2 311.3,204.6 312.1,204.8 312.9,204.9 313.7,204.9 314.5,205.0 315.3,205.0 316.1,205.0 316.9,205.0 317.7,205.0 318.5,205.0 319.3,205.0 320.1,205.0 320.9,205.0 321.7,205.0 322.5,205.0 323.3,205.0 324.1,205.0 324.9,205.0 325.7,205.0 326.5,205.0 327.3,205.0 328.1,205.0 328.9,205.0 329.7,205.0 330.5,205.0 331.3,205.0 332.1,205.0 332.9,205.0 333.7,205.0 334.5,205.0 335.3,205.0 336.1,205.0 336.9,205.0 337.7,205.0 338.5,205.0 339.3,205.0 340.1,205.0 340.9,205.0 341.7,205.0 342.5,205.0 342.5,205.0 259.3,205.0Z" fill="#c0a8d0" stroke="none" stroke-width="0.8" fill-opacity="0.75"/>
<path d="M259.3,205.0 260.1,205.0 260.9,205.0 261.7,205.0 262.5,205.0 263.3,205.0 264.1,205.0 264.9,205.0 265.7,205.0 266.5,205.0 267.3,205.0 268.1,205.0 268.9,205.0 269.7,205.0 270.5,205.0 271.3,205.0 272.1,205.0 272.9,205.0 273.7,205.0 274.5,205.0 275.3,205.0 276.1,205.0 276.9,205.0 277.7,205.0 278.5,205.0 279.3,205.0 280.1,205.0 280.9,205.0 281.7,204.9 282.5,204.8 283.3,204.7 284.1,204.5 284.9,204.1 285.7,203.6 286.5,203.0 287.3,202.2 288.1,201.2 288.9,200.2 289.7,199.3 290.5,198.4 291.3,197.7 292.1,197.1 292.9,196.6 293.7,196.0 294.5,195.1 295.3,193.7 296.1,192.0 296.9,189.9 297.7,187.9 298.5,186.3 299.3,185.6 300.1,185.8 300.9,187.0 301.7,188.9 302.5,191.2 303.3,193.5 304.1,195.6 304.9,197.4 305.7,199.0 306.5,200.3 307.3,201.4 308.1,202.4 308.9,203.1 309.7,203.8 310.5,204.2 311.3,204.6 312.1,204.8 312.9,204.9 313.7,204.9 314.5,205.0 315.3,205.0 316.1,205.0 316.9,205.0 317.7,205.0 318.5,205.0 319.3,205.0 320.1,205.0 320.9,205.0 321.7,205.0 322.5,205.0 323.3,205.0 324.1,205.0 324.9,205.0 325.7,205.0 326.5,205.0 327.3,205.0 328.1,205.0 328.9,205.0 329.7,205.0 330.5,205.0 331.3,205.0 332.1,205.0 332.9,205.0 333.7,205.0 334.5,205.0 335.3,205.0 336.1,205.0 336.9,205.0 337.7,205.0 338.5,205.0 339.3,205.0 340.1,205.0 340.9,205.0 341.7,205.0 342.5,205.0" fill="none" stroke="#3c2a66" stroke-width="0.8" stroke-linejoin="round"/>
<path d="M259.3,193.5 260.1,193.5 260.9,193.5 261.7,193.5 262.5,193.5 263.3,193.5 264.1,193.5 264.9,193.5 265.7,193.5 266.5,193.5 267.3,193.5 268.1,193.5 268.9,193.5 269.7,193.5 270.5,193.5 271.3,193.5 272.1,193.4 272.9,193.4 273.7,193.3 274.5,193.2 275.3,193.0 276.1,192.7 276.9,192.1 277.7,191.1 278.5,189.2 279.3,186.0 280.1,181.8 280.9,177.1 281.7,173.2 282.5,171.6 283.3,172.6 284.1,175.6 284.9,179.3 285.7,182.4 286.5,184.6 287.3,185.9 288.1,186.6 288.9,187.1 289.7,187.5 290.5,187.9 291.3,188.4 292.1,189.0 292.9,189.5 293.7,190.1 294.5,190.6 295.3,191.2 296.1,191.6 296.9,192.1 297.7,192.4 298.5,192.7 299.3,193.0 300.1,193.1 300.9,193.3 301.7,193.4 302.5,193.4 303.3,193.5 304.1,193.5 304.9,193.5 305.7,193.5 306.5,193.5 307.3,193.5 308.1,193.5 308.9,193.5 309.7,193.5 310.5,193.5 311.3,193.5 312.1,193.5 312.9,193.5 313.7,193.5 314.5,193.5 315.3,193.5 316.1,193.5 316.9,193.5 317.7,193.5 318.5,193.5 319.3,193.5 320.1,193.5 320.9,193.5 321.7,193.5 322.5,193.5 323.3,193.5 324.1,193.5 324.9,193.5 325.7,193.5 326.5,193.5 327.3,193.5 328.1,193.5 328.9,193.5 329.7,193.5 330.5,193.5 331.3,193.5 332.1,193.5 332.9,193.5 333.7,193.5 334.5,193.5 335.3,193.5 336.1,193.5 336.9,193.5 337.7,193.5 338.5,193.5 339.3,193.5 340.1,193.5 340.9,193.5 341.7,193.5 342.5,193.5 342.5,193.5 259.3,193.5Z" fill="#f2a6b4" stroke="none" stroke-width="0.8" fill-opacity="0.75"/>
<path d="M259.3,193.5 260.1,193.5 260.9,193.5 261.7,193.5 262.5,193.5 263.3,193.5 264.1,193.5 264.9,193.5 265.7,193.5 266.5,193.5 267.3,193.5 268.1,193.5 268.9,193.5 269.7,193.5 270.5,193.5 271.3,193.5 272.1,193.4 272.9,193.4 273.7,193.3 274.5,193.2 275.3,193.0 276.1,192.7 276.9,192.1 277.7,191.1 278.5,189.2 279.3,186.0 280.1,181.8 280.9,177.1 281.7,173.2 282.5,171.6 283.3,172.6 284.1,175.6 284.9,179.3 285.7,182.4 286.5,184.6 287.3,185.9 288.1,186.6 288.9,187.1 289.7,187.5 290.5,187.9 291.3,188.4 292.1,189.0 292.9,189.5 293.7,190.1 294.5,190.6 295.3,191.2 296.1,191.6 296.9,192.1 297.7,192.4 298.5,192.7 299.3,193.0 300.1,193.1 300.9,193.3 301.7,193.4 302.5,193.4 303.3,193.5 304.1,193.5 304.9,193.5 305.7,193.5 306.5,193.5 307.3,193.5 308.1,193.5 308.9,193.5 309.7,193.5 310.5,193.5 311.3,193.5 312.1,193.5 312.9,193.5 313.7,193.5 314.5,193.5 315.3,193.5 316.1,193.5 316.9,193.5 317.7,193.5 318.5,193.5 319.3,193.5 320.1,193.5 320.9,193.5 321.7,193.5 322.5,193.5 323.3,193.5 324.1,193.5 324.9,193.5 325.7,193.5 326.5,193.5 327.3,193.5 328.1,193.5 328.9,193.5 329.7,193.5 330.5,193.5 331.3,193.5 332.1,193.5 332.9,193.5 333.7,193.5 334.5,193.5 335.3,193.5 336.1,193.5 336.9,193.5 337.7,193.5 338.5,193.5 339.3,193.5 340.1,193.5 340.9,193.5 341.7,193.5 342.5,193.5" fill="none" stroke="#d03a58" stroke-width="0.8" stroke-linejoin="round"/>
<rect x="259.3" y="168.8" width="83.2" height="83.6" fill="none" stroke="#231f20" stroke-width="1"/>
<text x="255.60" y="194.26" font-size="7.6" text-anchor="end" fill="#231f20">II-1</text>
<text x="340.40" y="190.76" font-size="7.6" text-anchor="end" fill="#231f20">3596</text>
<text x="255.60" y="205.76" font-size="7.6" text-anchor="end" fill="#231f20">I-1</text>
<text x="340.40" y="202.26" font-size="7.6" text-anchor="end" fill="#231f20">8408</text>
<text x="255.60" y="217.26" font-size="7.6" text-anchor="end" fill="#231f20">I-2</text>
<text x="340.40" y="213.76" font-size="7.6" text-anchor="end" fill="#231f20">5756</text>
<text x="255.60" y="228.76" font-size="7.6" text-anchor="end" fill="#231f20">II-2</text>
<text x="340.40" y="225.26" font-size="7.6" text-anchor="end" fill="#231f20">6231</text>
<text x="255.60" y="240.26" font-size="7.6" text-anchor="end" fill="#231f20">HC1</text>
<text x="340.40" y="236.76" font-size="7.6" text-anchor="end" fill="#231f20">8212</text>
<text x="255.60" y="251.76" font-size="7.6" text-anchor="end" fill="#231f20">HC2</text>
<text x="340.40" y="248.26" font-size="7.6" text-anchor="end" fill="#231f20">8043</text>
<line x1="262.00" y1="252.40" x2="262.00" y2="254.20" stroke="#231f20" stroke-width="0.6"/>
<line x1="263.50" y1="252.40" x2="263.50" y2="254.20" stroke="#231f20" stroke-width="0.6"/>
<line x1="265.00" y1="252.40" x2="265.00" y2="254.20" stroke="#231f20" stroke-width="0.6"/>
<line x1="266.50" y1="252.40" x2="266.50" y2="254.20" stroke="#231f20" stroke-width="0.6"/>
<line x1="268.00" y1="252.40" x2="268.00" y2="254.20" stroke="#231f20" stroke-width="0.6"/>
<line x1="269.00" y1="252.40" x2="269.00" y2="254.20" stroke="#231f20" stroke-width="0.6"/>
<line x1="270.00" y1="252.40" x2="270.00" y2="254.20" stroke="#231f20" stroke-width="0.6"/>
<line x1="271.00" y1="252.40" x2="271.00" y2="254.20" stroke="#231f20" stroke-width="0.6"/>
<line x1="275.00" y1="252.40" x2="275.00" y2="254.00" stroke="#231f20" stroke-width="0.5"/>
<line x1="282.00" y1="252.40" x2="282.00" y2="254.00" stroke="#231f20" stroke-width="0.5"/>
<line x1="285.00" y1="252.40" x2="285.00" y2="254.00" stroke="#231f20" stroke-width="0.5"/>
<line x1="287.50" y1="252.40" x2="287.50" y2="254.00" stroke="#231f20" stroke-width="0.5"/>
<line x1="289.00" y1="252.40" x2="289.00" y2="254.00" stroke="#231f20" stroke-width="0.5"/>
<line x1="290.50" y1="252.40" x2="290.50" y2="254.00" stroke="#231f20" stroke-width="0.5"/>
<line x1="291.50" y1="252.40" x2="291.50" y2="254.00" stroke="#231f20" stroke-width="0.5"/>
<line x1="292.50" y1="252.40" x2="292.50" y2="254.00" stroke="#231f20" stroke-width="0.5"/>
<line x1="293.30" y1="252.40" x2="293.30" y2="254.00" stroke="#231f20" stroke-width="0.5"/>
<line x1="294.00" y1="252.40" x2="294.00" y2="254.00" stroke="#231f20" stroke-width="0.5"/>
<line x1="301.00" y1="252.40" x2="301.00" y2="254.00" stroke="#231f20" stroke-width="0.5"/>
<line x1="305.00" y1="252.40" x2="305.00" y2="254.00" stroke="#231f20" stroke-width="0.5"/>
<line x1="310.00" y1="252.40" x2="310.00" y2="254.00" stroke="#231f20" stroke-width="0.5"/>
<line x1="265.00" y1="253.50" x2="270.00" y2="253.50" stroke="#231f20" stroke-width="1.4"/>
<text x="258.50" y="264.74" font-size="8.4" fill="#231f20" textLength="24.2" lengthAdjust="spacingAndGlyphs">NFAT1</text>
<text x="290.50" y="264.74" font-size="8.4" fill="#231f20" textLength="22.5" lengthAdjust="spacingAndGlyphs">AF647</text>
<line x1="317.30" y1="261.80" x2="338.00" y2="261.80" stroke="#231f20" stroke-width="0.9"/>
<path d="M342,261.8 L336.5,259.8 L336.5,263.8Z" fill="#231f20" stroke="none" stroke-width="0.8"/>
<text x="359.12" y="159.92" font-size="11.8" font-weight="bold" fill="#000">E</text>
<path d="M412.9 210.2h0M404.2 224.1h0M423.9 235.0h0M401.4 232.3h0M405.6 228.4h0M422.6 237.9h0M405.7 224.6h0M416.9 217.5h0M412.9 228.4h0M392.6 215.0h0M438.8 226.8h0M405.3 202.2h0M400.7 227.6h0M419.8 226.8h0M418.8 215.5h0M430.5 209.8h0M417.8 219.1h0M391.9 231.7h0M408.6 229.6h0M426.7 223.7h0M404.1 219.7h0M411.0 237.5h0M421.8 239.1h0M420.7 213.7h0M422.7 232.4h0M410.4 227.0h0M408.1 208.4h0M410.8 230.2h0M407.6 197.8h0M402.5 233.7h0M414.5 234.1h0M403.0 217.5h0M400.1 213.6h0M417.8 223.5h0M406.2 225.2h0M396.6 217.8h0M394.4 205.8h0M396.0 210.1h0M430.2 236.8h0M426.5 215.7h0M419.1 209.7h0M405.5 224.6h0M393.2 224.1h0M419.0 199.6h0M383.3 219.0h0M410.4 223.5h0M398.6 228.1h0M413.3 214.1h0M431.0 224.8h0M420.5 242.0h0M406.1 219.6h0M391.5 219.5h0M416.9 249.1h0M418.4 224.2h0M397.1 212.8h0M390.2 207.1h0M413.1 225.2h0M401.1 219.6h0M402.4 228.7h0M419.3 215.9h0M406.5 208.7h0M406.4 245.7h0M411.6 231.3h0M418.6 238.0h0M408.0 212.2h0M423.9 232.0h0M404.1 233.9h0M411.6 221.5h0M433.3 227.8h0M415.5 218.5h0M414.1 233.4h0M417.1 213.8h0M417.0 220.7h0M415.4 219.9h0M386.3 204.5h0M407.3 198.0h0M394.2 244.0h0M419.9 217.0h0M415.6 197.6h0M414.7 232.7h0M414.0 207.8h0M423.1 216.2h0M405.1 224.1h0M408.3 244.2h0M410.2 245.4h0M417.1 208.5h0M411.8 222.6h0M428.6 235.9h0M441.7 214.8h0M406.7 247.4h0M401.3 225.9h0M430.7 211.0h0M407.7 213.9h0M418.0 226.4h0M411.3 229.2h0M402.6 217.9h0M417.3 244.0h0M411.4 222.6h0M427.2 222.8h0M427.1 224.6h0M425.3 224.0h0M401.0 212.7h0M416.8 242.5h0M433.7 218.5h0M441.1 209.8h0M401.9 232.2h0M393.9 232.0h0M416.2 228.9h0M397.7 226.2h0M422.8 221.4h0M423.9 222.3h0M415.9 218.5h0M395.9 220.3h0M417.7 213.7h0M388.9 205.0h0M427.2 219.5h0M402.8 235.5h0M409.8 205.5h0M406.6 212.3h0M409.6 212.0h0M412.6 227.0h0M405.1 219.8h0M410.0 231.1h0M403.4 230.2h0M426.5 219.9h0M400.4 218.6h0M391.0 216.1h0M397.8 220.1h0M407.4 227.7h0M413.2 226.6h0M411.3 225.1h0M398.5 229.3h0M427.1 234.2h0M396.0 226.6h0M392.7 230.3h0M409.4 217.0h0M403.0 219.4h0M411.8 211.4h0M412.5 224.8h0M418.0 221.5h0M411.8 247.4h0M423.7 225.6h0M395.5 228.8h0M418.6 192.8h0M409.9 226.2h0M412.3 223.1h0M410.0 237.2h0M416.3 218.9h0M409.1 244.9h0M401.7 216.2h0M415.7 223.6h0M415.4 236.9h0M425.3 226.6h0M412.3 221.3h0M409.1 233.0h0M396.9 210.6h0M406.4 211.4h0M403.2 235.1h0M385.3 228.3h0M396.3 219.3h0M405.1 211.1h0M394.3 222.8h0M376.8 198.7h0M407.2 234.1h0M433.7 218.8h0M402.4 218.9h0M417.4 232.3h0M400.6 227.2h0M411.5 234.6h0M407.0 219.7h0M401.8 207.5h0M415.1 229.8h0M425.2 225.0h0M406.4 211.9h0M398.1 214.1h0M415.8 223.0h0M384.7 220.9h0M408.4 210.5h0M411.6 227.8h0M399.6 207.1h0M408.0 224.9h0M408.8 239.0h0M413.6 211.0h0M421.1 214.9h0M420.0 223.1h0M426.5 211.0h0M420.4 226.7h0M401.1 229.7h0M438.8 225.9h0M402.8 220.3h0M427.3 224.8h0M429.4 214.8h0M427.4 204.7h0M409.9 218.8h0M406.1 235.5h0M404.7 225.9h0M433.9 231.1h0M407.0 214.0h0M388.1 226.2h0M422.4 234.2h0M414.8 245.7h0M421.1 196.6h0M401.4 230.8h0M407.2 231.2h0M442.4 213.6h0M438.2 221.1h0M394.4 223.1h0M422.7 215.6h0M430.7 212.4h0M409.6 232.1h0M409.4 215.9h0M411.7 229.2h0M432.5 236.9h0M434.2 221.7h0M392.1 221.6h0M407.0 211.0h0M405.8 221.3h0M412.6 232.1h0M401.0 234.6h0M412.5 230.1h0M426.8 208.4h0M431.0 214.1h0M416.7 234.0h0M422.9 204.8h0M413.9 234.5h0M410.5 221.1h0M412.8 240.1h0M405.5 211.6h0M398.7 216.2h0M409.1 225.8h0M411.0 203.1h0M393.1 229.5h0M420.6 207.1h0M423.2 195.2h0M439.7 228.5h0M392.1 227.6h0M411.6 217.0h0M407.6 219.5h0M410.8 212.1h0M405.2 228.2h0M418.3 207.4h0M406.1 239.2h0M420.5 240.2h0M395.8 210.6h0M386.0 200.6h0M407.5 210.4h0M398.9 214.3h0M409.7 231.2h0M418.7 202.6h0M429.8 218.4h0M400.0 221.7h0M407.2 206.7h0M430.7 215.6h0M404.8 227.9h0M432.1 227.3h0M401.2 226.8h0M425.3 226.2h0M419.8 216.7h0M411.2 203.5h0M403.4 209.5h0M412.1 238.5h0M385.0 207.5h0M400.8 221.0h0M426.0 213.4h0M402.6 235.4h0M416.5 227.8h0M422.0 213.8h0M414.7 214.8h0M403.3 223.5h0M417.2 208.0h0M402.7 228.7h0M414.0 229.3h0M408.2 213.1h0M421.4 228.6h0M377.8 231.6h0M402.8 229.4h0M430.9 218.9h0M400.3 224.8h0M413.1 228.3h0M395.1 224.7h0M422.7 229.7h0M419.6 235.2h0M402.1 235.5h0M414.5 211.0h0M408.4 225.0h0M416.0 236.9h0M414.3 216.4h0M438.3 218.4h0M402.1 232.2h0M407.0 213.3h0M399.2 235.1h0M399.2 223.1h0M406.5 219.9h0M402.1 223.7h0M419.3 233.6h0M407.7 209.2h0M394.1 222.1h0M382.1 236.7h0M412.3 223.4h0M395.2 214.9h0M403.0 229.5h0M407.1 228.9h0M418.2 200.8h0M409.2 235.9h0M405.8 223.5h0M410.5 208.5h0M438.3 220.6h0M419.7 217.1h0M428.9 234.8h0M426.2 232.6h0M420.5 237.3h0M416.8 223.6h0M421.7 212.2h0M381.4 231.0h0M413.8 214.3h0M408.8 211.6h0M401.9 224.1h0M413.5 231.2h0M410.9 229.0h0M420.2 214.4h0M391.7 214.5h0M408.9 216.2h0M438.6 214.6h0M417.7 213.7h0M420.3 208.2h0M423.5 224.1h0M407.2 208.9h0M432.1 215.7h0M429.4 195.6h0M397.5 242.0h0M433.5 222.3h0M424.0 228.8h0M407.7 223.5h0M398.2 207.4h0M413.5 230.1h0M413.9 208.6h0M422.2 223.1h0M421.0 218.9h0M408.8 233.7h0M428.5 208.9h0M398.7 232.8h0M416.3 222.7h0M400.2 233.2h0M414.3 224.5h0M416.7 216.4h0M416.8 223.6h0M420.7 226.3h0M396.6 214.4h0M408.8 234.9h0M404.2 234.6h0M425.0 231.7h0M439.2 222.0h0M415.9 235.5h0M416.9 233.1h0M410.4 237.7h0M416.2 201.1h0M425.1 220.0h0M401.4 218.9h0M408.6 234.7h0M416.0 221.4h0M411.8 212.3h0M404.3 217.0h0M409.3 209.4h0M407.2 233.1h0M417.5 222.1h0M416.2 219.5h0M397.7 231.8h0M439.0 227.7h0M420.3 249.1h0M397.4 227.9h0M407.9 219.1h0M392.1 221.3h0M416.8 204.6h0M409.3 216.8h0M400.0 229.1h0M431.8 226.7h0M424.4 230.5h0M411.2 228.5h0M428.0 217.5h0M410.2 207.1h0M389.6 213.2h0M422.8 226.2h0M415.1 236.5h0M390.7 237.3h0M413.0 230.7h0M428.6 213.3h0M401.5 226.6h0M411.3 215.8h0M410.5 214.2h0M413.6 218.0h0M432.5 210.8h0M419.0 223.0h0M431.1 211.6h0M406.4 241.1h0M404.1 218.0h0M407.3 211.5h0M426.7 238.7h0M410.2 213.9h0M395.7 229.4h0M405.6 228.1h0M383.0 217.5h0M419.6 226.7h0M377.5 225.4h0M413.6 221.9h0M407.9 217.3h0M413.7 227.7h0M373.9 222.0h0M423.2 219.8h0M426.7 212.0h0M435.0 232.6h0M407.1 252.2h0M429.4 239.4h0M397.6 220.9h0M417.7 233.6h0M412.9 208.0h0M426.7 220.3h0M417.3 218.7h0M410.6 207.2h0M420.0 215.3h0M390.6 226.6h0M411.6 232.6h0M421.9 208.9h0M409.9 222.1h0M413.1 210.7h0M412.9 232.8h0M427.0 238.0h0M421.1 194.7h0M408.7 216.2h0M377.1 238.9h0M423.0 222.1h0M416.3 227.4h0M409.4 237.1h0M434.0 231.1h0M405.3 224.9h0M423.8 230.0h0M403.7 232.5h0M420.8 228.5h0M407.0 221.8h0M389.0 221.8h0M406.7 218.9h0M408.6 218.6h0M413.0 223.2h0M404.6 220.7h0M410.9 227.5h0M417.3 218.2h0M402.1 204.3h0M396.9 226.6h0M400.9 239.6h0M410.1 217.9h0M410.1 216.2h0M404.4 222.8h0M394.6 223.6h0M410.9 212.3h0M424.4 226.1h0M425.1 214.9h0M397.0 209.2h0M393.1 201.5h0M430.9 216.9h0M414.3 216.3h0M410.3 239.3h0M391.1 211.4h0M413.6 212.2h0M420.3 236.2h0M422.8 230.3h0M410.0 233.0h0M402.4 209.2h0M408.9 219.4h0M426.7 211.4h0M425.8 213.6h0M396.8 203.7h0M411.6 206.4h0M414.6 222.6h0M407.2 201.1h0M405.8 226.9h0M390.5 229.6h0M412.2 216.2h0M414.5 229.2h0M411.7 213.6h0M421.5 214.7h0M416.4 232.7h0M427.7 239.4h0M424.3 223.7h0M409.6 224.1h0M418.3 254.6h0M419.9 213.1h0M430.3 204.8h0M424.1 208.2h0M398.9 216.6h0M408.6 207.4h0M419.5 220.8h0M428.2 211.0h0M390.2 229.5h0M409.3 232.7h0M383.9 208.5h0M413.1 243.3h0M397.2 201.3h0M406.5 237.4h0M431.0 207.3h0M404.7 202.1h0M401.9 211.6h0M417.1 234.4h0M440.7 218.2h0M421.9 224.4h0M413.5 243.1h0M420.5 239.1h0M415.6 231.5h0M418.1 221.0h0M403.6 217.7h0M412.2 217.9h0M407.9 214.4h0M422.3 219.4h0M410.6 219.7h0M427.8 216.2h0M429.0 212.7h0M430.4 228.7h0M406.1 227.0h0M425.7 211.7h0M409.3 225.5h0M409.5 218.9h0M412.3 225.5h0" stroke="#8c8c8c" stroke-width="0.64" stroke-linecap="round" fill="none"/>
<path d="M394.1 243.6h0M389.7 260.9h0M389.7 247.1h0M390.5 208.8h0M389.3 222.0h0M395.3 202.1h0M388.5 224.5h0M393.6 230.7h0M394.4 224.2h0M390.1 240.4h0M397.9 230.6h0M391.6 215.9h0M399.4 230.8h0M393.5 207.0h0M393.4 254.9h0M390.4 223.6h0M397.2 223.8h0M394.4 249.1h0M386.3 216.2h0M393.7 227.4h0M391.2 224.1h0M391.5 230.3h0M389.1 222.8h0M391.9 213.2h0M392.8 200.0h0M393.6 224.6h0M386.3 242.1h0M386.3 250.6h0M388.1 240.4h0M390.8 245.2h0M390.1 238.3h0M389.7 203.8h0M392.6 231.7h0M392.6 245.9h0M388.1 209.1h0M392.0 217.8h0M390.6 226.0h0M387.8 239.0h0M390.5 247.3h0M392.0 238.6h0M389.9 218.2h0M388.9 215.6h0M392.8 227.7h0M386.7 207.8h0M387.6 204.4h0M387.5 208.0h0M393.8 212.3h0M388.7 224.6h0M391.1 231.1h0M394.1 233.7h0M389.6 240.9h0M392.5 217.6h0M397.0 212.0h0M392.9 241.0h0M391.5 230.2h0M391.5 234.0h0M391.9 226.1h0M393.8 203.5h0M392.0 222.5h0M398.8 229.5h0M388.4 233.8h0M389.5 211.9h0M389.9 232.0h0M395.7 238.5h0M391.9 224.1h0M391.8 240.4h0M390.5 239.8h0M387.9 225.9h0M394.1 234.4h0M391.8 219.9h0M383.9 220.8h0M387.7 221.3h0M397.3 216.9h0M394.4 225.8h0M386.6 227.3h0M394.0 211.9h0M386.4 221.5h0M393.9 218.9h0M392.7 231.5h0M391.1 231.4h0M396.0 223.8h0M392.3 213.4h0M388.2 224.9h0M394.2 218.1h0M385.5 237.0h0M400.4 195.5h0M386.8 227.5h0M392.9 214.8h0M392.3 239.1h0M389.9 234.7h0M391.5 215.0h0M388.6 218.8h0M396.3 239.8h0M392.0 207.5h0M389.1 221.3h0M383.4 225.8h0M392.1 210.3h0M389.3 220.6h0M398.3 233.9h0M394.0 227.1h0M386.0 237.0h0M388.4 203.2h0M393.9 221.9h0M391.0 232.1h0M390.1 230.9h0M396.1 222.2h0M389.6 226.2h0M393.6 221.3h0M391.3 217.9h0M390.7 232.5h0M387.8 223.9h0M385.3 217.7h0M391.3 232.3h0M387.0 224.8h0M387.4 229.8h0M392.0 231.3h0M390.2 209.2h0M388.8 210.2h0M388.4 225.3h0M395.2 218.4h0M388.0 228.4h0M382.9 249.6h0M385.0 238.0h0M394.8 237.4h0M390.6 234.7h0M389.7 237.4h0M388.5 216.4h0M392.5 220.7h0M393.6 215.9h0M392.1 214.4h0M390.6 251.4h0M386.8 211.5h0M384.8 223.3h0M397.3 220.7h0M394.6 223.8h0M388.5 249.8h0M395.2 204.3h0M387.2 230.9h0M393.5 223.4h0M392.2 232.4h0M389.6 237.8h0M387.7 234.9h0M394.6 228.4h0M389.7 225.8h0M382.4 229.0h0M385.5 202.2h0M394.0 215.2h0M392.4 226.6h0M384.2 215.4h0M390.0 231.6h0M391.3 211.1h0M389.0 227.3h0M386.1 220.8h0M388.9 200.9h0M397.7 236.4h0M389.2 237.2h0M387.0 244.1h0M389.6 227.7h0M388.8 227.1h0M392.3 226.4h0" stroke="#8c8c8c" stroke-width="0.64" stroke-linecap="round" fill="none"/>
<path d="M388,208 Q392,207 397,213 L400,214 Q412,206 425,207.5 Q433,209 432,222 Q432,240 420,243 Q404,245 397,238 L394,240 Q388,246 387,236 Z" fill="#f2f2f2" stroke="#6a6a6a" stroke-width="0.5"/>
<path d="M399.2,219.8 Q399.2,214.5 412.6,211.9 Q426.0,209.2 427.8,216.7 Q429.6,224.2 428.7,231.2 Q427.8,238.3 421.2,237.8 Q414.6,237.4 408.2,236.5 Q401.8,235.6 400.5,230.4 Q399.2,225.1 399.2,219.8Z" fill="#e2e2e2" stroke="#777" stroke-width="0.45"/>
<path d="M401.3,220.4 Q401.3,215.8 412.9,213.6 Q424.5,211.3 426.0,217.7 Q427.5,224.2 426.8,230.3 Q426.0,236.4 420.3,236.0 Q414.6,235.6 409.1,234.8 Q403.6,234.1 402.4,229.5 Q401.3,225.0 401.3,220.4Z" fill="#d2d2d2" stroke="#666" stroke-width="0.45"/>
<path d="M403.4,221.0 Q403.4,217.2 413.2,215.2 Q422.9,213.3 424.2,218.8 Q425.5,224.2 424.8,229.3 Q424.2,234.4 419.4,234.1 Q414.6,233.8 410.0,233.2 Q405.3,232.5 404.4,228.7 Q403.4,224.8 403.4,221.0Z" fill="#ababab" stroke="#555" stroke-width="0.45"/>
<path d="M405.3,221.5 Q405.3,218.4 413.4,216.8 Q421.5,215.2 422.6,219.7 Q423.6,224.2 423.1,228.4 Q422.6,232.7 418.6,232.4 Q414.6,232.1 410.8,231.6 Q406.9,231.1 406.1,227.9 Q405.3,224.7 405.3,221.5Z" fill="#969696" stroke="#555" stroke-width="0.45"/>
<path d="M407.2,222.1 Q407.2,219.6 413.7,218.3 Q420.1,217.1 420.9,220.6 Q421.7,224.2 421.3,227.6 Q420.9,230.9 417.8,230.7 Q414.6,230.5 411.6,230.1 Q408.5,229.7 407.9,227.1 Q407.2,224.6 407.2,222.1Z" fill="#a4a4a4" stroke="#666" stroke-width="0.45"/>
<path d="M409.4,222.7 Q409.4,220.9 413.9,220.0 Q418.5,219.1 419.1,221.6 Q419.7,224.2 419.4,226.6 Q419.1,229.0 416.9,228.8 Q414.6,228.7 412.4,228.4 Q410.2,228.1 409.8,226.3 Q409.4,224.5 409.4,222.7Z" fill="#c0c0c0" stroke="#888" stroke-width="0.45"/>
<path d="M411.5,223.3 Q411.5,222.2 414.2,221.7 Q416.9,221.1 417.3,222.7 Q417.7,224.2 417.5,225.6 Q417.3,227.1 416.0,227.0 Q414.6,226.9 413.3,226.7 Q412.0,226.5 411.7,225.5 Q411.5,224.4 411.5,223.3Z" fill="#d8d8d8" stroke="#999" stroke-width="0.45"/>
<circle cx="415.1" cy="223.2" r="1.2" fill="#fff"/>
<rect x="387.4" y="210.4" width="7.6" height="32.5" rx="3.8" fill="#d4d4d4" stroke="#666" stroke-width="0.5"/>
<path d="M389.2,214 Q388.6,226 389.2,240 M393.3,214 Q393.9,226 393.3,240" stroke="#2a2a2a" stroke-width="1.3" fill="none"/>
<path d="M391.2,216 L391.2,238" stroke="#8a8a8a" stroke-width="0.9" fill="none"/>
<rect x="374.4" y="182" width="70.6" height="69.5" fill="none" stroke="#231f20" stroke-width="1.1"/>
<path d="M413.5,185.5 L437.7,185.5 L437.7,202.7 L424.6,207 L413.5,200.4Z" fill="#fff" stroke="#231f20" stroke-width="1.0"/>
<text x="389.20" y="197.33" font-size="7.8" fill="#231f20">2.56%</text>
<text x="409.70" y="179.63" font-size="9.8" text-anchor="middle" fill="#231f20">HC</text>
<line x1="372.80" y1="185.00" x2="374.40" y2="185.00" stroke="#231f20" stroke-width="0.5"/>
<line x1="372.80" y1="190.60" x2="374.40" y2="190.60" stroke="#231f20" stroke-width="0.5"/>
<line x1="372.80" y1="196.20" x2="374.40" y2="196.20" stroke="#231f20" stroke-width="0.5"/>
<line x1="372.80" y1="201.80" x2="374.40" y2="201.80" stroke="#231f20" stroke-width="0.5"/>
<line x1="372.80" y1="207.40" x2="374.40" y2="207.40" stroke="#231f20" stroke-width="0.5"/>
<line x1="372.80" y1="213.00" x2="374.40" y2="213.00" stroke="#231f20" stroke-width="0.5"/>
<line x1="372.80" y1="218.60" x2="374.40" y2="218.60" stroke="#231f20" stroke-width="0.5"/>
<line x1="372.80" y1="224.20" x2="374.40" y2="224.20" stroke="#231f20" stroke-width="0.5"/>
<line x1="372.80" y1="229.80" x2="374.40" y2="229.80" stroke="#231f20" stroke-width="0.5"/>
<line x1="372.80" y1="235.40" x2="374.40" y2="235.40" stroke="#231f20" stroke-width="0.5"/>
<line x1="372.80" y1="241.00" x2="374.40" y2="241.00" stroke="#231f20" stroke-width="0.5"/>
<line x1="372.80" y1="246.60" x2="374.40" y2="246.60" stroke="#231f20" stroke-width="0.5"/>
<line x1="377.40" y1="251.50" x2="377.40" y2="253.10" stroke="#231f20" stroke-width="0.5"/>
<line x1="382.40" y1="251.50" x2="382.40" y2="253.10" stroke="#231f20" stroke-width="0.5"/>
<line x1="387.40" y1="251.50" x2="387.40" y2="253.10" stroke="#231f20" stroke-width="0.5"/>
<line x1="392.40" y1="251.50" x2="392.40" y2="253.10" stroke="#231f20" stroke-width="0.5"/>
<line x1="397.40" y1="251.50" x2="397.40" y2="253.10" stroke="#231f20" stroke-width="0.5"/>
<line x1="402.40" y1="251.50" x2="402.40" y2="253.10" stroke="#231f20" stroke-width="0.5"/>
<line x1="407.40" y1="251.50" x2="407.40" y2="253.10" stroke="#231f20" stroke-width="0.5"/>
<line x1="412.40" y1="251.50" x2="412.40" y2="253.10" stroke="#231f20" stroke-width="0.5"/>
<line x1="417.40" y1="251.50" x2="417.40" y2="253.10" stroke="#231f20" stroke-width="0.5"/>
<line x1="422.40" y1="251.50" x2="422.40" y2="253.10" stroke="#231f20" stroke-width="0.5"/>
<line x1="427.40" y1="251.50" x2="427.40" y2="253.10" stroke="#231f20" stroke-width="0.5"/>
<line x1="432.40" y1="251.50" x2="432.40" y2="253.10" stroke="#231f20" stroke-width="0.5"/>
<line x1="437.40" y1="251.50" x2="437.40" y2="253.10" stroke="#231f20" stroke-width="0.5"/>
<line x1="442.40" y1="251.50" x2="442.40" y2="253.10" stroke="#231f20" stroke-width="0.5"/>
<line x1="373.40" y1="243.00" x2="375.40" y2="243.00" stroke="#231f20" stroke-width="1.6"/>
<path d="M475.8 231.7h0M494.6 222.0h0M501.3 212.6h0M504.4 220.0h0M507.6 216.3h0M483.6 224.7h0M501.9 240.4h0M480.8 212.7h0M497.4 237.9h0M496.6 217.8h0M504.3 221.7h0M489.3 230.0h0M479.3 193.0h0M490.0 231.2h0M493.0 229.0h0M489.2 235.4h0M488.6 241.1h0M487.7 232.2h0M479.6 225.9h0M492.8 223.8h0M508.0 222.6h0M502.2 226.5h0M501.8 210.5h0M482.1 234.4h0M475.9 227.0h0M494.7 224.5h0M492.9 228.9h0M483.8 227.3h0M480.0 216.2h0M465.5 220.7h0M464.0 222.4h0M489.9 208.1h0M488.0 225.7h0M482.3 210.3h0M485.5 227.3h0M499.6 246.8h0M460.3 226.4h0M492.9 213.9h0M491.4 248.8h0M488.6 239.5h0M501.4 216.3h0M455.7 236.9h0M507.9 199.5h0M484.3 213.1h0M489.8 222.8h0M502.5 214.4h0M513.1 200.1h0M490.0 256.3h0M485.7 230.1h0M480.6 264.3h0M499.1 217.5h0M461.1 224.7h0M497.0 195.8h0M480.4 229.2h0M454.5 219.6h0M465.5 204.8h0M492.5 236.6h0M502.8 213.6h0M493.9 199.3h0M467.0 229.0h0M481.6 208.9h0M461.7 219.0h0M517.3 196.1h0M472.9 236.4h0M461.0 214.0h0M487.9 236.6h0M486.0 245.4h0M486.6 220.6h0M493.0 226.5h0M466.7 209.8h0M483.8 226.4h0M470.4 212.8h0M476.9 226.4h0M481.2 229.8h0M492.3 210.2h0M483.0 206.0h0M488.5 232.4h0M473.6 199.2h0M494.0 218.3h0M486.6 227.9h0M492.2 233.9h0M480.8 193.6h0M480.4 218.1h0M481.4 227.1h0M483.6 238.7h0M478.4 221.9h0M482.1 249.3h0M474.0 209.1h0M481.8 231.9h0M487.2 219.7h0M467.1 195.2h0M484.1 218.9h0M511.0 226.8h0M492.8 234.5h0M474.8 206.1h0M482.0 241.1h0M500.5 214.5h0M470.1 234.0h0M501.9 207.8h0M508.9 212.0h0M497.2 219.3h0M482.5 214.1h0M496.5 230.0h0M498.0 218.4h0M475.4 249.7h0M510.4 219.5h0M471.3 241.4h0M488.8 222.7h0M498.7 226.5h0M488.5 247.7h0M461.2 230.3h0M473.5 223.0h0M484.7 225.4h0M454.0 231.0h0M518.9 216.7h0M499.4 230.1h0M491.1 215.5h0M495.7 225.5h0M506.8 232.8h0M477.3 184.2h0M507.7 228.3h0M489.4 214.1h0M521.4 239.3h0M488.3 217.2h0M494.9 239.6h0M494.1 234.2h0M490.6 226.6h0M469.6 223.6h0M487.7 221.1h0M483.7 226.0h0M479.0 219.5h0M469.0 252.0h0M474.7 206.4h0M479.6 216.6h0M472.2 190.4h0M509.7 235.2h0M481.8 229.2h0M471.7 201.0h0M491.6 229.5h0M477.5 222.0h0M444.5 220.3h0M501.6 224.2h0M489.5 229.5h0M458.2 205.3h0M469.4 225.1h0M478.3 197.6h0M499.3 219.6h0M500.8 248.0h0M464.1 205.5h0M501.9 240.3h0M492.5 226.7h0M496.6 230.5h0M469.3 231.7h0M500.7 216.7h0M474.3 215.7h0M478.9 228.8h0M497.8 222.3h0M482.7 199.1h0M481.1 209.1h0M479.3 226.5h0M489.3 267.4h0M474.9 215.1h0M471.1 218.7h0M483.0 235.0h0M459.9 233.8h0M495.9 215.2h0M477.5 224.5h0M494.2 219.9h0M484.8 222.2h0M471.9 225.5h0M495.0 222.7h0M471.1 222.0h0M485.5 226.1h0M481.2 232.7h0M502.1 232.7h0M490.2 237.7h0M486.4 219.9h0M467.1 222.3h0M503.9 209.7h0M497.8 205.7h0M491.1 245.5h0M487.6 207.0h0M490.9 220.1h0M498.0 215.3h0M462.9 215.9h0M495.2 235.2h0M490.8 222.3h0M496.5 219.5h0M480.6 224.9h0M502.2 215.6h0M493.8 213.8h0M476.7 224.2h0M468.4 211.1h0M470.4 214.3h0M474.3 251.8h0M495.4 223.0h0M468.3 191.7h0M493.1 214.0h0M501.5 217.0h0M468.8 213.9h0M465.7 204.0h0M496.8 215.3h0M496.5 214.9h0M483.7 215.0h0M479.3 213.6h0M507.7 221.3h0M459.8 243.6h0M504.4 236.3h0M485.5 220.1h0M480.3 223.6h0M493.4 222.0h0M475.5 209.8h0M510.1 243.5h0M469.6 213.9h0M486.3 229.5h0M485.3 225.1h0M491.9 236.5h0M468.7 236.0h0M493.0 228.9h0M465.9 219.1h0M483.2 230.1h0M496.4 230.7h0M468.9 238.0h0M487.8 233.8h0M486.7 213.1h0M523.4 230.4h0M497.5 216.2h0M483.8 236.1h0M493.1 244.1h0M503.6 208.4h0M465.4 236.7h0M495.2 218.8h0M482.8 215.0h0M511.9 220.0h0M467.6 233.5h0M485.6 226.5h0M481.5 221.6h0M460.6 228.8h0M477.3 217.2h0M491.2 238.1h0M456.8 220.4h0M494.4 234.8h0M474.1 226.1h0M492.4 233.8h0M478.1 219.7h0M479.7 236.4h0M501.9 216.5h0M484.9 224.8h0M474.2 220.7h0M498.9 231.8h0M477.3 213.9h0M485.2 203.7h0M491.1 223.6h0M468.2 219.2h0M477.5 218.7h0M474.6 239.1h0M473.3 231.6h0M489.7 240.1h0M486.0 222.1h0M487.7 198.6h0M520.3 219.5h0M482.4 208.1h0M484.8 242.2h0M476.2 227.6h0M501.2 233.9h0M481.1 200.4h0M492.4 229.2h0M482.2 216.8h0M511.2 202.5h0M479.6 214.6h0M464.9 213.5h0M475.6 237.6h0M462.4 205.1h0M490.4 202.9h0M458.8 214.4h0M469.9 210.1h0M484.5 227.8h0M477.7 218.7h0M496.7 220.3h0M497.0 214.9h0M493.6 237.9h0M467.4 259.2h0M482.2 218.0h0M484.5 227.9h0M469.9 222.6h0M478.6 239.8h0M462.6 230.2h0M482.3 212.9h0M488.7 219.2h0M487.3 225.1h0M503.5 217.2h0M510.1 188.8h0M512.2 237.2h0M508.6 224.6h0M490.7 209.7h0M505.4 207.9h0M475.6 222.2h0M490.0 226.4h0M470.5 217.9h0M493.6 236.8h0M497.4 227.3h0M483.1 215.5h0M479.6 221.0h0M494.1 216.0h0M515.5 209.8h0M498.1 219.7h0M484.8 217.5h0M508.2 218.5h0M494.4 223.6h0M497.2 229.4h0M509.8 213.2h0M475.3 243.0h0M504.5 223.1h0M482.7 225.3h0M504.9 212.8h0M507.0 221.5h0M481.7 217.3h0M457.5 226.1h0M468.4 215.3h0M474.2 225.1h0M496.8 222.7h0M489.4 227.2h0M509.2 229.3h0M508.6 221.4h0M491.7 214.2h0M495.0 211.7h0M493.3 214.4h0M481.8 237.2h0M488.8 231.9h0M483.4 199.3h0M507.3 220.0h0M477.7 233.8h0M470.9 213.1h0M502.7 213.7h0M502.5 218.4h0M483.8 223.0h0M479.8 235.3h0M502.0 223.0h0M495.2 228.8h0M510.2 202.8h0M501.0 233.4h0M482.4 222.4h0M481.9 237.4h0M470.8 229.6h0M504.7 229.2h0M480.1 216.6h0M457.2 209.6h0M502.0 210.6h0M463.9 219.2h0M466.0 227.8h0M474.6 233.9h0M485.1 204.8h0M476.0 214.3h0M475.0 237.3h0M472.8 226.7h0M478.6 229.4h0M466.8 203.0h0M493.9 239.7h0M467.5 218.4h0M479.7 210.8h0M500.3 222.8h0M467.4 219.6h0M505.4 213.5h0M479.6 212.1h0M489.0 215.4h0M499.2 212.0h0M466.4 227.7h0M442.5 210.6h0M490.7 225.2h0M478.7 216.8h0M494.0 267.8h0M475.5 220.0h0M480.4 229.0h0M486.9 229.0h0M509.6 218.9h0M482.7 226.8h0M516.1 217.8h0M510.4 236.7h0M448.5 210.1h0M473.1 227.1h0M505.3 222.9h0M489.0 248.8h0M491.7 248.6h0M474.3 242.4h0M479.7 192.5h0M475.2 216.4h0M486.2 231.5h0M496.4 228.6h0M476.3 244.1h0M503.5 222.7h0M478.8 221.6h0M483.7 213.7h0M486.6 214.1h0M495.8 214.2h0M493.6 226.1h0M489.1 228.6h0M472.4 253.8h0M477.1 231.2h0M487.1 216.9h0M511.1 235.7h0M483.0 229.1h0M496.4 241.6h0M501.0 220.2h0M483.3 207.9h0M490.5 232.8h0M481.4 230.4h0M488.7 216.5h0M469.8 235.9h0M522.2 228.9h0M471.7 209.5h0M490.3 230.2h0M508.1 192.6h0M512.7 224.2h0M488.7 227.0h0M481.9 218.7h0M501.6 200.9h0M485.2 229.1h0M463.8 220.2h0M508.2 226.8h0M496.7 230.9h0M489.9 226.6h0M475.5 219.6h0M512.7 207.1h0M484.5 206.6h0M479.4 212.7h0M469.7 225.2h0M473.6 228.7h0M512.1 190.7h0M484.5 196.4h0M485.1 226.8h0M489.8 237.1h0M489.1 200.9h0M507.9 210.5h0M485.6 226.2h0M474.6 223.3h0M507.8 201.4h0M463.6 216.7h0M484.5 206.4h0M454.6 233.5h0M492.4 205.8h0M494.9 221.4h0M489.1 205.7h0M483.8 228.1h0M462.4 209.2h0M500.5 246.8h0M496.2 221.3h0M471.7 217.2h0M483.4 227.6h0M483.3 252.8h0M505.5 195.0h0M470.5 222.1h0M500.7 227.2h0M448.4 201.8h0M505.8 229.5h0M522.8 232.1h0M493.4 241.1h0M480.7 215.4h0M472.7 225.2h0M493.1 233.8h0M507.2 229.9h0M504.2 219.1h0M473.4 231.2h0M501.2 238.8h0M484.6 216.3h0M481.8 226.6h0M486.3 219.9h0M490.5 218.5h0M491.7 214.7h0M465.3 218.3h0M513.5 212.1h0M499.8 238.9h0M479.3 225.3h0M454.9 229.2h0M508.5 224.4h0M459.1 214.9h0M476.5 223.5h0M491.0 217.0h0M482.6 212.0h0M495.0 224.6h0M491.8 215.9h0M493.9 218.4h0M491.1 220.1h0M477.7 208.5h0M460.8 205.1h0M493.4 262.7h0M463.9 212.0h0M486.8 266.6h0M484.1 207.6h0M492.9 248.1h0M447.7 207.5h0M504.3 207.6h0M485.5 214.2h0M497.7 204.0h0M491.3 224.8h0M494.9 227.4h0M489.1 199.9h0M482.4 210.3h0M494.4 219.2h0M489.1 235.9h0M485.5 243.2h0M498.7 203.5h0M478.8 237.3h0M480.0 237.1h0M479.1 220.6h0M501.4 202.3h0M488.1 216.4h0M489.4 243.5h0M493.9 205.1h0M500.5 216.4h0M489.3 236.6h0M482.6 234.1h0M489.5 210.7h0M482.7 205.0h0M503.6 224.1h0M500.6 208.1h0M498.9 207.1h0M490.9 221.9h0M478.7 225.9h0M487.5 211.2h0M476.6 205.7h0M506.2 223.9h0M481.9 230.7h0M474.9 207.4h0M492.0 242.0h0M491.2 224.0h0M511.5 202.6h0M529.9 208.2h0M486.0 205.2h0M470.0 219.0h0M521.2 210.2h0M478.4 225.4h0M472.7 218.8h0M498.5 194.6h0M482.8 218.3h0M479.8 220.5h0M461.8 216.5h0M479.7 209.1h0M504.7 247.2h0M498.2 211.1h0M506.9 228.3h0M475.5 229.6h0M478.9 229.2h0M499.9 236.6h0M472.2 220.4h0M487.0 206.6h0M492.8 230.7h0M467.6 215.1h0M471.5 206.0h0M472.1 239.3h0M477.7 217.0h0M500.9 234.9h0M506.7 195.9h0M497.6 199.9h0M478.1 216.8h0M479.0 246.8h0M484.7 236.8h0M484.5 221.3h0M494.2 227.6h0M494.0 200.1h0M494.1 226.0h0M495.4 221.3h0M492.7 205.6h0M502.9 206.7h0M506.6 234.8h0M486.1 218.3h0M497.9 218.2h0M470.4 225.5h0M469.9 216.2h0M512.1 232.2h0M480.7 221.1h0M477.9 221.9h0M466.7 230.6h0M487.2 214.3h0M478.4 255.2h0M480.8 216.0h0M478.8 215.8h0M505.3 230.6h0M492.9 226.6h0M471.1 191.5h0M508.1 231.1h0M490.0 225.5h0M489.8 222.3h0M483.3 193.9h0M495.0 222.6h0M500.7 225.9h0M483.0 229.6h0M489.6 216.4h0M481.7 216.7h0M482.8 216.4h0M500.8 258.9h0M485.4 236.2h0M459.4 181.1h0M480.4 220.0h0M476.6 204.8h0M475.1 215.5h0M489.2 217.7h0M470.2 217.3h0M508.2 210.9h0M487.9 234.7h0M475.7 214.8h0M527.5 237.7h0M479.6 224.0h0M488.4 223.9h0M493.5 218.2h0M455.9 209.8h0M489.1 204.7h0M482.5 241.0h0M490.3 213.7h0M488.9 235.3h0M463.0 206.2h0M477.7 216.5h0M485.8 214.7h0M488.5 223.1h0M470.7 214.1h0M469.7 225.6h0M490.7 230.3h0M474.7 215.3h0M455.9 222.1h0M464.4 226.4h0M502.1 227.6h0" stroke="#8c8c8c" stroke-width="0.64" stroke-linecap="round" fill="none"/>
<path d="M476.6,209.1 Q482.6,198.3 493.1,200.3 Q503.6,202.3 506.0,208.4 Q508.3,214.4 507.2,224.7 Q506.1,234.9 499.1,237.9 Q492.1,240.9 479.1,238.8 Q466.2,236.7 468.4,228.2 Q470.5,219.8 476.6,209.1Z" fill="#ededed" stroke="#6a6a6a" stroke-width="0.5"/>
<path d="M477.5,210.0 Q483.2,200.0 492.9,201.8 Q502.7,203.7 504.9,209.3 Q507.1,215.0 506.1,224.5 Q505.0,234.0 498.5,236.8 Q492.0,239.6 480.0,237.6 Q467.9,235.7 469.9,227.8 Q471.9,220.0 477.5,210.0Z" fill="#f8f8f8" stroke="#666" stroke-width="0.45"/>
<path d="M478.5,210.9 Q483.7,201.7 492.8,203.4 Q501.8,205.1 503.8,210.3 Q505.9,215.5 504.9,224.3 Q504.0,233.1 497.9,235.7 Q491.9,238.3 480.8,236.5 Q469.6,234.7 471.5,227.4 Q473.3,220.2 478.5,210.9Z" fill="#d0d0d0" stroke="#666" stroke-width="0.4"/>
<path d="M480.0,212.2 Q484.6,204.1 492.5,205.6 Q500.5,207.1 502.3,211.7 Q504.1,216.3 503.3,224.1 Q502.4,231.9 497.1,234.2 Q491.8,236.4 481.9,234.8 Q472.1,233.2 473.7,226.8 Q475.4,220.4 480.0,212.2Z" fill="#b8b8b8" stroke="#707070" stroke-width="0.4"/>
<path d="M481.7,213.8 Q485.6,206.9 492.3,208.2 Q499.0,209.5 500.5,213.4 Q502.0,217.2 501.3,223.8 Q500.6,230.4 496.1,232.3 Q491.6,234.2 483.3,232.9 Q475.1,231.5 476.4,226.1 Q477.8,220.7 481.7,213.8Z" fill="#aaaaaa" stroke="#808080" stroke-width="0.4"/>
<path d="M483.7,215.7 Q486.7,210.3 491.9,211.3 Q497.2,212.3 498.4,215.3 Q499.6,218.4 499.0,223.5 Q498.4,228.6 494.9,230.1 Q491.4,231.6 485.0,230.6 Q478.5,229.5 479.6,225.3 Q480.7,221.1 483.7,215.7Z" fill="#a4a4a4" stroke="#888" stroke-width="0.4"/>
<path d="M485.7,217.5 Q487.8,213.7 491.6,214.4 Q495.4,215.1 496.3,217.3 Q497.1,219.5 496.7,223.1 Q496.3,226.8 493.8,227.9 Q491.3,229.0 486.6,228.2 Q481.9,227.5 482.7,224.4 Q483.5,221.4 485.7,217.5Z" fill="#b0b0b0" stroke="#909090" stroke-width="0.4"/>
<path d="M487.7,219.4 Q489.0,217.0 491.3,217.5 Q493.6,217.9 494.1,219.2 Q494.7,220.6 494.4,222.8 Q494.2,225.1 492.6,225.7 Q491.1,226.4 488.2,225.9 Q485.4,225.5 485.9,223.6 Q486.3,221.8 487.7,219.4Z" fill="#c8c8c8" stroke="#999" stroke-width="0.4"/>
<circle cx="490.8" cy="222.3" r="1.8" fill="#fff"/>
<rect x="449.3" y="182" width="70.6" height="69.5" fill="none" stroke="#231f20" stroke-width="1.1"/>
<path d="M488,185.4 L512.5,185.4 L512.5,203.1 L499.5,207 L488,201Z" fill="#fff" stroke="#231f20" stroke-width="1.0"/>
<path d="M490,199.5 Q493,196 499,195.5 Q505,195.5 508,199 L508,201.5 L499.5,205.5 L490,201.5Z" fill="#aaa" stroke="#777" stroke-width="0.4"/>
<ellipse cx="499" cy="200" rx="2.6" ry="1.6" fill="#eee" stroke="#555" stroke-width="0.4"/>
<text x="464.50" y="197.33" font-size="7.8" fill="#231f20">6.77%</text>
<text x="484.60" y="179.63" font-size="9.8" text-anchor="middle" fill="#231f20">II-1</text>
<line x1="447.70" y1="185.00" x2="449.30" y2="185.00" stroke="#231f20" stroke-width="0.5"/>
<line x1="447.70" y1="190.60" x2="449.30" y2="190.60" stroke="#231f20" stroke-width="0.5"/>
<line x1="447.70" y1="196.20" x2="449.30" y2="196.20" stroke="#231f20" stroke-width="0.5"/>
<line x1="447.70" y1="201.80" x2="449.30" y2="201.80" stroke="#231f20" stroke-width="0.5"/>
<line x1="447.70" y1="207.40" x2="449.30" y2="207.40" stroke="#231f20" stroke-width="0.5"/>
<line x1="447.70" y1="213.00" x2="449.30" y2="213.00" stroke="#231f20" stroke-width="0.5"/>
<line x1="447.70" y1="218.60" x2="449.30" y2="218.60" stroke="#231f20" stroke-width="0.5"/>
<line x1="447.70" y1="224.20" x2="449.30" y2="224.20" stroke="#231f20" stroke-width="0.5"/>
<line x1="447.70" y1="229.80" x2="449.30" y2="229.80" stroke="#231f20" stroke-width="0.5"/>
<line x1="447.70" y1="235.40" x2="449.30" y2="235.40" stroke="#231f20" stroke-width="0.5"/>
<line x1="447.70" y1="241.00" x2="449.30" y2="241.00" stroke="#231f20" stroke-width="0.5"/>
<line x1="447.70" y1="246.60" x2="449.30" y2="246.60" stroke="#231f20" stroke-width="0.5"/>
<line x1="452.30" y1="251.50" x2="452.30" y2="253.10" stroke="#231f20" stroke-width="0.5"/>
<line x1="457.30" y1="251.50" x2="457.30" y2="253.10" stroke="#231f20" stroke-width="0.5"/>
<line x1="462.30" y1="251.50" x2="462.30" y2="253.10" stroke="#231f20" stroke-width="0.5"/>
<line x1="467.30" y1="251.50" x2="467.30" y2="253.10" stroke="#231f20" stroke-width="0.5"/>
<line x1="472.30" y1="251.50" x2="472.30" y2="253.10" stroke="#231f20" stroke-width="0.5"/>
<line x1="477.30" y1="251.50" x2="477.30" y2="253.10" stroke="#231f20" stroke-width="0.5"/>
<line x1="482.30" y1="251.50" x2="482.30" y2="253.10" stroke="#231f20" stroke-width="0.5"/>
<line x1="487.30" y1="251.50" x2="487.30" y2="253.10" stroke="#231f20" stroke-width="0.5"/>
<line x1="492.30" y1="251.50" x2="492.30" y2="253.10" stroke="#231f20" stroke-width="0.5"/>
<line x1="497.30" y1="251.50" x2="497.30" y2="253.10" stroke="#231f20" stroke-width="0.5"/>
<line x1="502.30" y1="251.50" x2="502.30" y2="253.10" stroke="#231f20" stroke-width="0.5"/>
<line x1="507.30" y1="251.50" x2="507.30" y2="253.10" stroke="#231f20" stroke-width="0.5"/>
<line x1="512.30" y1="251.50" x2="512.30" y2="253.10" stroke="#231f20" stroke-width="0.5"/>
<line x1="517.30" y1="251.50" x2="517.30" y2="253.10" stroke="#231f20" stroke-width="0.5"/>
<line x1="448.30" y1="243.00" x2="450.30" y2="243.00" stroke="#231f20" stroke-width="1.6"/>
<text x="374.30" y="264.27" font-size="8.2" fill="#231f20" textLength="40.4" lengthAdjust="spacingAndGlyphs">IgM BB515</text>
<line x1="417.50" y1="261.70" x2="514.00" y2="261.70" stroke="#231f20" stroke-width="0.9"/>
<path d="M518,261.7 L512.5,259.7 L512.5,263.7Z" fill="#231f20" stroke="none" stroke-width="0.8"/>
<text x="370.50" y="228.80" font-size="8.6" text-anchor="middle" fill="#231f20" transform="rotate(-90 370.50 228.80)" textLength="46.7" lengthAdjust="spacingAndGlyphs">CD38 BV786</text>
<line x1="366.20" y1="203.80" x2="366.20" y2="189.00" stroke="#231f20" stroke-width="0.9"/>
<path d="M366.2,185 L364.2,190.5 L368.2,190.5Z" fill="#231f20" stroke="none" stroke-width="0.8"/>
<text x="244.12" y="304.12" font-size="11.8" font-weight="bold" fill="#000">F</text>
<line x1="273.30" y1="308.00" x2="273.30" y2="405.00" stroke="#231f20" stroke-width="1.2"/>
<line x1="272.70" y1="404.40" x2="328.80" y2="404.40" stroke="#231f20" stroke-width="1.2"/>
<line x1="270.30" y1="311.30" x2="273.30" y2="311.30" stroke="#231f20" stroke-width="1.0"/>
<text x="267.90" y="314.06" font-size="7.9" text-anchor="end" fill="#231f20">15</text>
<line x1="270.30" y1="342.10" x2="273.30" y2="342.10" stroke="#231f20" stroke-width="1.0"/>
<text x="267.90" y="344.87" font-size="7.9" text-anchor="end" fill="#231f20">10</text>
<line x1="270.30" y1="373.10" x2="273.30" y2="373.10" stroke="#231f20" stroke-width="1.0"/>
<text x="267.90" y="375.87" font-size="7.9" text-anchor="end" fill="#231f20">5</text>
<line x1="270.30" y1="404.20" x2="273.30" y2="404.20" stroke="#231f20" stroke-width="1.0"/>
<text x="267.90" y="406.96" font-size="7.9" text-anchor="end" fill="#231f20">0</text>
<line x1="285.00" y1="404.40" x2="285.00" y2="407.20" stroke="#231f20" stroke-width="1.0"/>
<line x1="303.00" y1="404.40" x2="303.00" y2="407.20" stroke="#231f20" stroke-width="1.0"/>
<line x1="322.70" y1="404.40" x2="322.70" y2="407.20" stroke="#231f20" stroke-width="1.0"/>
<text x="285.00" y="415.90" font-size="8.3" text-anchor="middle" fill="#231f20">HC</text>
<text x="303.50" y="415.90" font-size="8.3" text-anchor="middle" fill="#231f20">Het.</text>
<text x="322.70" y="415.90" font-size="8.3" text-anchor="middle" fill="#231f20">II-1</text>
<line x1="285.00" y1="329.30" x2="323.10" y2="329.30" stroke="#231f20" stroke-width="1.0"/>
<text x="305.20" y="331.20" font-size="10" text-anchor="middle" font-weight="bold" fill="#231f20">**</text>
<line x1="304.00" y1="320.80" x2="323.10" y2="320.80" stroke="#231f20" stroke-width="1.0"/>
<text x="313.50" y="322.70" font-size="10" text-anchor="middle" font-weight="bold" fill="#231f20">*</text>
<circle cx="285.20" cy="388.50" r="1.4" fill="#3aa84a"/>
<circle cx="280.60" cy="393.00" r="1.4" fill="#3aa84a"/>
<circle cx="282.50" cy="392.50" r="1.4" fill="#3aa84a"/>
<circle cx="287.50" cy="392.50" r="1.4" fill="#3aa84a"/>
<circle cx="290.60" cy="392.50" r="1.4" fill="#3aa84a"/>
<circle cx="280.60" cy="395.60" r="1.4" fill="#3aa84a"/>
<circle cx="284.40" cy="395.60" r="1.4" fill="#3aa84a"/>
<circle cx="288.80" cy="395.60" r="1.4" fill="#3aa84a"/>
<circle cx="290.60" cy="395.60" r="1.4" fill="#3aa84a"/>
<circle cx="285.20" cy="399.40" r="1.4" fill="#3aa84a"/>
<circle cx="285.20" cy="402.50" r="1.4" fill="#3aa84a"/>
<line x1="280.00" y1="394.70" x2="291.30" y2="394.70" stroke="#3aa84a" stroke-width="1.0"/>
<circle cx="306.30" cy="392.50" r="1.5" fill="#1f4e88"/>
<path d="M301.90,392.12 L303.51,394.92 L300.29,394.92Z" fill="#1f4e88" stroke="none" stroke-width="0.8"/>
<rect x="302.30" y="397.60" width="2.40" height="2.40" fill="#1f4e88"/>
<path d="M303.50,403.76 L305.00,401.16 L302.00,401.16Z" fill="#1f4e88" stroke="none" stroke-width="0.8"/>
<line x1="298.00" y1="396.30" x2="310.00" y2="396.30" stroke="#1f4e88" stroke-width="1.0"/>
<path d="M322.70,331.51 L324.59,333.40 L322.70,335.29 L320.81,333.40Z" fill="#c0102e" stroke="none" stroke-width="0.8"/>
<path d="M317.50,360.51 L319.39,362.40 L317.50,364.29 L315.61,362.40Z" fill="#c0102e" stroke="none" stroke-width="0.8"/>
<path d="M326.50,361.41 L328.39,363.30 L326.50,365.19 L324.61,363.30Z" fill="#c0102e" stroke="none" stroke-width="0.8"/>
<path d="M322.70,391.31 L324.59,393.20 L322.70,395.09 L320.81,393.20Z" fill="#c0102e" stroke="none" stroke-width="0.8"/>
<line x1="317.50" y1="362.60" x2="327.60" y2="362.60" stroke="#c0102e" stroke-width="1.0"/>
<text x="252.30" y="354.80" font-size="8.4" text-anchor="middle" fill="#231f20" transform="rotate(-90 252.30 354.80)" textLength="84.7" lengthAdjust="spacingAndGlyphs">% Transitional (in CD19<tspan font-size="5.5" dy="-3">+</tspan><tspan dy="3">)</tspan></text>
<text x="346.47" y="304.12" font-size="11.8" font-weight="bold" fill="#000">G</text>
<path d="M398.4 362.8h0M396.6 368.3h0M402.8 376.7h0M392.1 367.5h0M400.1 364.3h0M395.9 351.2h0M401.6 354.1h0M389.4 354.4h0M397.9 353.5h0M397.2 365.4h0M394.7 358.4h0M398.2 371.2h0M390.8 352.8h0M389.8 354.2h0M392.3 359.8h0M377.9 372.3h0M388.3 357.7h0M380.3 345.7h0M386.9 362.8h0M399.9 346.9h0M395.6 372.8h0M392.0 368.1h0M396.2 353.8h0M400.9 356.3h0M396.5 357.9h0M392.5 362.2h0M403.2 347.9h0M386.2 361.8h0M400.8 359.5h0M392.7 365.1h0M405.0 354.0h0M382.8 358.8h0M399.3 350.8h0M401.9 368.3h0M399.5 354.4h0M385.0 366.1h0M395.8 366.3h0M384.6 338.1h0M401.8 368.8h0M392.1 361.0h0M397.2 366.8h0M392.7 357.0h0M387.2 369.0h0M394.7 334.6h0M396.4 356.6h0M385.1 357.0h0M385.1 357.5h0M390.2 365.0h0M386.9 346.9h0M389.8 350.3h0M399.2 359.4h0M382.3 354.2h0M393.8 360.7h0M381.1 360.0h0M396.1 368.7h0M401.7 360.0h0M384.9 358.1h0M398.5 353.9h0M402.8 353.6h0M386.1 367.4h0M393.3 363.5h0M391.9 361.2h0M389.9 375.7h0M398.6 360.0h0M397.3 367.5h0M390.3 362.4h0M395.4 356.6h0M388.6 359.4h0M391.9 357.8h0M380.4 361.6h0M398.6 361.6h0M406.0 367.7h0M391.5 355.8h0M397.5 358.1h0M382.7 361.9h0M391.9 359.2h0M398.3 362.5h0M408.1 355.3h0M393.3 363.4h0M390.9 357.0h0M406.2 349.8h0M396.4 347.4h0M396.4 346.1h0M385.8 369.8h0M404.7 362.0h0M375.0 368.8h0M395.7 352.4h0M391.5 350.8h0M393.3 360.3h0M394.9 367.1h0M389.5 343.9h0M385.8 351.3h0M391.4 357.6h0M393.7 371.6h0M394.2 352.7h0M391.9 354.2h0M392.3 365.5h0M386.1 366.4h0M406.5 372.7h0M405.3 361.7h0M384.6 376.5h0M393.6 362.8h0M391.5 353.7h0M398.3 350.2h0M384.4 365.3h0M391.4 354.5h0M397.5 372.0h0M392.0 359.9h0M397.9 368.2h0M401.2 366.2h0M389.4 365.1h0M394.0 347.9h0M402.6 365.4h0M403.5 360.5h0M399.1 360.4h0M395.1 368.0h0M394.4 365.7h0M393.8 370.4h0M398.5 348.3h0M405.6 364.4h0M390.4 356.2h0M407.9 361.7h0M397.6 365.6h0M389.8 374.5h0M408.7 355.0h0M401.9 348.5h0M391.7 361.5h0M394.4 365.4h0M396.8 363.9h0M393.1 363.3h0M390.1 376.1h0M394.4 370.5h0M394.7 359.9h0M392.7 351.1h0M408.5 364.2h0M394.9 357.4h0M402.9 358.5h0M390.8 356.9h0M404.7 363.4h0M393.0 356.1h0M402.9 363.2h0M391.7 367.9h0M400.1 353.4h0M402.0 369.4h0M392.3 350.8h0M401.6 358.4h0M392.6 358.8h0M392.1 367.4h0M386.4 365.1h0M402.1 369.1h0M399.0 363.0h0M392.7 360.1h0M387.9 373.8h0M393.2 353.3h0M399.8 372.6h0M396.0 358.6h0M386.3 365.9h0M392.4 356.0h0M398.2 351.1h0M399.1 342.4h0M389.8 350.1h0M392.4 367.1h0M385.0 371.4h0M389.3 357.3h0M400.9 355.5h0M404.1 359.5h0M393.4 353.7h0M402.0 360.5h0M390.7 353.8h0M389.7 360.3h0M389.1 367.1h0M393.8 356.3h0M397.2 371.9h0M379.7 363.7h0M401.5 362.1h0M399.7 349.3h0M388.9 368.7h0M393.4 361.5h0M398.4 363.8h0M397.2 357.2h0M392.0 371.0h0M390.7 350.1h0M391.7 367.8h0M406.4 362.2h0M389.8 365.6h0M396.2 370.0h0M397.7 366.7h0M397.6 364.2h0M387.9 359.8h0M405.1 371.1h0M400.7 364.0h0M393.4 363.7h0M391.9 369.3h0M392.0 355.3h0M383.1 372.8h0M389.0 354.5h0M396.9 374.6h0M398.7 358.5h0M398.0 354.8h0M392.4 361.2h0M394.2 366.9h0M397.8 375.3h0M399.8 358.9h0M395.9 354.6h0M390.0 358.4h0M401.1 355.8h0M383.5 353.4h0M386.0 359.6h0M392.1 352.2h0M388.8 357.9h0M396.9 365.7h0M403.2 359.1h0M398.5 361.6h0M386.7 356.2h0M409.1 359.8h0M405.4 367.3h0M405.5 359.6h0M400.6 358.7h0M386.7 352.2h0M397.2 348.8h0M396.7 354.4h0M396.6 350.6h0M400.0 359.3h0M383.8 350.1h0M394.7 348.7h0M396.5 364.7h0M389.8 371.6h0M404.1 363.4h0M397.3 364.6h0M392.5 370.9h0M390.6 342.0h0M394.4 364.4h0M399.9 352.7h0M403.7 354.8h0M398.5 366.5h0M395.5 369.6h0M390.9 376.5h0M397.6 357.8h0M411.9 361.0h0M383.3 371.7h0M404.8 356.7h0M387.6 369.5h0M394.7 353.8h0M391.0 361.5h0M400.9 372.9h0M390.1 372.6h0M384.0 366.4h0M393.3 364.3h0M391.3 355.6h0M396.2 369.6h0M379.3 361.4h0M391.6 352.9h0M385.2 364.9h0M398.0 365.9h0M380.8 349.5h0M390.1 357.7h0M406.2 358.1h0M395.1 368.6h0M405.6 363.8h0M396.6 375.7h0M391.6 347.4h0M389.2 358.6h0M403.2 363.4h0M402.4 361.8h0M394.6 356.7h0M385.9 364.9h0M396.7 365.4h0M390.7 357.8h0M396.8 365.6h0M407.8 354.4h0M401.0 367.7h0M392.5 362.1h0M393.9 372.6h0M411.5 363.5h0M392.6 368.2h0M397.6 359.6h0M399.4 367.6h0M391.6 367.5h0M379.1 351.3h0M392.2 362.2h0M384.4 372.2h0M391.7 362.2h0M394.0 366.7h0M390.4 366.6h0M388.7 349.8h0M397.8 362.2h0M400.3 346.3h0M395.0 356.1h0M393.0 358.0h0M391.8 356.0h0M401.2 348.0h0M383.0 363.6h0M407.9 355.2h0M388.2 352.2h0M387.4 370.5h0M398.9 367.8h0M396.6 362.8h0M390.4 353.7h0M398.5 379.8h0M391.8 370.6h0M389.5 361.3h0M405.8 360.5h0M398.6 356.8h0M407.0 351.7h0M398.1 359.2h0M395.6 363.8h0M403.2 367.7h0M401.4 363.8h0M387.1 371.2h0M404.7 364.7h0M399.7 359.3h0M384.5 368.5h0M389.4 375.6h0M399.0 360.9h0M390.1 361.8h0M387.5 358.2h0M405.1 358.8h0M406.7 360.3h0M397.1 354.0h0M392.3 357.6h0M384.9 375.7h0M398.3 360.4h0M386.9 361.3h0M387.2 353.6h0M393.0 377.4h0M382.5 365.3h0M390.6 338.9h0M384.7 360.0h0M394.7 355.3h0M406.3 365.1h0M390.0 348.5h0M395.5 355.9h0M401.2 353.1h0M402.4 357.5h0M395.6 359.0h0M398.5 369.8h0M390.6 354.1h0M407.1 368.3h0M407.2 368.3h0M395.2 373.4h0M389.7 357.8h0M391.5 366.2h0M388.5 359.7h0M388.5 359.2h0M401.9 369.5h0M392.8 380.4h0M389.5 364.5h0M391.0 344.1h0M386.2 370.5h0M383.0 383.3h0M393.4 363.1h0M402.8 361.2h0M389.9 356.4h0M387.8 365.2h0M391.0 364.9h0M384.0 357.7h0M408.2 363.8h0M393.5 370.1h0M396.1 372.7h0M386.3 366.9h0M387.0 366.2h0M410.9 372.7h0M388.4 364.2h0M397.3 355.5h0M395.9 352.9h0M400.8 368.0h0M393.1 366.3h0M410.4 359.8h0M381.5 363.6h0M391.1 355.0h0M400.3 368.7h0M398.3 373.5h0M389.9 357.8h0M397.1 340.3h0M375.6 363.6h0M392.8 361.5h0M387.7 362.8h0M401.4 356.2h0M398.0 359.8h0M393.1 361.9h0M404.5 365.0h0M398.9 362.2h0M379.6 368.2h0M394.1 361.8h0M390.7 349.2h0M404.3 375.0h0M404.9 346.9h0M397.9 352.0h0M392.9 357.1h0M389.9 355.1h0M390.9 367.0h0M405.1 368.1h0M394.1 359.9h0M392.5 360.9h0M389.9 359.6h0M399.9 359.3h0M388.6 360.1h0M394.7 360.4h0M392.4 366.4h0M393.8 353.3h0M398.0 355.6h0M399.4 367.3h0M397.4 363.4h0M384.9 359.5h0M395.0 365.9h0M386.5 359.8h0M383.6 362.4h0M394.7 362.0h0M405.4 366.6h0M392.8 356.6h0M391.1 367.0h0M400.4 357.2h0M393.3 357.7h0M398.8 362.5h0M389.2 354.2h0M403.0 350.3h0M381.7 337.5h0M408.0 356.9h0M400.0 365.3h0M399.9 369.7h0" stroke="#8a8a8a" stroke-width="0.64" stroke-linecap="round" fill="none"/>
<path d="M387.0 386.0h0M399.8 387.3h0M384.5 384.3h0M378.4 386.6h0M386.5 382.4h0M386.2 386.7h0M392.8 385.5h0M392.6 387.5h0M380.6 384.1h0M399.8 387.7h0M378.8 384.3h0M404.0 387.7h0M389.9 388.3h0M403.3 389.2h0M378.9 383.0h0M386.7 385.9h0M388.0 386.6h0M404.3 388.5h0M399.9 386.0h0M405.8 387.1h0M393.3 386.0h0M374.9 390.9h0M391.0 388.1h0M411.2 385.6h0M380.9 388.3h0M393.3 383.8h0M399.7 386.0h0M382.8 380.2h0M382.4 386.9h0M382.0 388.2h0M410.7 386.7h0M393.2 385.8h0M398.8 386.1h0M400.4 389.3h0M398.7 383.8h0M397.1 385.4h0M393.9 388.2h0M385.3 386.5h0M404.2 384.1h0M389.5 387.7h0M389.1 388.4h0M382.2 382.6h0M394.5 385.7h0M394.0 388.2h0M400.5 385.2h0M387.7 381.6h0M382.5 386.6h0M393.1 382.6h0M398.1 385.9h0M400.9 385.2h0M399.8 383.5h0M374.7 384.2h0M397.4 386.9h0M374.4 386.3h0M397.1 389.8h0M398.1 387.2h0M377.1 386.9h0M373.7 385.3h0M387.9 383.8h0M382.1 385.7h0M396.3 384.5h0M393.8 387.6h0M391.0 390.4h0M388.4 384.3h0M374.3 388.5h0M397.2 385.6h0M393.9 385.7h0M398.9 386.0h0M393.2 385.8h0M383.3 380.9h0M396.0 383.2h0M394.7 387.5h0M407.9 384.3h0M392.5 388.2h0M385.2 384.7h0M395.1 390.7h0M400.8 388.2h0M382.6 387.5h0M401.3 383.1h0M391.3 385.6h0M396.9 382.0h0M397.4 386.0h0M388.8 381.2h0M372.7 384.8h0M396.9 387.0h0M397.8 382.1h0M393.0 389.1h0M377.4 387.5h0M384.7 387.3h0M392.0 382.3h0M381.8 388.9h0M390.2 388.8h0M394.2 388.0h0M387.6 386.5h0M387.8 388.1h0M386.0 388.5h0M405.1 383.2h0M389.6 387.2h0M407.0 388.6h0M391.9 382.1h0M398.6 384.7h0M392.9 386.9h0M378.6 388.4h0M399.3 387.3h0M396.5 386.8h0M378.7 384.9h0M398.4 385.3h0M391.4 386.9h0M391.9 386.6h0M395.5 386.0h0M381.3 385.4h0M399.6 384.5h0M395.3 386.7h0M383.3 379.6h0M391.0 384.2h0M385.6 388.1h0M384.3 386.8h0M392.2 386.5h0M408.9 381.5h0M399.7 385.7h0M388.7 384.5h0M391.5 386.1h0M383.0 389.7h0M384.5 385.7h0M379.8 386.3h0M394.3 388.5h0M399.9 384.9h0M405.4 385.8h0M404.9 389.9h0M387.5 383.6h0M395.9 389.3h0M394.7 388.5h0M396.4 388.0h0M402.9 385.3h0M378.5 385.7h0M384.1 383.3h0M389.6 387.6h0M374.7 382.6h0M398.2 384.0h0M387.7 389.1h0M401.1 386.8h0M395.9 379.9h0M396.1 386.9h0M378.8 386.4h0M395.2 385.7h0M398.2 388.0h0M391.6 385.4h0M380.6 388.6h0M386.0 386.7h0M404.7 387.8h0M379.8 385.8h0M384.8 382.3h0M384.0 387.3h0M394.1 385.5h0M392.7 383.4h0M384.3 385.6h0M398.2 385.3h0M389.6 386.8h0M404.1 383.2h0M395.8 386.4h0M390.5 386.6h0M373.5 386.1h0M389.0 383.2h0M398.6 385.7h0M388.1 387.7h0M382.9 384.4h0M398.4 388.0h0M409.0 385.0h0M378.2 382.6h0M380.5 386.2h0M389.0 384.5h0M382.2 384.4h0M387.9 388.7h0M396.6 389.1h0M398.4 387.7h0M401.5 387.0h0M404.8 388.6h0M407.2 386.5h0M384.2 391.7h0M388.6 387.2h0M387.7 384.4h0M395.0 383.5h0M389.7 389.2h0M392.2 387.9h0M396.8 386.9h0M392.0 387.4h0M382.5 387.3h0M381.6 384.3h0M385.9 383.0h0M373.6 386.9h0M395.5 387.5h0M410.7 386.4h0M397.7 384.3h0M397.4 383.4h0M408.6 383.8h0M387.4 387.7h0M371.6 389.0h0M382.6 386.5h0M399.8 386.4h0M399.4 384.9h0" stroke="#999" stroke-width="0.64" stroke-linecap="round" fill="none"/>
<path d="M376.5,342.3 Q383.5,343 383.2,354 Q382.5,364 379,371.5 Q376,372.5 373.5,369 Q369.8,360 370.3,350 Q371,342.5 376.5,342.3Z" fill="#f2f2f2" stroke="#777" stroke-width="0.45"/>
<path d="M376.5,344 Q382,345 381.8,354 Q381,362 378.3,368 Q376,369 374.5,366 Q371.5,358 372,350 Q372.6,344.5 376.5,344Z" fill="#e0e0e0" stroke="#666" stroke-width="0.45"/>
<ellipse cx="376.6" cy="353.5" rx="4.3" ry="8" fill="#c4c4c4" stroke="#555" stroke-width="0.45"/>
<ellipse cx="376.6" cy="353.3" rx="3.1" ry="6.2" fill="#a8a8a8" stroke="#444" stroke-width="0.45"/>
<ellipse cx="376.4" cy="353" rx="1.8" ry="4.2" fill="#8a8a8a" stroke="#444" stroke-width="0.4"/>
<ellipse cx="376.3" cy="352.5" rx="0.8" ry="2.5" fill="#c8c8c8"/>
<ellipse cx="397.5" cy="368.8" rx="4.6" ry="3.1" fill="#fff" stroke="#444" stroke-width="0.7"/>
<ellipse cx="397.5" cy="368.8" rx="6" ry="4.2" fill="none" stroke="#999" stroke-width="0.4"/>
<rect x="358" y="328.7" width="71.5" height="71.2" fill="none" stroke="#231f20" stroke-width="0.9"/>
<line x1="383.80" y1="328.70" x2="383.80" y2="399.90" stroke="#231f20" stroke-width="0.9"/>
<line x1="358.00" y1="379.60" x2="429.50" y2="379.60" stroke="#231f20" stroke-width="0.9"/>
<text x="393.70" y="326.20" font-size="10" text-anchor="middle" fill="#231f20">HC</text>
<text x="413.20" y="336.95" font-size="7.0" text-anchor="end" fill="#231f20" textLength="11.6" lengthAdjust="spacingAndGlyphs">82.0</text>
<text x="427.50" y="336.95" font-size="7.0" text-anchor="end" fill="#231f20" textLength="11.6" lengthAdjust="spacingAndGlyphs">12.7</text>
<text x="413.20" y="345.55" font-size="7.0" text-anchor="end" fill="#231f20" textLength="11.6" lengthAdjust="spacingAndGlyphs">1.21</text>
<text x="427.50" y="345.55" font-size="7.0" text-anchor="end" fill="#231f20" textLength="11.6" lengthAdjust="spacingAndGlyphs">4.08</text>
<line x1="414.20" y1="331.40" x2="414.20" y2="347.30" stroke="#231f20" stroke-width="0.7"/>
<line x1="400.00" y1="338.60" x2="428.00" y2="338.60" stroke="#231f20" stroke-width="0.7"/>
<line x1="356.40" y1="333.00" x2="358.00" y2="333.00" stroke="#231f20" stroke-width="0.5"/>
<line x1="356.40" y1="340.50" x2="358.00" y2="340.50" stroke="#231f20" stroke-width="0.5"/>
<line x1="356.40" y1="348.00" x2="358.00" y2="348.00" stroke="#231f20" stroke-width="0.5"/>
<line x1="356.40" y1="355.50" x2="358.00" y2="355.50" stroke="#231f20" stroke-width="0.5"/>
<line x1="356.40" y1="363.00" x2="358.00" y2="363.00" stroke="#231f20" stroke-width="0.5"/>
<line x1="356.40" y1="370.50" x2="358.00" y2="370.50" stroke="#231f20" stroke-width="0.5"/>
<line x1="356.40" y1="378.00" x2="358.00" y2="378.00" stroke="#231f20" stroke-width="0.5"/>
<line x1="356.40" y1="385.50" x2="358.00" y2="385.50" stroke="#231f20" stroke-width="0.5"/>
<line x1="356.40" y1="393.00" x2="358.00" y2="393.00" stroke="#231f20" stroke-width="0.5"/>
<line x1="362.00" y1="399.90" x2="362.00" y2="401.50" stroke="#231f20" stroke-width="0.5"/>
<line x1="369.50" y1="399.90" x2="369.50" y2="401.50" stroke="#231f20" stroke-width="0.5"/>
<line x1="377.00" y1="399.90" x2="377.00" y2="401.50" stroke="#231f20" stroke-width="0.5"/>
<line x1="384.50" y1="399.90" x2="384.50" y2="401.50" stroke="#231f20" stroke-width="0.5"/>
<line x1="392.00" y1="399.90" x2="392.00" y2="401.50" stroke="#231f20" stroke-width="0.5"/>
<line x1="399.50" y1="399.90" x2="399.50" y2="401.50" stroke="#231f20" stroke-width="0.5"/>
<line x1="407.00" y1="399.90" x2="407.00" y2="401.50" stroke="#231f20" stroke-width="0.5"/>
<line x1="414.50" y1="399.90" x2="414.50" y2="401.50" stroke="#231f20" stroke-width="0.5"/>
<line x1="422.00" y1="399.90" x2="422.00" y2="401.50" stroke="#231f20" stroke-width="0.5"/>
<line x1="357.00" y1="388.50" x2="359.00" y2="388.50" stroke="#231f20" stroke-width="1.6"/>
<line x1="376.00" y1="400.70" x2="380.00" y2="400.70" stroke="#231f20" stroke-width="1.5"/>
<path d="M454.1 337.5h0M457.2 351.8h0M449.0 358.2h0M457.9 351.4h0M451.9 354.6h0M448.8 345.7h0M454.1 364.7h0M449.4 360.2h0M453.6 361.6h0M451.4 358.4h0M453.0 348.0h0M451.5 365.5h0M450.1 370.4h0M451.2 347.6h0M451.0 345.3h0M454.1 343.0h0M452.1 355.8h0M451.0 362.0h0M453.0 352.8h0M454.8 353.8h0M455.1 370.6h0M453.3 366.7h0M447.4 363.3h0M446.9 356.4h0M454.4 332.8h0M449.3 350.7h0M448.8 358.2h0M454.2 347.1h0M449.9 340.5h0M449.6 338.3h0M446.8 362.4h0M455.0 350.4h0M453.2 350.7h0M455.7 374.5h0M443.5 349.9h0M449.8 353.5h0M457.4 372.8h0M452.0 364.0h0M446.5 355.2h0M451.0 356.6h0M453.0 343.3h0M448.4 378.1h0M446.0 358.6h0M454.5 362.6h0M452.2 342.8h0M450.4 343.3h0M458.8 361.4h0M454.5 359.9h0M450.7 369.1h0M455.1 364.0h0M454.0 365.0h0M451.0 362.1h0M452.3 355.6h0M454.2 378.1h0M445.0 371.5h0M450.5 369.3h0M448.5 356.3h0M455.5 357.3h0M453.2 346.6h0M448.0 373.7h0M452.5 357.2h0M447.2 348.3h0M448.4 357.5h0M451.6 352.3h0M449.7 359.0h0M456.0 344.8h0M447.1 368.6h0M447.1 354.2h0M452.4 375.2h0M445.0 330.7h0M451.7 368.1h0M452.5 350.4h0M452.7 338.6h0M454.8 371.9h0M451.3 365.7h0M448.4 371.9h0M449.8 350.5h0M449.4 341.3h0M454.3 376.9h0M447.1 356.1h0M453.6 352.7h0M446.6 361.2h0M455.5 359.0h0M448.3 355.2h0M445.3 357.4h0M456.2 368.5h0M451.7 362.1h0M450.2 359.2h0M449.9 359.6h0M450.2 359.9h0M454.4 357.8h0M447.5 362.7h0M451.2 353.3h0M453.9 350.1h0M455.2 363.3h0M449.6 351.4h0M451.6 349.4h0M455.3 336.7h0M452.5 354.7h0M448.2 364.0h0M450.3 362.3h0M450.5 355.3h0M453.8 367.0h0M455.4 357.8h0M457.1 354.8h0M447.3 340.4h0M447.0 349.8h0M445.9 361.1h0M452.1 357.7h0M452.8 357.0h0M451.1 355.0h0M452.1 347.4h0M456.4 372.6h0M452.1 379.5h0M448.7 366.5h0M446.4 363.7h0M449.4 367.5h0M452.4 367.0h0M454.1 363.0h0M451.1 373.1h0M453.2 362.6h0M456.9 355.6h0M458.0 368.3h0M452.3 344.3h0M456.2 355.1h0M452.3 359.2h0M455.3 364.0h0M445.7 351.8h0M453.2 359.6h0M454.7 363.4h0M457.6 351.2h0M456.5 361.6h0M453.0 364.5h0M450.9 364.8h0M451.3 364.8h0M449.4 369.1h0M446.8 351.8h0M451.8 360.3h0M449.3 354.2h0M452.9 367.9h0M456.5 353.5h0M451.8 355.1h0M446.8 353.8h0M455.9 345.3h0M461.9 367.3h0M458.0 359.8h0M444.1 362.2h0M457.5 352.6h0M456.4 365.2h0M454.7 365.1h0" stroke="#8a8a8a" stroke-width="0.64" stroke-linecap="round" fill="none"/>
<path d="M485.0 369.4h0M492.1 366.8h0M485.5 366.9h0M479.7 352.2h0M456.9 350.5h0M463.5 345.2h0M486.2 358.3h0M493.1 397.5h0M487.2 356.8h0M482.6 359.7h0M481.4 385.7h0M496.9 376.5h0M481.5 382.3h0M487.9 372.1h0M464.3 355.1h0M480.1 359.6h0M471.9 339.3h0M469.3 360.8h0M481.7 349.8h0M476.5 382.6h0M480.0 339.7h0M475.9 362.1h0M493.0 364.3h0M494.3 365.8h0M491.9 377.4h0M496.2 364.3h0M485.7 406.7h0M463.7 364.3h0M483.7 354.0h0M487.9 360.2h0M487.5 364.2h0M467.1 374.0h0M501.8 372.6h0M481.4 342.4h0M481.9 361.7h0M468.8 340.2h0M483.4 373.1h0M486.5 388.0h0M455.8 366.1h0M477.8 378.3h0M477.7 351.0h0M477.4 367.0h0M469.5 353.1h0M481.3 372.0h0M475.4 367.6h0M472.2 358.2h0M480.4 373.1h0M496.8 360.6h0M483.4 384.5h0M488.0 358.0h0M483.0 345.8h0M453.5 353.4h0M469.7 346.8h0M490.2 356.9h0M479.2 362.9h0M475.7 348.7h0M500.9 339.5h0M477.8 370.0h0M475.8 360.9h0M481.8 364.8h0M474.2 374.4h0M484.1 379.3h0M479.3 339.3h0M458.7 356.2h0M483.5 343.4h0M471.5 376.3h0M482.1 354.0h0M476.9 363.4h0M473.2 358.5h0M470.7 364.6h0M496.8 378.7h0M463.6 388.6h0M476.8 346.1h0M460.7 363.7h0M480.9 354.8h0M468.8 359.6h0M481.2 369.8h0M484.7 334.9h0M471.2 365.1h0M482.6 371.2h0M460.8 380.0h0M464.2 359.8h0M472.7 356.7h0M469.1 371.4h0M487.4 366.1h0M463.3 354.9h0M477.5 366.6h0M471.7 359.0h0M508.9 362.8h0M474.7 334.0h0" stroke="#a8a8a8" stroke-width="0.64" stroke-linecap="round" fill="none"/>
<path d="M449.9 392.7h0M454.5 384.6h0M454.3 388.5h0M449.7 390.3h0M450.3 387.2h0M452.1 388.6h0M450.8 388.9h0M452.1 388.6h0M453.2 386.2h0M448.1 387.8h0M455.6 389.0h0M452.7 385.9h0M448.7 384.5h0M449.4 387.0h0M447.6 387.7h0M447.5 389.9h0M452.0 383.0h0M450.5 388.7h0M453.2 390.2h0M451.0 387.6h0M451.4 389.6h0M450.0 387.6h0M452.5 387.0h0M448.9 391.9h0M453.5 385.4h0" stroke="#b0b0b0" stroke-width="0.64" stroke-linecap="round" fill="none"/>
<path d="M450,337.5 Q456.5,338 456.5,348 Q456,356 453,360.5 Q450,362 447,359 Q443.5,352 444,345 Q445,337.5 450,337.5Z" fill="#f0f0f0" stroke="#666" stroke-width="0.45"/>
<path d="M450,339 Q455,339.5 455,347.5 Q454.5,354.5 452.3,358 Q450,359.5 448,357 Q445.2,351 445.6,345.5 Q446.5,339 450,339Z" fill="#d8d8d8" stroke="#555" stroke-width="0.45"/>
<ellipse cx="450" cy="347.5" rx="3.6" ry="7" fill="#b0b0b0" stroke="#444" stroke-width="0.45"/>
<ellipse cx="449.8" cy="347" rx="2.5" ry="5" fill="#909090" stroke="#444" stroke-width="0.45"/>
<ellipse cx="449.7" cy="346.5" rx="1.3" ry="3" fill="#9c9c9c" stroke="#555" stroke-width="0.4"/>
<rect x="432.6" y="328.7" width="71.5" height="71.2" fill="none" stroke="#231f20" stroke-width="0.9"/>
<line x1="458.70" y1="328.70" x2="458.70" y2="399.90" stroke="#231f20" stroke-width="0.9"/>
<line x1="432.60" y1="379.60" x2="504.10" y2="379.60" stroke="#231f20" stroke-width="0.9"/>
<text x="467.60" y="326.20" font-size="10" text-anchor="middle" fill="#231f20">II-1</text>
<text x="487.80" y="336.95" font-size="7.0" text-anchor="end" fill="#231f20" textLength="11.6" lengthAdjust="spacingAndGlyphs">96.2</text>
<text x="502.10" y="336.95" font-size="7.0" text-anchor="end" fill="#231f20" textLength="11.6" lengthAdjust="spacingAndGlyphs">2.97</text>
<text x="487.80" y="345.55" font-size="7.0" text-anchor="end" fill="#231f20" textLength="11.6" lengthAdjust="spacingAndGlyphs">0.45</text>
<text x="502.10" y="345.55" font-size="7.0" text-anchor="end" fill="#231f20" textLength="11.6" lengthAdjust="spacingAndGlyphs">0.34</text>
<line x1="488.80" y1="331.40" x2="488.80" y2="347.30" stroke="#231f20" stroke-width="0.7"/>
<line x1="474.60" y1="338.60" x2="502.60" y2="338.60" stroke="#231f20" stroke-width="0.7"/>
<line x1="431.00" y1="333.00" x2="432.60" y2="333.00" stroke="#231f20" stroke-width="0.5"/>
<line x1="431.00" y1="340.50" x2="432.60" y2="340.50" stroke="#231f20" stroke-width="0.5"/>
<line x1="431.00" y1="348.00" x2="432.60" y2="348.00" stroke="#231f20" stroke-width="0.5"/>
<line x1="431.00" y1="355.50" x2="432.60" y2="355.50" stroke="#231f20" stroke-width="0.5"/>
<line x1="431.00" y1="363.00" x2="432.60" y2="363.00" stroke="#231f20" stroke-width="0.5"/>
<line x1="431.00" y1="370.50" x2="432.60" y2="370.50" stroke="#231f20" stroke-width="0.5"/>
<line x1="431.00" y1="378.00" x2="432.60" y2="378.00" stroke="#231f20" stroke-width="0.5"/>
<line x1="431.00" y1="385.50" x2="432.60" y2="385.50" stroke="#231f20" stroke-width="0.5"/>
<line x1="431.00" y1="393.00" x2="432.60" y2="393.00" stroke="#231f20" stroke-width="0.5"/>
<line x1="436.60" y1="399.90" x2="436.60" y2="401.50" stroke="#231f20" stroke-width="0.5"/>
<line x1="444.10" y1="399.90" x2="444.10" y2="401.50" stroke="#231f20" stroke-width="0.5"/>
<line x1="451.60" y1="399.90" x2="451.60" y2="401.50" stroke="#231f20" stroke-width="0.5"/>
<line x1="459.10" y1="399.90" x2="459.10" y2="401.50" stroke="#231f20" stroke-width="0.5"/>
<line x1="466.60" y1="399.90" x2="466.60" y2="401.50" stroke="#231f20" stroke-width="0.5"/>
<line x1="474.10" y1="399.90" x2="474.10" y2="401.50" stroke="#231f20" stroke-width="0.5"/>
<line x1="481.60" y1="399.90" x2="481.60" y2="401.50" stroke="#231f20" stroke-width="0.5"/>
<line x1="489.10" y1="399.90" x2="489.10" y2="401.50" stroke="#231f20" stroke-width="0.5"/>
<line x1="496.60" y1="399.90" x2="496.60" y2="401.50" stroke="#231f20" stroke-width="0.5"/>
<line x1="431.60" y1="388.50" x2="433.60" y2="388.50" stroke="#231f20" stroke-width="1.6"/>
<line x1="450.60" y1="400.70" x2="454.60" y2="400.70" stroke="#231f20" stroke-width="1.5"/>
<line x1="503.50" y1="338.40" x2="520.00" y2="338.40" stroke="#231f20" stroke-width="0.6"/>
<line x1="505.70" y1="331.00" x2="505.70" y2="338.40" stroke="#231f20" stroke-width="0.6"/>
<line x1="511.80" y1="331.00" x2="511.80" y2="346.70" stroke="#231f20" stroke-width="0.6"/>
<text x="506.40" y="337.02" font-size="6.9" fill="#231f20">N</text>
<text x="513.60" y="345.12" font-size="6.9" fill="#231f20">M</text>
<text x="358.20" y="411.47" font-size="8.2" fill="#231f20" textLength="46.7" lengthAdjust="spacingAndGlyphs">CD27 BB630</text>
<line x1="407.40" y1="408.70" x2="497.00" y2="408.70" stroke="#231f20" stroke-width="0.9"/>
<path d="M501.5,408.7 L496,406.7 L496,410.7Z" fill="#231f20" stroke="none" stroke-width="0.8"/>
<text x="353.10" y="381.00" font-size="8.3" text-anchor="middle" fill="#231f20" transform="rotate(-90 353.10 381.00)" textLength="38.9" lengthAdjust="spacingAndGlyphs">IgD BV605</text>
<line x1="350.70" y1="358.90" x2="350.70" y2="335.00" stroke="#231f20" stroke-width="0.9"/>
<path d="M350.7,331.2 L348.7,336.5 L352.7,336.5Z" fill="#231f20" stroke="none" stroke-width="0.8"/>
<text x="1.22" y="467.12" font-size="11.8" font-weight="bold" fill="#000">H</text>
<line x1="40.00" y1="480.00" x2="40.00" y2="564.35" stroke="#231f20" stroke-width="1.2"/>
<line x1="39.40" y1="563.75" x2="98.75" y2="563.75" stroke="#231f20" stroke-width="1.2"/>
<line x1="37.00" y1="483.25" x2="40.00" y2="483.25" stroke="#231f20" stroke-width="1.0"/>
<text x="34.60" y="486.01" font-size="7.9" text-anchor="end" fill="#231f20">40</text>
<line x1="37.00" y1="503.40" x2="40.00" y2="503.40" stroke="#231f20" stroke-width="1.0"/>
<text x="34.60" y="506.16" font-size="7.9" text-anchor="end" fill="#231f20">30</text>
<line x1="37.00" y1="523.50" x2="40.00" y2="523.50" stroke="#231f20" stroke-width="1.0"/>
<text x="34.60" y="526.26" font-size="7.9" text-anchor="end" fill="#231f20">20</text>
<line x1="37.00" y1="543.60" x2="40.00" y2="543.60" stroke="#231f20" stroke-width="1.0"/>
<text x="34.60" y="546.37" font-size="7.9" text-anchor="end" fill="#231f20">10</text>
<line x1="37.00" y1="563.75" x2="40.00" y2="563.75" stroke="#231f20" stroke-width="1.0"/>
<text x="34.60" y="566.51" font-size="7.9" text-anchor="end" fill="#231f20">0</text>
<line x1="52.00" y1="563.75" x2="52.00" y2="566.55" stroke="#231f20" stroke-width="1.0"/>
<line x1="69.50" y1="563.75" x2="69.50" y2="566.55" stroke="#231f20" stroke-width="1.0"/>
<line x1="88.00" y1="563.75" x2="88.00" y2="566.55" stroke="#231f20" stroke-width="1.0"/>
<text x="52.00" y="575.90" font-size="8.3" text-anchor="middle" fill="#231f20">HC</text>
<text x="69.50" y="575.90" font-size="8.3" text-anchor="middle" fill="#231f20">Het.</text>
<text x="88.30" y="575.90" font-size="8.3" text-anchor="middle" fill="#231f20">II-1</text>
<line x1="51.90" y1="496.00" x2="88.00" y2="496.00" stroke="#231f20" stroke-width="1.0"/>
<text x="69.70" y="497.00" font-size="7.5" text-anchor="middle" fill="#231f20">*</text>
<line x1="69.70" y1="488.90" x2="88.00" y2="488.90" stroke="#231f20" stroke-width="1.0"/>
<text x="78.60" y="487.27" font-size="8.2" text-anchor="middle" fill="#231f20">NS</text>
<circle cx="51.25" cy="502.50" r="1.3" fill="#3aa84a"/>
<circle cx="47.50" cy="516.25" r="1.3" fill="#3aa84a"/>
<circle cx="55.50" cy="517.50" r="1.3" fill="#3aa84a"/>
<circle cx="47.50" cy="531.75" r="1.3" fill="#3aa84a"/>
<circle cx="55.50" cy="535.00" r="1.3" fill="#3aa84a"/>
<circle cx="51.25" cy="545.75" r="1.3" fill="#3aa84a"/>
<circle cx="47.50" cy="555.00" r="1.3" fill="#3aa84a"/>
<circle cx="55.50" cy="555.00" r="1.3" fill="#3aa84a"/>
<line x1="46.60" y1="532.80" x2="55.50" y2="532.80" stroke="#3aa84a" stroke-width="1.0"/>
<path d="M70.00,539.56 L71.50,536.96 L68.50,536.96Z" fill="#1f4e88" stroke="none" stroke-width="0.8"/>
<circle cx="68.00" cy="548.00" r="1.3" fill="#1f4e88"/>
<rect x="69.40" y="548.40" width="2.20" height="2.20" fill="#1f4e88"/>
<path d="M71.00,547.18 L72.27,549.38 L69.73,549.38Z" fill="#1f4e88" stroke="none" stroke-width="0.8"/>
<line x1="64.40" y1="550.10" x2="75.60" y2="550.10" stroke="#1f4e88" stroke-width="1.0"/>
<path d="M84.00,558.88 L85.62,560.50 L84.00,562.12 L82.38,560.50Z" fill="#c0102e" stroke="none" stroke-width="0.8"/>
<path d="M87.00,558.38 L88.62,560.00 L87.00,561.62 L85.38,560.00Z" fill="#c0102e" stroke="none" stroke-width="0.8"/>
<path d="M90.00,559.38 L91.62,561.00 L90.00,562.62 L88.38,561.00Z" fill="#c0102e" stroke="none" stroke-width="0.8"/>
<path d="M93.00,560.38 L94.62,562.00 L93.00,563.62 L91.38,562.00Z" fill="#c0102e" stroke="none" stroke-width="0.8"/>
<path d="M86.00,560.88 L87.62,562.50 L86.00,564.12 L84.38,562.50Z" fill="#c0102e" stroke="none" stroke-width="0.8"/>
<path d="M89.50,560.38 L91.12,562.00 L89.50,563.62 L87.88,562.00Z" fill="#c0102e" stroke="none" stroke-width="0.8"/>
<line x1="82.00" y1="561.80" x2="93.70" y2="561.80" stroke="#c0102e" stroke-width="1.0"/>
<text x="9.20" y="524.60" font-size="8.4" text-anchor="middle" fill="#231f20" transform="rotate(-90 9.20 524.60)" textLength="93.8" lengthAdjust="spacingAndGlyphs">% Class-switched memory</text>
<text x="20.30" y="516.90" font-size="8.4" text-anchor="middle" fill="#231f20" transform="rotate(-90 20.30 516.90)" textLength="39" lengthAdjust="spacingAndGlyphs">(in CD19<tspan font-size="5.4" dy="-3">+</tspan><tspan dy="3">)</tspan></text>
<text x="111.67" y="467.12" font-size="11.8" font-weight="bold" fill="#000">I</text>
<line x1="143.75" y1="480.00" x2="143.75" y2="564.85" stroke="#231f20" stroke-width="1.2"/>
<line x1="143.15" y1="564.25" x2="203.00" y2="564.25" stroke="#231f20" stroke-width="1.2"/>
<line x1="140.75" y1="483.00" x2="143.75" y2="483.00" stroke="#231f20" stroke-width="1.0"/>
<text x="138.35" y="485.76" font-size="7.9" text-anchor="end" fill="#231f20">100</text>
<line x1="140.75" y1="499.25" x2="143.75" y2="499.25" stroke="#231f20" stroke-width="1.0"/>
<text x="138.35" y="502.01" font-size="7.9" text-anchor="end" fill="#231f20">80</text>
<line x1="140.75" y1="515.50" x2="143.75" y2="515.50" stroke="#231f20" stroke-width="1.0"/>
<text x="138.35" y="518.26" font-size="7.9" text-anchor="end" fill="#231f20">60</text>
<line x1="140.75" y1="531.75" x2="143.75" y2="531.75" stroke="#231f20" stroke-width="1.0"/>
<text x="138.35" y="534.51" font-size="7.9" text-anchor="end" fill="#231f20">40</text>
<line x1="140.75" y1="548.00" x2="143.75" y2="548.00" stroke="#231f20" stroke-width="1.0"/>
<text x="138.35" y="550.76" font-size="7.9" text-anchor="end" fill="#231f20">20</text>
<line x1="140.75" y1="564.25" x2="143.75" y2="564.25" stroke="#231f20" stroke-width="1.0"/>
<text x="138.35" y="567.01" font-size="7.9" text-anchor="end" fill="#231f20">0</text>
<line x1="155.00" y1="564.25" x2="155.00" y2="567.05" stroke="#231f20" stroke-width="1.0"/>
<line x1="172.50" y1="564.25" x2="172.50" y2="567.05" stroke="#231f20" stroke-width="1.0"/>
<line x1="191.25" y1="564.25" x2="191.25" y2="567.05" stroke="#231f20" stroke-width="1.0"/>
<text x="155.00" y="575.90" font-size="8.3" text-anchor="middle" fill="#231f20">HC</text>
<text x="172.50" y="575.90" font-size="8.3" text-anchor="middle" fill="#231f20">Het.</text>
<text x="191.25" y="575.90" font-size="8.3" text-anchor="middle" fill="#231f20">II-1</text>
<line x1="155.30" y1="482.50" x2="190.90" y2="482.50" stroke="#231f20" stroke-width="1.0"/>
<text x="173.20" y="484.20" font-size="7.5" text-anchor="middle" fill="#231f20">*</text>
<line x1="173.10" y1="476.10" x2="190.90" y2="476.10" stroke="#231f20" stroke-width="1.0"/>
<text x="181.70" y="477.90" font-size="7.5" text-anchor="middle" fill="#231f20">*</text>
<circle cx="152.25" cy="499.25" r="1.45" fill="#3aa84a"/>
<circle cx="156.60" cy="498.00" r="1.45" fill="#3aa84a"/>
<circle cx="156.90" cy="500.50" r="1.45" fill="#3aa84a"/>
<circle cx="152.50" cy="506.10" r="1.45" fill="#3aa84a"/>
<circle cx="156.25" cy="507.40" r="1.45" fill="#3aa84a"/>
<circle cx="152.50" cy="518.40" r="1.45" fill="#3aa84a"/>
<circle cx="156.90" cy="519.60" r="1.45" fill="#3aa84a"/>
<circle cx="154.75" cy="531.50" r="1.45" fill="#3aa84a"/>
<line x1="150.00" y1="506.50" x2="160.00" y2="506.50" stroke="#3aa84a" stroke-width="1.0"/>
<rect x="171.50" y="499.00" width="2.50" height="2.50" fill="#1f4e88"/>
<circle cx="172.75" cy="504.25" r="1.45" fill="#1f4e88"/>
<path d="M172.75,509.13 L174.30,511.83 L171.20,511.83Z" fill="#1f4e88" stroke="none" stroke-width="0.8"/>
<path d="M172.75,539.62 L174.30,536.92 L171.20,536.92Z" fill="#1f4e88" stroke="none" stroke-width="0.8"/>
<line x1="167.75" y1="507.50" x2="178.10" y2="507.50" stroke="#1f4e88" stroke-width="1.0"/>
<path d="M187.25,484.61 L189.14,486.50 L187.25,488.39 L185.36,486.50Z" fill="#c0102e" stroke="none" stroke-width="0.8"/>
<path d="M190.60,484.21 L192.49,486.10 L190.60,487.99 L188.71,486.10Z" fill="#c0102e" stroke="none" stroke-width="0.8"/>
<path d="M195.00,485.86 L196.89,487.75 L195.00,489.64 L193.11,487.75Z" fill="#c0102e" stroke="none" stroke-width="0.8"/>
<path d="M187.25,488.61 L189.14,490.50 L187.25,492.39 L185.36,490.50Z" fill="#c0102e" stroke="none" stroke-width="0.8"/>
<text x="120.00" y="519.30" font-size="8.4" text-anchor="middle" fill="#231f20" transform="rotate(-90 120.00 519.30)" textLength="69.5" lengthAdjust="spacingAndGlyphs">% Naive (in CD19<tspan font-size="5.4" dy="-3">+</tspan><tspan dy="3">)</tspan></text>
<text x="216.06" y="467.12" font-size="11.8" font-weight="bold" fill="#000">J</text>
<line x1="246.00" y1="480.00" x2="246.00" y2="564.85" stroke="#231f20" stroke-width="1.2"/>
<line x1="245.40" y1="564.25" x2="305.00" y2="564.25" stroke="#231f20" stroke-width="1.2"/>
<line x1="243.00" y1="483.75" x2="246.00" y2="483.75" stroke="#231f20" stroke-width="1.0"/>
<text x="240.60" y="486.51" font-size="7.9" text-anchor="end" fill="#231f20">2.5</text>
<line x1="243.00" y1="500.00" x2="246.00" y2="500.00" stroke="#231f20" stroke-width="1.0"/>
<text x="240.60" y="502.76" font-size="7.9" text-anchor="end" fill="#231f20">2.0</text>
<line x1="243.00" y1="516.25" x2="246.00" y2="516.25" stroke="#231f20" stroke-width="1.0"/>
<text x="240.60" y="519.01" font-size="7.9" text-anchor="end" fill="#231f20">1.5</text>
<line x1="243.00" y1="532.00" x2="246.00" y2="532.00" stroke="#231f20" stroke-width="1.0"/>
<text x="240.60" y="534.76" font-size="7.9" text-anchor="end" fill="#231f20">1.0</text>
<line x1="243.00" y1="548.00" x2="246.00" y2="548.00" stroke="#231f20" stroke-width="1.0"/>
<text x="240.60" y="550.76" font-size="7.9" text-anchor="end" fill="#231f20">0.5</text>
<line x1="243.00" y1="564.25" x2="246.00" y2="564.25" stroke="#231f20" stroke-width="1.0"/>
<text x="240.60" y="567.01" font-size="7.9" text-anchor="end" fill="#231f20">0</text>
<line x1="257.50" y1="564.25" x2="257.50" y2="567.05" stroke="#231f20" stroke-width="1.0"/>
<line x1="274.50" y1="564.25" x2="274.50" y2="567.05" stroke="#231f20" stroke-width="1.0"/>
<line x1="293.75" y1="564.25" x2="293.75" y2="567.05" stroke="#231f20" stroke-width="1.0"/>
<text x="257.50" y="575.90" font-size="8.3" text-anchor="middle" fill="#231f20">HC</text>
<text x="274.50" y="575.90" font-size="8.3" text-anchor="middle" fill="#231f20">Het.</text>
<text x="293.75" y="575.90" font-size="8.3" text-anchor="middle" fill="#231f20">II-1</text>
<line x1="257.50" y1="488.75" x2="293.75" y2="488.75" stroke="#231f20" stroke-width="1.0"/>
<text x="275.60" y="487.17" font-size="8.2" text-anchor="middle" fill="#231f20">NS</text>
<line x1="275.50" y1="478.75" x2="293.75" y2="478.75" stroke="#231f20" stroke-width="1.0"/>
<text x="284.10" y="477.17" font-size="8.2" text-anchor="middle" fill="#231f20">NS</text>
<circle cx="257.50" cy="533.25" r="1.3" fill="#3aa84a"/>
<circle cx="257.50" cy="542.50" r="1.3" fill="#3aa84a"/>
<circle cx="252.50" cy="551.25" r="1.3" fill="#3aa84a"/>
<circle cx="256.50" cy="551.25" r="1.3" fill="#3aa84a"/>
<circle cx="261.25" cy="551.25" r="1.3" fill="#3aa84a"/>
<circle cx="252.50" cy="555.00" r="1.3" fill="#3aa84a"/>
<circle cx="256.50" cy="555.00" r="1.3" fill="#3aa84a"/>
<circle cx="261.25" cy="555.00" r="1.3" fill="#3aa84a"/>
<line x1="252.00" y1="551.25" x2="263.00" y2="551.25" stroke="#3aa84a" stroke-width="1.0"/>
<path d="M275.50,490.43 L276.76,492.63 L274.24,492.63Z" fill="#1f4e88" stroke="none" stroke-width="0.8"/>
<circle cx="275.50" cy="537.50" r="1.3" fill="#1f4e88"/>
<rect x="272.65" y="555.90" width="2.20" height="2.20" fill="#1f4e88"/>
<path d="M277.50,556.82 L278.76,554.62 L276.24,554.62Z" fill="#1f4e88" stroke="none" stroke-width="0.8"/>
<line x1="270.00" y1="546.25" x2="281.25" y2="546.25" stroke="#1a2a40" stroke-width="1.0"/>
<path d="M290.00,545.81 L291.69,547.50 L290.00,549.19 L288.31,547.50Z" fill="#c0102e" stroke="none" stroke-width="0.8"/>
<path d="M297.50,544.06 L299.19,545.75 L297.50,547.44 L295.81,545.75Z" fill="#c0102e" stroke="none" stroke-width="0.8"/>
<path d="M293.75,552.06 L295.44,553.75 L293.75,555.44 L292.06,553.75Z" fill="#c0102e" stroke="none" stroke-width="0.8"/>
<path d="M293.75,560.81 L295.44,562.50 L293.75,564.19 L292.06,562.50Z" fill="#c0102e" stroke="none" stroke-width="0.8"/>
<line x1="288.75" y1="551.25" x2="298.75" y2="551.25" stroke="#3a1018" stroke-width="1.0"/>
<text x="224.00" y="521.20" font-size="8.4" text-anchor="middle" fill="#231f20" transform="rotate(-90 224.00 521.20)" textLength="91" lengthAdjust="spacingAndGlyphs">% Plasmablasts (in CD19<tspan font-size="5.4" dy="-3">+</tspan><tspan dy="3">)</tspan></text>
<text x="311.62" y="467.12" font-size="11.8" font-weight="bold" fill="#000">K</text>
<path d="M329.6,564.2 330.4,564.2 331.2,564.2 332.0,564.2 332.8,564.2 333.6,564.2 334.4,564.2 335.2,564.2 336.0,564.2 336.8,564.2 337.6,564.2 338.4,564.2 339.2,564.2 340.0,564.2 340.8,564.2 341.6,564.2 342.4,564.2 343.2,564.2 344.0,564.2 344.8,564.2 345.6,564.2 346.4,564.2 347.2,564.2 348.0,564.2 348.8,564.2 349.6,564.2 350.4,564.2 351.2,564.1 352.0,564.0 352.8,563.9 353.6,563.7 354.4,563.6 355.2,563.4 356.0,563.1 356.8,562.9 357.6,562.7 358.4,562.6 359.2,562.4 360.0,561.9 360.8,562.0 361.6,561.2 362.4,561.3 363.2,561.0 364.0,560.2 364.8,560.1 365.6,560.2 366.4,559.6 367.2,558.4 368.0,558.3 368.8,557.2 369.6,556.7 370.4,556.6 371.2,555.3 372.0,554.1 372.8,553.6 373.6,552.8 374.4,550.7 375.2,550.5 376.0,549.0 376.8,548.1 377.6,546.2 378.4,545.9 379.2,545.0 380.0,542.9 380.8,541.7 381.6,541.2 382.4,542.3 383.2,543.1 384.0,544.3 384.8,546.7 385.6,549.4 386.4,552.0 387.2,555.0 388.0,557.3 388.8,559.9 389.6,561.6 390.4,562.6 391.2,563.1 392.0,563.7 392.8,564.0 393.6,564.2 394.4,564.2 395.2,564.2 396.0,564.2 396.8,564.2 397.6,564.2 398.4,564.2 399.2,564.2 400.0,564.2 400.8,564.2 401.6,564.2 402.4,564.2 403.2,564.2 404.0,564.2 404.8,564.2 405.6,564.2 406.4,564.2 407.2,564.2 408.0,564.2 408.8,564.2 409.6,564.2 410.4,564.2 411.2,564.2 412.0,564.2 412.8,564.2 413.6,564.2 414.4,564.2 415.2,564.2 416.0,564.2 416.8,564.2 417.6,564.2 418.4,564.2 419.2,564.2 420.0,564.2 420.8,564.2 421.6,564.2 422.4,564.2 423.0,564.2 329.6,564.2Z" fill="#a6dca0" stroke="none" stroke-width="0.8" fill-opacity="0.78"/>
<path d="M329.6,564.2 330.4,564.2 331.2,564.2 332.0,564.2 332.8,564.2 333.6,564.2 334.4,564.2 335.2,564.2 336.0,564.2 336.8,564.2 337.6,564.2 338.4,564.2 339.2,564.2 340.0,564.2 340.8,564.2 341.6,564.2 342.4,564.2 343.2,564.2 344.0,564.2 344.8,564.2 345.6,564.2 346.4,564.2 347.2,564.2 348.0,564.2 348.8,564.2 349.6,564.2 350.4,564.2 351.2,564.1 352.0,564.0 352.8,563.9 353.6,563.7 354.4,563.6 355.2,563.4 356.0,563.1 356.8,562.9 357.6,562.7 358.4,562.6 359.2,562.4 360.0,561.9 360.8,562.0 361.6,561.2 362.4,561.3 363.2,561.0 364.0,560.2 364.8,560.1 365.6,560.2 366.4,559.6 367.2,558.4 368.0,558.3 368.8,557.2 369.6,556.7 370.4,556.6 371.2,555.3 372.0,554.1 372.8,553.6 373.6,552.8 374.4,550.7 375.2,550.5 376.0,549.0 376.8,548.1 377.6,546.2 378.4,545.9 379.2,545.0 380.0,542.9 380.8,541.7 381.6,541.2 382.4,542.3 383.2,543.1 384.0,544.3 384.8,546.7 385.6,549.4 386.4,552.0 387.2,555.0 388.0,557.3 388.8,559.9 389.6,561.6 390.4,562.6 391.2,563.1 392.0,563.7 392.8,564.0 393.6,564.2 394.4,564.2 395.2,564.2 396.0,564.2 396.8,564.2 397.6,564.2 398.4,564.2 399.2,564.2 400.0,564.2 400.8,564.2 401.6,564.2 402.4,564.2 403.2,564.2 404.0,564.2 404.8,564.2 405.6,564.2 406.4,564.2 407.2,564.2 408.0,564.2 408.8,564.2 409.6,564.2 410.4,564.2 411.2,564.2 412.0,564.2 412.8,564.2 413.6,564.2 414.4,564.2 415.2,564.2 416.0,564.2 416.8,564.2 417.6,564.2 418.4,564.2 419.2,564.2 420.0,564.2 420.8,564.2 421.6,564.2 422.4,564.2" fill="none" stroke="#44a850" stroke-width="0.85" stroke-linejoin="round"/>
<path d="M329.6,551.2 330.4,551.1 331.2,551.1 332.0,551.0 332.8,551.0 333.6,550.9 334.4,550.8 335.2,550.8 336.0,550.7 336.8,550.7 337.6,550.6 338.4,550.5 339.2,550.5 340.0,550.4 340.8,550.3 341.6,550.3 342.4,550.1 343.2,550.2 344.0,549.9 344.8,550.1 345.6,549.9 346.4,549.6 347.2,549.9 348.0,549.8 348.8,549.6 349.6,549.6 350.4,549.6 351.2,549.1 352.0,549.0 352.8,549.0 353.6,549.1 354.4,548.9 355.2,548.8 356.0,548.7 356.8,548.7 357.6,548.2 358.4,548.3 359.2,548.5 360.0,548.0 360.8,547.7 361.6,547.8 362.4,547.8 363.2,547.4 364.0,547.0 364.8,547.4 365.6,546.2 366.4,546.5 367.2,546.2 368.0,545.7 368.8,545.0 369.6,545.2 370.4,544.7 371.2,543.7 372.0,543.7 372.8,542.5 373.6,542.0 374.4,541.0 375.2,539.7 376.0,538.0 376.8,537.3 377.6,536.7 378.4,535.3 379.2,534.4 380.0,534.0 380.8,532.5 381.6,531.3 382.4,530.3 383.2,529.4 384.0,529.9 384.8,528.7 385.6,528.7 386.4,529.0 387.2,529.4 388.0,531.3 388.8,533.2 389.6,535.6 390.4,538.1 391.2,541.5 392.0,544.2 392.8,546.5 393.6,547.5 394.4,548.7 395.2,549.2 396.0,550.0 396.8,550.6 397.6,550.9 398.4,551.1 399.2,551.2 400.0,551.2 400.8,551.2 401.6,551.2 402.4,551.2 403.2,551.2 404.0,551.2 404.8,551.2 405.6,551.2 406.4,551.2 407.2,551.2 408.0,551.2 408.8,551.2 409.6,551.2 410.4,551.2 411.2,551.2 412.0,551.2 412.8,551.2 413.6,551.2 414.4,551.2 415.2,551.2 416.0,551.2 416.8,551.2 417.6,551.2 418.4,551.2 419.2,551.2 420.0,551.2 420.8,551.2 421.6,551.2 422.4,551.2 423.0,551.2 329.6,551.2Z" fill="#8cc8b4" stroke="none" stroke-width="0.8" fill-opacity="0.78"/>
<path d="M329.6,551.2 330.4,551.1 331.2,551.1 332.0,551.0 332.8,551.0 333.6,550.9 334.4,550.8 335.2,550.8 336.0,550.7 336.8,550.7 337.6,550.6 338.4,550.5 339.2,550.5 340.0,550.4 340.8,550.3 341.6,550.3 342.4,550.1 343.2,550.2 344.0,549.9 344.8,550.1 345.6,549.9 346.4,549.6 347.2,549.9 348.0,549.8 348.8,549.6 349.6,549.6 350.4,549.6 351.2,549.1 352.0,549.0 352.8,549.0 353.6,549.1 354.4,548.9 355.2,548.8 356.0,548.7 356.8,548.7 357.6,548.2 358.4,548.3 359.2,548.5 360.0,548.0 360.8,547.7 361.6,547.8 362.4,547.8 363.2,547.4 364.0,547.0 364.8,547.4 365.6,546.2 366.4,546.5 367.2,546.2 368.0,545.7 368.8,545.0 369.6,545.2 370.4,544.7 371.2,543.7 372.0,543.7 372.8,542.5 373.6,542.0 374.4,541.0 375.2,539.7 376.0,538.0 376.8,537.3 377.6,536.7 378.4,535.3 379.2,534.4 380.0,534.0 380.8,532.5 381.6,531.3 382.4,530.3 383.2,529.4 384.0,529.9 384.8,528.7 385.6,528.7 386.4,529.0 387.2,529.4 388.0,531.3 388.8,533.2 389.6,535.6 390.4,538.1 391.2,541.5 392.0,544.2 392.8,546.5 393.6,547.5 394.4,548.7 395.2,549.2 396.0,550.0 396.8,550.6 397.6,550.9 398.4,551.1 399.2,551.2 400.0,551.2 400.8,551.2 401.6,551.2 402.4,551.2 403.2,551.2 404.0,551.2 404.8,551.2 405.6,551.2 406.4,551.2 407.2,551.2 408.0,551.2 408.8,551.2 409.6,551.2 410.4,551.2 411.2,551.2 412.0,551.2 412.8,551.2 413.6,551.2 414.4,551.2 415.2,551.2 416.0,551.2 416.8,551.2 417.6,551.2 418.4,551.2 419.2,551.2 420.0,551.2 420.8,551.2 421.6,551.2 422.4,551.2" fill="none" stroke="#1f5c5a" stroke-width="0.85" stroke-linejoin="round"/>
<path d="M329.6,538.0 330.4,537.9 331.2,537.9 332.0,537.8 332.8,537.8 333.6,537.7 334.4,537.7 335.2,537.6 336.0,537.5 336.8,537.5 337.6,537.4 338.4,537.3 339.2,537.3 340.0,537.2 340.8,537.1 341.6,537.0 342.4,537.1 343.2,536.8 344.0,536.6 344.8,536.5 345.6,536.6 346.4,536.5 347.2,536.3 348.0,536.3 348.8,535.9 349.6,535.8 350.4,535.7 351.2,535.5 352.0,536.0 352.8,535.4 353.6,535.7 354.4,535.7 355.2,535.3 356.0,535.4 356.8,535.4 357.6,534.6 358.4,535.2 359.2,535.2 360.0,534.8 360.8,534.3 361.6,534.2 362.4,534.4 363.2,534.3 364.0,534.4 364.8,533.4 365.6,533.2 366.4,533.6 367.2,532.7 368.0,532.1 368.8,532.3 369.6,532.0 370.4,530.8 371.2,530.4 372.0,530.0 372.8,529.8 373.6,528.6 374.4,527.3 375.2,526.8 376.0,525.2 376.8,523.5 377.6,522.8 378.4,521.9 379.2,520.1 380.0,519.1 380.8,518.1 381.6,516.9 382.4,516.8 383.2,516.0 384.0,515.7 384.8,515.2 385.6,516.2 386.4,517.2 387.2,518.6 388.0,520.1 388.8,522.5 389.6,525.7 390.4,527.7 391.2,530.4 392.0,533.8 392.8,535.9 393.6,537.3 394.4,537.9 395.2,538.0 396.0,538.0 396.8,538.0 397.6,538.0 398.4,538.0 399.2,538.0 400.0,538.0 400.8,538.0 401.6,538.0 402.4,538.0 403.2,538.0 404.0,538.0 404.8,538.0 405.6,538.0 406.4,538.0 407.2,538.0 408.0,538.0 408.8,538.0 409.6,538.0 410.4,538.0 411.2,538.0 412.0,538.0 412.8,538.0 413.6,538.0 414.4,538.0 415.2,538.0 416.0,538.0 416.8,538.0 417.6,538.0 418.4,538.0 419.2,538.0 420.0,538.0 420.8,538.0 421.6,538.0 422.4,538.0 423.0,538.0 329.6,538.0Z" fill="#a6d6f0" stroke="none" stroke-width="0.8" fill-opacity="0.78"/>
<path d="M329.6,538.0 330.4,537.9 331.2,537.9 332.0,537.8 332.8,537.8 333.6,537.7 334.4,537.7 335.2,537.6 336.0,537.5 336.8,537.5 337.6,537.4 338.4,537.3 339.2,537.3 340.0,537.2 340.8,537.1 341.6,537.0 342.4,537.1 343.2,536.8 344.0,536.6 344.8,536.5 345.6,536.6 346.4,536.5 347.2,536.3 348.0,536.3 348.8,535.9 349.6,535.8 350.4,535.7 351.2,535.5 352.0,536.0 352.8,535.4 353.6,535.7 354.4,535.7 355.2,535.3 356.0,535.4 356.8,535.4 357.6,534.6 358.4,535.2 359.2,535.2 360.0,534.8 360.8,534.3 361.6,534.2 362.4,534.4 363.2,534.3 364.0,534.4 364.8,533.4 365.6,533.2 366.4,533.6 367.2,532.7 368.0,532.1 368.8,532.3 369.6,532.0 370.4,530.8 371.2,530.4 372.0,530.0 372.8,529.8 373.6,528.6 374.4,527.3 375.2,526.8 376.0,525.2 376.8,523.5 377.6,522.8 378.4,521.9 379.2,520.1 380.0,519.1 380.8,518.1 381.6,516.9 382.4,516.8 383.2,516.0 384.0,515.7 384.8,515.2 385.6,516.2 386.4,517.2 387.2,518.6 388.0,520.1 388.8,522.5 389.6,525.7 390.4,527.7 391.2,530.4 392.0,533.8 392.8,535.9 393.6,537.3 394.4,537.9 395.2,538.0 396.0,538.0 396.8,538.0 397.6,538.0 398.4,538.0 399.2,538.0 400.0,538.0 400.8,538.0 401.6,538.0 402.4,538.0 403.2,538.0 404.0,538.0 404.8,538.0 405.6,538.0 406.4,538.0 407.2,538.0 408.0,538.0 408.8,538.0 409.6,538.0 410.4,538.0 411.2,538.0 412.0,538.0 412.8,538.0 413.6,538.0 414.4,538.0 415.2,538.0 416.0,538.0 416.8,538.0 417.6,538.0 418.4,538.0 419.2,538.0 420.0,538.0 420.8,538.0 421.6,538.0 422.4,538.0" fill="none" stroke="#3494cc" stroke-width="0.85" stroke-linejoin="round"/>
<path d="M329.6,525.4 330.4,525.3 331.2,525.3 332.0,525.2 332.8,525.2 333.6,525.1 334.4,525.1 335.2,525.0 336.0,524.9 336.8,524.9 337.6,524.8 338.4,524.7 339.2,524.7 340.0,524.6 340.8,524.5 341.6,524.4 342.4,524.3 343.2,524.2 344.0,524.3 344.8,524.3 345.6,523.8 346.4,524.0 347.2,523.6 348.0,523.5 348.8,523.4 349.6,523.3 350.4,523.2 351.2,523.0 352.0,522.8 352.8,522.6 353.6,522.5 354.4,522.7 355.2,522.1 356.0,522.7 356.8,522.4 357.6,521.6 358.4,521.8 359.2,521.2 360.0,521.8 360.8,522.0 361.6,521.8 362.4,520.8 363.2,520.7 364.0,521.0 364.8,520.5 365.6,521.0 366.4,519.7 367.2,520.1 368.0,519.8 368.8,518.8 369.6,518.1 370.4,517.3 371.2,516.1 372.0,515.8 372.8,514.0 373.6,513.3 374.4,512.0 375.2,510.1 376.0,509.1 376.8,508.0 377.6,506.7 378.4,506.1 379.2,505.4 380.0,504.5 380.8,503.5 381.6,503.9 382.4,503.1 383.2,503.4 384.0,503.1 384.8,504.0 385.6,504.7 386.4,507.0 387.2,509.0 388.0,511.6 388.8,514.1 389.6,516.5 390.4,519.0 391.2,520.8 392.0,523.1 392.8,524.3 393.6,525.0 394.4,525.3 395.2,525.4 396.0,525.4 396.8,525.4 397.6,525.4 398.4,525.4 399.2,525.4 400.0,525.4 400.8,525.4 401.6,525.4 402.4,525.4 403.2,525.4 404.0,525.4 404.8,525.4 405.6,525.4 406.4,525.4 407.2,525.4 408.0,525.4 408.8,525.4 409.6,525.4 410.4,525.4 411.2,525.4 412.0,525.4 412.8,525.4 413.6,525.4 414.4,525.4 415.2,525.4 416.0,525.4 416.8,525.4 417.6,525.4 418.4,525.4 419.2,525.4 420.0,525.4 420.8,525.4 421.6,525.4 422.4,525.4 423.0,525.4 329.6,525.4Z" fill="#a6bede" stroke="none" stroke-width="0.8" fill-opacity="0.78"/>
<path d="M329.6,525.4 330.4,525.3 331.2,525.3 332.0,525.2 332.8,525.2 333.6,525.1 334.4,525.1 335.2,525.0 336.0,524.9 336.8,524.9 337.6,524.8 338.4,524.7 339.2,524.7 340.0,524.6 340.8,524.5 341.6,524.4 342.4,524.3 343.2,524.2 344.0,524.3 344.8,524.3 345.6,523.8 346.4,524.0 347.2,523.6 348.0,523.5 348.8,523.4 349.6,523.3 350.4,523.2 351.2,523.0 352.0,522.8 352.8,522.6 353.6,522.5 354.4,522.7 355.2,522.1 356.0,522.7 356.8,522.4 357.6,521.6 358.4,521.8 359.2,521.2 360.0,521.8 360.8,522.0 361.6,521.8 362.4,520.8 363.2,520.7 364.0,521.0 364.8,520.5 365.6,521.0 366.4,519.7 367.2,520.1 368.0,519.8 368.8,518.8 369.6,518.1 370.4,517.3 371.2,516.1 372.0,515.8 372.8,514.0 373.6,513.3 374.4,512.0 375.2,510.1 376.0,509.1 376.8,508.0 377.6,506.7 378.4,506.1 379.2,505.4 380.0,504.5 380.8,503.5 381.6,503.9 382.4,503.1 383.2,503.4 384.0,503.1 384.8,504.0 385.6,504.7 386.4,507.0 387.2,509.0 388.0,511.6 388.8,514.1 389.6,516.5 390.4,519.0 391.2,520.8 392.0,523.1 392.8,524.3 393.6,525.0 394.4,525.3 395.2,525.4 396.0,525.4 396.8,525.4 397.6,525.4 398.4,525.4 399.2,525.4 400.0,525.4 400.8,525.4 401.6,525.4 402.4,525.4 403.2,525.4 404.0,525.4 404.8,525.4 405.6,525.4 406.4,525.4 407.2,525.4 408.0,525.4 408.8,525.4 409.6,525.4 410.4,525.4 411.2,525.4 412.0,525.4 412.8,525.4 413.6,525.4 414.4,525.4 415.2,525.4 416.0,525.4 416.8,525.4 417.6,525.4 418.4,525.4 419.2,525.4 420.0,525.4 420.8,525.4 421.6,525.4 422.4,525.4" fill="none" stroke="#24406e" stroke-width="0.85" stroke-linejoin="round"/>
<path d="M329.6,512.3 330.4,512.3 331.2,512.3 332.0,512.3 332.8,512.3 333.6,512.3 334.4,512.3 335.2,512.3 336.0,512.3 336.8,512.3 337.6,512.3 338.4,512.3 339.2,512.3 340.0,512.3 340.8,512.3 341.6,512.3 342.4,512.3 343.2,512.3 344.0,512.3 344.8,512.3 345.6,512.3 346.4,512.2 347.2,511.9 348.0,511.2 348.8,510.4 349.6,509.8 350.4,508.9 351.2,508.1 352.0,507.3 352.8,506.6 353.6,505.8 354.4,504.8 355.2,503.7 356.0,502.9 356.8,501.8 357.6,500.8 358.4,499.5 359.2,499.1 360.0,497.8 360.8,497.8 361.6,496.8 362.4,496.3 363.2,496.0 364.0,495.3 364.8,494.9 365.6,493.3 366.4,493.7 367.2,492.1 368.0,491.8 368.8,491.3 369.6,490.6 370.4,489.1 371.2,489.3 372.0,488.6 372.8,488.8 373.6,488.8 374.4,489.3 375.2,489.9 376.0,491.2 376.8,492.1 377.6,492.4 378.4,494.2 379.2,494.6 380.0,496.1 380.8,496.7 381.6,498.5 382.4,500.1 383.2,501.4 384.0,502.5 384.8,503.4 385.6,504.6 386.4,505.6 387.2,506.5 388.0,508.0 388.8,509.5 389.6,509.8 390.4,510.8 391.2,511.4 392.0,512.0 392.8,512.3 393.6,512.3 394.4,512.3 395.2,512.3 396.0,512.3 396.8,512.3 397.6,512.3 398.4,512.3 399.2,512.3 400.0,512.3 400.8,512.3 401.6,512.3 402.4,512.3 403.2,512.3 404.0,512.3 404.8,512.3 405.6,512.3 406.4,512.3 407.2,512.3 408.0,512.3 408.8,512.3 409.6,512.3 410.4,512.3 411.2,512.3 412.0,512.3 412.8,512.3 413.6,512.3 414.4,512.3 415.2,512.3 416.0,512.3 416.8,512.3 417.6,512.3 418.4,512.3 419.2,512.3 420.0,512.3 420.8,512.3 421.6,512.3 422.4,512.3 423.0,512.3 329.6,512.3Z" fill="#c0a8d0" stroke="none" stroke-width="0.8" fill-opacity="0.78"/>
<path d="M329.6,512.3 330.4,512.3 331.2,512.3 332.0,512.3 332.8,512.3 333.6,512.3 334.4,512.3 335.2,512.3 336.0,512.3 336.8,512.3 337.6,512.3 338.4,512.3 339.2,512.3 340.0,512.3 340.8,512.3 341.6,512.3 342.4,512.3 343.2,512.3 344.0,512.3 344.8,512.3 345.6,512.3 346.4,512.2 347.2,511.9 348.0,511.2 348.8,510.4 349.6,509.8 350.4,508.9 351.2,508.1 352.0,507.3 352.8,506.6 353.6,505.8 354.4,504.8 355.2,503.7 356.0,502.9 356.8,501.8 357.6,500.8 358.4,499.5 359.2,499.1 360.0,497.8 360.8,497.8 361.6,496.8 362.4,496.3 363.2,496.0 364.0,495.3 364.8,494.9 365.6,493.3 366.4,493.7 367.2,492.1 368.0,491.8 368.8,491.3 369.6,490.6 370.4,489.1 371.2,489.3 372.0,488.6 372.8,488.8 373.6,488.8 374.4,489.3 375.2,489.9 376.0,491.2 376.8,492.1 377.6,492.4 378.4,494.2 379.2,494.6 380.0,496.1 380.8,496.7 381.6,498.5 382.4,500.1 383.2,501.4 384.0,502.5 384.8,503.4 385.6,504.6 386.4,505.6 387.2,506.5 388.0,508.0 388.8,509.5 389.6,509.8 390.4,510.8 391.2,511.4 392.0,512.0 392.8,512.3 393.6,512.3 394.4,512.3 395.2,512.3 396.0,512.3 396.8,512.3 397.6,512.3 398.4,512.3 399.2,512.3 400.0,512.3 400.8,512.3 401.6,512.3 402.4,512.3 403.2,512.3 404.0,512.3 404.8,512.3 405.6,512.3 406.4,512.3 407.2,512.3 408.0,512.3 408.8,512.3 409.6,512.3 410.4,512.3 411.2,512.3 412.0,512.3 412.8,512.3 413.6,512.3 414.4,512.3 415.2,512.3 416.0,512.3 416.8,512.3 417.6,512.3 418.4,512.3 419.2,512.3 420.0,512.3 420.8,512.3 421.6,512.3 422.4,512.3" fill="none" stroke="#3c2a66" stroke-width="0.85" stroke-linejoin="round"/>
<path d="M329.6,499.6 330.4,499.6 331.2,499.6 332.0,499.6 332.8,499.6 333.6,499.6 334.4,499.6 335.2,499.6 336.0,499.6 336.8,499.6 337.6,499.6 338.4,499.6 339.2,499.6 340.0,499.6 340.8,499.6 341.6,499.6 342.4,499.6 343.2,499.6 344.0,499.6 344.8,499.6 345.6,499.6 346.4,499.6 347.2,499.6 348.0,499.6 348.8,499.6 349.6,499.6 350.4,499.6 351.2,499.6 352.0,499.6 352.8,499.6 353.6,499.6 354.4,499.6 355.2,499.6 356.0,499.6 356.8,499.6 357.6,499.6 358.4,499.6 359.2,499.6 360.0,499.6 360.8,499.6 361.6,499.6 362.4,499.6 363.2,499.6 364.0,499.6 364.8,499.6 365.6,499.6 366.4,499.6 367.2,499.6 368.0,499.6 368.8,499.6 369.6,499.6 370.4,499.6 371.2,499.6 372.0,499.6 372.8,499.6 373.6,499.6 374.4,499.6 375.2,499.4 376.0,499.2 376.8,498.7 377.6,498.1 378.4,497.6 379.2,496.7 380.0,495.9 380.8,494.3 381.6,492.8 382.4,492.3 383.2,490.9 384.0,489.4 384.8,488.0 385.6,487.1 386.4,485.7 387.2,483.8 388.0,482.8 388.8,481.1 389.6,479.5 390.4,478.1 391.2,476.2 392.0,475.5 392.8,475.6 393.6,476.4 394.4,477.5 395.2,479.6 396.0,482.8 396.8,484.8 397.6,487.2 398.4,488.8 399.2,490.8 400.0,492.6 400.8,492.7 401.6,493.5 402.4,494.7 403.2,496.3 404.0,496.9 404.8,498.0 405.6,498.3 406.4,498.9 407.2,499.3 408.0,499.5 408.8,499.6 409.6,499.6 410.4,499.6 411.2,499.6 412.0,499.6 412.8,499.6 413.6,499.6 414.4,499.6 415.2,499.6 416.0,499.6 416.8,499.6 417.6,499.6 418.4,499.6 419.2,499.6 420.0,499.6 420.8,499.6 421.6,499.6 422.4,499.6 423.0,499.6 329.6,499.6Z" fill="#f2a6b4" stroke="none" stroke-width="0.8" fill-opacity="0.78"/>
<path d="M329.6,499.6 330.4,499.6 331.2,499.6 332.0,499.6 332.8,499.6 333.6,499.6 334.4,499.6 335.2,499.6 336.0,499.6 336.8,499.6 337.6,499.6 338.4,499.6 339.2,499.6 340.0,499.6 340.8,499.6 341.6,499.6 342.4,499.6 343.2,499.6 344.0,499.6 344.8,499.6 345.6,499.6 346.4,499.6 347.2,499.6 348.0,499.6 348.8,499.6 349.6,499.6 350.4,499.6 351.2,499.6 352.0,499.6 352.8,499.6 353.6,499.6 354.4,499.6 355.2,499.6 356.0,499.6 356.8,499.6 357.6,499.6 358.4,499.6 359.2,499.6 360.0,499.6 360.8,499.6 361.6,499.6 362.4,499.6 363.2,499.6 364.0,499.6 364.8,499.6 365.6,499.6 366.4,499.6 367.2,499.6 368.0,499.6 368.8,499.6 369.6,499.6 370.4,499.6 371.2,499.6 372.0,499.6 372.8,499.6 373.6,499.6 374.4,499.6 375.2,499.4 376.0,499.2 376.8,498.7 377.6,498.1 378.4,497.6 379.2,496.7 380.0,495.9 380.8,494.3 381.6,492.8 382.4,492.3 383.2,490.9 384.0,489.4 384.8,488.0 385.6,487.1 386.4,485.7 387.2,483.8 388.0,482.8 388.8,481.1 389.6,479.5 390.4,478.1 391.2,476.2 392.0,475.5 392.8,475.6 393.6,476.4 394.4,477.5 395.2,479.6 396.0,482.8 396.8,484.8 397.6,487.2 398.4,488.8 399.2,490.8 400.0,492.6 400.8,492.7 401.6,493.5 402.4,494.7 403.2,496.3 404.0,496.9 404.8,498.0 405.6,498.3 406.4,498.9 407.2,499.3 408.0,499.5 408.8,499.6 409.6,499.6 410.4,499.6 411.2,499.6 412.0,499.6 412.8,499.6 413.6,499.6 414.4,499.6 415.2,499.6 416.0,499.6 416.8,499.6 417.6,499.6 418.4,499.6 419.2,499.6 420.0,499.6 420.8,499.6 421.6,499.6 422.4,499.6" fill="none" stroke="#d03a58" stroke-width="0.85" stroke-linejoin="round"/>
<rect x="329.6" y="470.8" width="93.4" height="93.6" fill="none" stroke="#231f20" stroke-width="1.1"/>
<text x="421.90" y="496.46" font-size="7.6" text-anchor="end" fill="#231f20">16944</text>
<text x="421.90" y="509.16" font-size="7.6" text-anchor="end" fill="#231f20">5156</text>
<text x="421.90" y="522.26" font-size="7.6" text-anchor="end" fill="#231f20">9267</text>
<text x="421.90" y="534.86" font-size="7.6" text-anchor="end" fill="#231f20">10296</text>
<text x="421.90" y="548.06" font-size="7.6" text-anchor="end" fill="#231f20">10863</text>
<text x="421.90" y="561.06" font-size="7.6" text-anchor="end" fill="#231f20">8643</text>
<line x1="334.60" y1="564.40" x2="334.60" y2="566.20" stroke="#231f20" stroke-width="0.5"/>
<line x1="343.60" y1="564.40" x2="343.60" y2="566.20" stroke="#231f20" stroke-width="0.5"/>
<line x1="352.60" y1="564.40" x2="352.60" y2="566.20" stroke="#231f20" stroke-width="0.5"/>
<line x1="361.60" y1="564.40" x2="361.60" y2="566.20" stroke="#231f20" stroke-width="0.5"/>
<line x1="370.60" y1="564.40" x2="370.60" y2="566.20" stroke="#231f20" stroke-width="0.5"/>
<line x1="379.60" y1="564.40" x2="379.60" y2="566.20" stroke="#231f20" stroke-width="0.5"/>
<line x1="388.60" y1="564.40" x2="388.60" y2="566.20" stroke="#231f20" stroke-width="0.5"/>
<line x1="397.60" y1="564.40" x2="397.60" y2="566.20" stroke="#231f20" stroke-width="0.5"/>
<line x1="406.60" y1="564.40" x2="406.60" y2="566.20" stroke="#231f20" stroke-width="0.5"/>
<line x1="415.60" y1="564.40" x2="415.60" y2="566.20" stroke="#231f20" stroke-width="0.5"/>
<path d="M427.0,564.2 427.8,564.2 428.6,564.2 429.4,564.2 430.2,564.2 431.0,564.2 431.8,564.2 432.6,564.2 433.4,564.2 434.2,564.2 435.0,564.2 435.8,564.2 436.6,564.2 437.4,564.2 438.2,564.2 439.0,564.2 439.8,564.2 440.6,564.2 441.4,564.2 442.2,564.2 443.0,564.2 443.8,564.2 444.6,564.2 445.4,563.9 446.2,562.6 447.0,561.3 447.8,561.0 448.6,560.0 449.4,559.8 450.2,559.8 451.0,559.6 451.8,559.6 452.6,559.1 453.4,559.5 454.2,558.4 455.0,557.8 455.8,558.1 456.6,557.8 457.4,557.3 458.2,557.2 459.0,556.3 459.8,556.8 460.6,556.1 461.4,555.6 462.2,555.1 463.0,555.3 463.8,555.2 464.6,554.1 465.4,554.4 466.2,553.2 467.0,553.8 467.8,552.4 468.6,552.1 469.4,552.1 470.2,551.2 471.0,550.9 471.8,550.6 472.6,550.5 473.4,550.0 474.2,549.2 475.0,548.3 475.8,546.7 476.6,545.7 477.4,544.2 478.2,543.6 479.0,542.7 479.8,541.6 480.6,542.0 481.4,543.0 482.2,545.4 483.0,545.2 483.8,546.8 484.6,547.2 485.4,548.9 486.2,549.5 487.0,550.3 487.8,551.4 488.6,552.5 489.4,554.2 490.2,554.2 491.0,556.2 491.8,556.2 492.6,557.5 493.4,558.5 494.2,560.1 495.0,560.4 495.8,561.2 496.6,562.2 497.4,562.4 498.2,563.1 499.0,563.6 499.8,563.9 500.6,564.2 501.4,564.2 502.2,564.2 503.0,564.2 503.8,564.2 504.6,564.2 505.4,564.2 506.2,564.2 507.0,564.2 507.8,564.2 508.6,564.2 509.4,564.2 510.2,564.2 511.0,564.2 511.8,564.2 512.6,564.2 513.4,564.2 514.2,564.2 515.0,564.2 515.8,564.2 516.6,564.2 517.4,564.2 518.2,564.2 519.0,564.2 519.6,564.2 427.0,564.2Z" fill="#a6dca0" stroke="none" stroke-width="0.8" fill-opacity="0.78"/>
<path d="M427.0,564.2 427.8,564.2 428.6,564.2 429.4,564.2 430.2,564.2 431.0,564.2 431.8,564.2 432.6,564.2 433.4,564.2 434.2,564.2 435.0,564.2 435.8,564.2 436.6,564.2 437.4,564.2 438.2,564.2 439.0,564.2 439.8,564.2 440.6,564.2 441.4,564.2 442.2,564.2 443.0,564.2 443.8,564.2 444.6,564.2 445.4,563.9 446.2,562.6 447.0,561.3 447.8,561.0 448.6,560.0 449.4,559.8 450.2,559.8 451.0,559.6 451.8,559.6 452.6,559.1 453.4,559.5 454.2,558.4 455.0,557.8 455.8,558.1 456.6,557.8 457.4,557.3 458.2,557.2 459.0,556.3 459.8,556.8 460.6,556.1 461.4,555.6 462.2,555.1 463.0,555.3 463.8,555.2 464.6,554.1 465.4,554.4 466.2,553.2 467.0,553.8 467.8,552.4 468.6,552.1 469.4,552.1 470.2,551.2 471.0,550.9 471.8,550.6 472.6,550.5 473.4,550.0 474.2,549.2 475.0,548.3 475.8,546.7 476.6,545.7 477.4,544.2 478.2,543.6 479.0,542.7 479.8,541.6 480.6,542.0 481.4,543.0 482.2,545.4 483.0,545.2 483.8,546.8 484.6,547.2 485.4,548.9 486.2,549.5 487.0,550.3 487.8,551.4 488.6,552.5 489.4,554.2 490.2,554.2 491.0,556.2 491.8,556.2 492.6,557.5 493.4,558.5 494.2,560.1 495.0,560.4 495.8,561.2 496.6,562.2 497.4,562.4 498.2,563.1 499.0,563.6 499.8,563.9 500.6,564.2 501.4,564.2 502.2,564.2 503.0,564.2 503.8,564.2 504.6,564.2 505.4,564.2 506.2,564.2 507.0,564.2 507.8,564.2 508.6,564.2 509.4,564.2 510.2,564.2 511.0,564.2 511.8,564.2 512.6,564.2 513.4,564.2 514.2,564.2 515.0,564.2 515.8,564.2 516.6,564.2 517.4,564.2 518.2,564.2 519.0,564.2" fill="none" stroke="#44a850" stroke-width="0.85" stroke-linejoin="round"/>
<path d="M427.0,551.2 427.8,551.2 428.6,551.2 429.4,551.2 430.2,551.2 431.0,551.2 431.8,551.2 432.6,551.2 433.4,551.2 434.2,551.2 435.0,551.2 435.8,551.2 436.6,551.2 437.4,551.2 438.2,551.2 439.0,551.2 439.8,551.2 440.6,551.2 441.4,551.2 442.2,551.2 443.0,551.2 443.8,551.2 444.6,551.2 445.4,550.9 446.2,549.4 447.0,548.6 447.8,547.9 448.6,547.6 449.4,547.3 450.2,546.7 451.0,546.2 451.8,545.3 452.6,544.8 453.4,544.8 454.2,543.3 455.0,543.1 455.8,542.8 456.6,542.5 457.4,541.8 458.2,540.7 459.0,540.8 459.8,540.1 460.6,539.1 461.4,539.2 462.2,538.2 463.0,538.6 463.8,537.4 464.6,537.7 465.4,537.0 466.2,536.7 467.0,535.1 467.8,534.3 468.6,533.3 469.4,532.5 470.2,531.9 471.0,530.2 471.8,528.9 472.6,529.0 473.4,530.5 474.2,530.2 475.0,531.2 475.8,532.5 476.6,534.2 477.4,534.4 478.2,535.5 479.0,537.2 479.8,537.6 480.6,538.9 481.4,539.6 482.2,539.5 483.0,540.1 483.8,541.3 484.6,542.1 485.4,542.5 486.2,543.2 487.0,543.3 487.8,544.2 488.6,544.0 489.4,545.7 490.2,546.0 491.0,546.1 491.8,546.9 492.6,547.9 493.4,548.1 494.2,548.7 495.0,548.8 495.8,549.7 496.6,549.9 497.4,550.4 498.2,550.8 499.0,551.0 499.8,551.1 500.6,551.2 501.4,551.2 502.2,551.2 503.0,551.2 503.8,551.2 504.6,551.2 505.4,551.2 506.2,551.2 507.0,551.2 507.8,551.2 508.6,551.2 509.4,551.2 510.2,551.2 511.0,551.2 511.8,551.2 512.6,551.2 513.4,551.2 514.2,551.2 515.0,551.2 515.8,551.2 516.6,551.2 517.4,551.2 518.2,551.2 519.0,551.2 519.6,551.2 427.0,551.2Z" fill="#8cc8b4" stroke="none" stroke-width="0.8" fill-opacity="0.78"/>
<path d="M427.0,551.2 427.8,551.2 428.6,551.2 429.4,551.2 430.2,551.2 431.0,551.2 431.8,551.2 432.6,551.2 433.4,551.2 434.2,551.2 435.0,551.2 435.8,551.2 436.6,551.2 437.4,551.2 438.2,551.2 439.0,551.2 439.8,551.2 440.6,551.2 441.4,551.2 442.2,551.2 443.0,551.2 443.8,551.2 444.6,551.2 445.4,550.9 446.2,549.4 447.0,548.6 447.8,547.9 448.6,547.6 449.4,547.3 450.2,546.7 451.0,546.2 451.8,545.3 452.6,544.8 453.4,544.8 454.2,543.3 455.0,543.1 455.8,542.8 456.6,542.5 457.4,541.8 458.2,540.7 459.0,540.8 459.8,540.1 460.6,539.1 461.4,539.2 462.2,538.2 463.0,538.6 463.8,537.4 464.6,537.7 465.4,537.0 466.2,536.7 467.0,535.1 467.8,534.3 468.6,533.3 469.4,532.5 470.2,531.9 471.0,530.2 471.8,528.9 472.6,529.0 473.4,530.5 474.2,530.2 475.0,531.2 475.8,532.5 476.6,534.2 477.4,534.4 478.2,535.5 479.0,537.2 479.8,537.6 480.6,538.9 481.4,539.6 482.2,539.5 483.0,540.1 483.8,541.3 484.6,542.1 485.4,542.5 486.2,543.2 487.0,543.3 487.8,544.2 488.6,544.0 489.4,545.7 490.2,546.0 491.0,546.1 491.8,546.9 492.6,547.9 493.4,548.1 494.2,548.7 495.0,548.8 495.8,549.7 496.6,549.9 497.4,550.4 498.2,550.8 499.0,551.0 499.8,551.1 500.6,551.2 501.4,551.2 502.2,551.2 503.0,551.2 503.8,551.2 504.6,551.2 505.4,551.2 506.2,551.2 507.0,551.2 507.8,551.2 508.6,551.2 509.4,551.2 510.2,551.2 511.0,551.2 511.8,551.2 512.6,551.2 513.4,551.2 514.2,551.2 515.0,551.2 515.8,551.2 516.6,551.2 517.4,551.2 518.2,551.2 519.0,551.2" fill="none" stroke="#1f5c5a" stroke-width="0.85" stroke-linejoin="round"/>
<path d="M427.0,538.0 427.8,538.0 428.6,538.0 429.4,538.0 430.2,538.0 431.0,538.0 431.8,538.0 432.6,538.0 433.4,538.0 434.2,538.0 435.0,538.0 435.8,538.0 436.6,538.0 437.4,538.0 438.2,538.0 439.0,538.0 439.8,538.0 440.6,538.0 441.4,538.0 442.2,538.0 443.0,538.0 443.8,538.0 444.6,537.8 445.4,537.1 446.2,536.4 447.0,536.0 447.8,535.8 448.6,534.8 449.4,534.8 450.2,534.2 451.0,532.9 451.8,533.4 452.6,532.0 453.4,532.5 454.2,532.2 455.0,531.7 455.8,530.2 456.6,529.6 457.4,529.8 458.2,529.1 459.0,528.5 459.8,527.5 460.6,527.2 461.4,526.4 462.2,525.5 463.0,525.2 463.8,524.6 464.6,523.2 465.4,522.4 466.2,522.2 467.0,520.6 467.8,519.0 468.6,518.3 469.4,517.2 470.2,515.9 471.0,516.2 471.8,515.6 472.6,515.9 473.4,515.2 474.2,516.0 475.0,516.1 475.8,516.7 476.6,517.5 477.4,517.4 478.2,518.4 479.0,518.6 479.8,519.0 480.6,519.5 481.4,520.9 482.2,521.1 483.0,522.1 483.8,522.7 484.6,523.9 485.4,524.0 486.2,525.0 487.0,524.9 487.8,525.2 488.6,526.3 489.4,526.9 490.2,527.5 491.0,528.3 491.8,528.7 492.6,529.7 493.4,530.7 494.2,531.9 495.0,533.1 495.8,533.2 496.6,534.6 497.4,534.9 498.2,535.7 499.0,536.2 499.8,537.0 500.6,537.2 501.4,537.6 502.2,537.9 503.0,538.0 503.8,538.0 504.6,538.0 505.4,538.0 506.2,538.0 507.0,538.0 507.8,538.0 508.6,538.0 509.4,538.0 510.2,538.0 511.0,538.0 511.8,538.0 512.6,538.0 513.4,538.0 514.2,538.0 515.0,538.0 515.8,538.0 516.6,538.0 517.4,538.0 518.2,538.0 519.0,538.0 519.6,538.0 427.0,538.0Z" fill="#a6d6f0" stroke="none" stroke-width="0.8" fill-opacity="0.78"/>
<path d="M427.0,538.0 427.8,538.0 428.6,538.0 429.4,538.0 430.2,538.0 431.0,538.0 431.8,538.0 432.6,538.0 433.4,538.0 434.2,538.0 435.0,538.0 435.8,538.0 436.6,538.0 437.4,538.0 438.2,538.0 439.0,538.0 439.8,538.0 440.6,538.0 441.4,538.0 442.2,538.0 443.0,538.0 443.8,538.0 444.6,537.8 445.4,537.1 446.2,536.4 447.0,536.0 447.8,535.8 448.6,534.8 449.4,534.8 450.2,534.2 451.0,532.9 451.8,533.4 452.6,532.0 453.4,532.5 454.2,532.2 455.0,531.7 455.8,530.2 456.6,529.6 457.4,529.8 458.2,529.1 459.0,528.5 459.8,527.5 460.6,527.2 461.4,526.4 462.2,525.5 463.0,525.2 463.8,524.6 464.6,523.2 465.4,522.4 466.2,522.2 467.0,520.6 467.8,519.0 468.6,518.3 469.4,517.2 470.2,515.9 471.0,516.2 471.8,515.6 472.6,515.9 473.4,515.2 474.2,516.0 475.0,516.1 475.8,516.7 476.6,517.5 477.4,517.4 478.2,518.4 479.0,518.6 479.8,519.0 480.6,519.5 481.4,520.9 482.2,521.1 483.0,522.1 483.8,522.7 484.6,523.9 485.4,524.0 486.2,525.0 487.0,524.9 487.8,525.2 488.6,526.3 489.4,526.9 490.2,527.5 491.0,528.3 491.8,528.7 492.6,529.7 493.4,530.7 494.2,531.9 495.0,533.1 495.8,533.2 496.6,534.6 497.4,534.9 498.2,535.7 499.0,536.2 499.8,537.0 500.6,537.2 501.4,537.6 502.2,537.9 503.0,538.0 503.8,538.0 504.6,538.0 505.4,538.0 506.2,538.0 507.0,538.0 507.8,538.0 508.6,538.0 509.4,538.0 510.2,538.0 511.0,538.0 511.8,538.0 512.6,538.0 513.4,538.0 514.2,538.0 515.0,538.0 515.8,538.0 516.6,538.0 517.4,538.0 518.2,538.0 519.0,538.0" fill="none" stroke="#3494cc" stroke-width="0.85" stroke-linejoin="round"/>
<path d="M427.0,525.4 427.8,525.4 428.6,525.4 429.4,525.4 430.2,525.4 431.0,525.4 431.8,525.4 432.6,525.4 433.4,525.4 434.2,525.4 435.0,525.4 435.8,525.4 436.6,525.4 437.4,525.4 438.2,525.4 439.0,525.4 439.8,525.4 440.6,525.4 441.4,525.4 442.2,525.4 443.0,525.4 443.8,525.4 444.6,525.4 445.4,525.4 446.2,525.2 447.0,522.4 447.8,519.8 448.6,519.9 449.4,521.1 450.2,520.5 451.0,520.7 451.8,520.4 452.6,520.8 453.4,520.2 454.2,520.1 455.0,520.7 455.8,520.4 456.6,520.4 457.4,520.0 458.2,520.4 459.0,519.1 459.8,519.5 460.6,518.6 461.4,519.3 462.2,518.0 463.0,517.4 463.8,517.5 464.6,516.9 465.4,515.9 466.2,515.4 467.0,514.3 467.8,512.1 468.6,511.2 469.4,510.4 470.2,509.6 471.0,508.4 471.8,507.7 472.6,507.5 473.4,506.8 474.2,505.8 475.0,505.5 475.8,504.4 476.6,504.2 477.4,503.4 478.2,504.1 479.0,504.8 479.8,505.6 480.6,506.0 481.4,506.3 482.2,505.9 483.0,506.9 483.8,507.6 484.6,509.1 485.4,509.9 486.2,511.6 487.0,513.3 487.8,513.8 488.6,515.6 489.4,515.4 490.2,516.5 491.0,518.0 491.8,518.5 492.6,518.6 493.4,519.4 494.2,520.0 495.0,520.8 495.8,521.8 496.6,521.8 497.4,522.4 498.2,523.2 499.0,523.7 499.8,523.8 500.6,524.1 501.4,524.5 502.2,524.7 503.0,524.9 503.8,525.0 504.6,525.2 505.4,525.4 506.2,525.4 507.0,525.4 507.8,525.4 508.6,525.4 509.4,525.4 510.2,525.4 511.0,525.4 511.8,525.4 512.6,525.4 513.4,525.4 514.2,525.4 515.0,525.4 515.8,525.4 516.6,525.4 517.4,525.4 518.2,525.4 519.0,525.4 519.6,525.4 427.0,525.4Z" fill="#a6bede" stroke="none" stroke-width="0.8" fill-opacity="0.78"/>
<path d="M427.0,525.4 427.8,525.4 428.6,525.4 429.4,525.4 430.2,525.4 431.0,525.4 431.8,525.4 432.6,525.4 433.4,525.4 434.2,525.4 435.0,525.4 435.8,525.4 436.6,525.4 437.4,525.4 438.2,525.4 439.0,525.4 439.8,525.4 440.6,525.4 441.4,525.4 442.2,525.4 443.0,525.4 443.8,525.4 444.6,525.4 445.4,525.4 446.2,525.2 447.0,522.4 447.8,519.8 448.6,519.9 449.4,521.1 450.2,520.5 451.0,520.7 451.8,520.4 452.6,520.8 453.4,520.2 454.2,520.1 455.0,520.7 455.8,520.4 456.6,520.4 457.4,520.0 458.2,520.4 459.0,519.1 459.8,519.5 460.6,518.6 461.4,519.3 462.2,518.0 463.0,517.4 463.8,517.5 464.6,516.9 465.4,515.9 466.2,515.4 467.0,514.3 467.8,512.1 468.6,511.2 469.4,510.4 470.2,509.6 471.0,508.4 471.8,507.7 472.6,507.5 473.4,506.8 474.2,505.8 475.0,505.5 475.8,504.4 476.6,504.2 477.4,503.4 478.2,504.1 479.0,504.8 479.8,505.6 480.6,506.0 481.4,506.3 482.2,505.9 483.0,506.9 483.8,507.6 484.6,509.1 485.4,509.9 486.2,511.6 487.0,513.3 487.8,513.8 488.6,515.6 489.4,515.4 490.2,516.5 491.0,518.0 491.8,518.5 492.6,518.6 493.4,519.4 494.2,520.0 495.0,520.8 495.8,521.8 496.6,521.8 497.4,522.4 498.2,523.2 499.0,523.7 499.8,523.8 500.6,524.1 501.4,524.5 502.2,524.7 503.0,524.9 503.8,525.0 504.6,525.2 505.4,525.4 506.2,525.4 507.0,525.4 507.8,525.4 508.6,525.4 509.4,525.4 510.2,525.4 511.0,525.4 511.8,525.4 512.6,525.4 513.4,525.4 514.2,525.4 515.0,525.4 515.8,525.4 516.6,525.4 517.4,525.4 518.2,525.4 519.0,525.4" fill="none" stroke="#24406e" stroke-width="0.85" stroke-linejoin="round"/>
<path d="M427.0,512.3 427.8,512.3 428.6,512.3 429.4,512.3 430.2,512.3 431.0,512.3 431.8,512.3 432.6,512.3 433.4,512.3 434.2,512.3 435.0,512.3 435.8,512.3 436.6,512.3 437.4,512.3 438.2,512.3 439.0,512.3 439.8,512.3 440.6,512.3 441.4,512.3 442.2,512.3 443.0,512.3 443.8,512.3 444.6,512.3 445.4,512.3 446.2,512.1 447.0,509.9 447.8,507.2 448.6,508.5 449.4,509.4 450.2,509.6 451.0,509.8 451.8,509.1 452.6,509.1 453.4,509.3 454.2,508.9 455.0,509.7 455.8,509.5 456.6,509.7 457.4,509.0 458.2,509.1 459.0,509.5 459.8,509.2 460.6,509.3 461.4,509.3 462.2,509.3 463.0,509.1 463.8,508.8 464.6,508.7 465.4,508.1 466.2,507.7 467.0,506.3 467.8,505.3 468.6,505.2 469.4,504.0 470.2,503.4 471.0,502.8 471.8,502.1 472.6,501.3 473.4,499.6 474.2,499.5 475.0,498.4 475.8,497.3 476.6,496.9 477.4,495.7 478.2,495.2 479.0,494.9 479.8,493.8 480.6,493.4 481.4,492.6 482.2,492.9 483.0,492.0 483.8,491.8 484.6,491.4 485.4,491.7 486.2,491.1 487.0,490.6 487.8,490.8 488.6,490.6 489.4,489.6 490.2,490.5 491.0,490.3 491.8,491.0 492.6,491.0 493.4,491.5 494.2,492.5 495.0,494.0 495.8,497.0 496.6,499.1 497.4,502.6 498.2,505.7 499.0,507.7 499.8,510.6 500.6,511.7 501.4,512.2 502.2,512.3 503.0,512.3 503.8,512.3 504.6,512.3 505.4,512.3 506.2,512.3 507.0,512.3 507.8,512.3 508.6,512.3 509.4,512.3 510.2,512.3 511.0,512.3 511.8,512.3 512.6,512.3 513.4,512.3 514.2,512.3 515.0,512.3 515.8,512.3 516.6,512.3 517.4,512.3 518.2,512.3 519.0,512.3 519.6,512.3 427.0,512.3Z" fill="#c0a8d0" stroke="none" stroke-width="0.8" fill-opacity="0.78"/>
<path d="M427.0,512.3 427.8,512.3 428.6,512.3 429.4,512.3 430.2,512.3 431.0,512.3 431.8,512.3 432.6,512.3 433.4,512.3 434.2,512.3 435.0,512.3 435.8,512.3 436.6,512.3 437.4,512.3 438.2,512.3 439.0,512.3 439.8,512.3 440.6,512.3 441.4,512.3 442.2,512.3 443.0,512.3 443.8,512.3 444.6,512.3 445.4,512.3 446.2,512.1 447.0,509.9 447.8,507.2 448.6,508.5 449.4,509.4 450.2,509.6 451.0,509.8 451.8,509.1 452.6,509.1 453.4,509.3 454.2,508.9 455.0,509.7 455.8,509.5 456.6,509.7 457.4,509.0 458.2,509.1 459.0,509.5 459.8,509.2 460.6,509.3 461.4,509.3 462.2,509.3 463.0,509.1 463.8,508.8 464.6,508.7 465.4,508.1 466.2,507.7 467.0,506.3 467.8,505.3 468.6,505.2 469.4,504.0 470.2,503.4 471.0,502.8 471.8,502.1 472.6,501.3 473.4,499.6 474.2,499.5 475.0,498.4 475.8,497.3 476.6,496.9 477.4,495.7 478.2,495.2 479.0,494.9 479.8,493.8 480.6,493.4 481.4,492.6 482.2,492.9 483.0,492.0 483.8,491.8 484.6,491.4 485.4,491.7 486.2,491.1 487.0,490.6 487.8,490.8 488.6,490.6 489.4,489.6 490.2,490.5 491.0,490.3 491.8,491.0 492.6,491.0 493.4,491.5 494.2,492.5 495.0,494.0 495.8,497.0 496.6,499.1 497.4,502.6 498.2,505.7 499.0,507.7 499.8,510.6 500.6,511.7 501.4,512.2 502.2,512.3 503.0,512.3 503.8,512.3 504.6,512.3 505.4,512.3 506.2,512.3 507.0,512.3 507.8,512.3 508.6,512.3 509.4,512.3 510.2,512.3 511.0,512.3 511.8,512.3 512.6,512.3 513.4,512.3 514.2,512.3 515.0,512.3 515.8,512.3 516.6,512.3 517.4,512.3 518.2,512.3 519.0,512.3" fill="none" stroke="#3c2a66" stroke-width="0.85" stroke-linejoin="round"/>
<path d="M427.0,499.6 427.8,499.6 428.6,499.6 429.4,499.6 430.2,499.6 431.0,499.6 431.8,499.6 432.6,499.6 433.4,499.6 434.2,499.6 435.0,499.6 435.8,499.6 436.6,499.6 437.4,499.6 438.2,499.6 439.0,499.6 439.8,499.6 440.6,499.6 441.4,499.6 442.2,499.6 443.0,499.6 443.8,499.6 444.6,499.6 445.4,499.6 446.2,499.4 447.0,499.1 447.8,498.9 448.6,498.6 449.4,498.3 450.2,498.1 451.0,497.7 451.8,497.7 452.6,497.3 453.4,497.0 454.2,496.8 455.0,496.6 455.8,495.9 456.6,495.3 457.4,494.9 458.2,494.0 459.0,492.5 459.8,491.4 460.6,491.2 461.4,489.7 462.2,489.1 463.0,488.6 463.8,488.4 464.6,488.0 465.4,487.4 466.2,486.4 467.0,486.1 467.8,485.9 468.6,485.5 469.4,484.3 470.2,484.5 471.0,484.0 471.8,483.1 472.6,483.1 473.4,481.9 474.2,481.4 475.0,479.8 475.8,479.3 476.6,478.4 477.4,477.2 478.2,476.7 479.0,474.9 479.8,474.4 480.6,475.8 481.4,475.7 482.2,476.2 483.0,476.7 483.8,476.9 484.6,477.3 485.4,477.6 486.2,478.8 487.0,478.3 487.8,478.9 488.6,480.2 489.4,480.9 490.2,482.7 491.0,483.7 491.8,485.4 492.6,486.3 493.4,487.0 494.2,488.7 495.0,490.1 495.8,491.3 496.6,492.4 497.4,493.0 498.2,494.1 499.0,494.8 499.8,495.8 500.6,496.8 501.4,497.3 502.2,497.9 503.0,498.1 503.8,498.5 504.6,499.0 505.4,499.4 506.2,499.6 507.0,499.6 507.8,499.6 508.6,499.6 509.4,499.6 510.2,499.6 511.0,499.6 511.8,499.6 512.6,499.6 513.4,499.6 514.2,499.6 515.0,499.6 515.8,499.6 516.6,499.6 517.4,499.6 518.2,499.6 519.0,499.6 519.6,499.6 427.0,499.6Z" fill="#f2a6b4" stroke="none" stroke-width="0.8" fill-opacity="0.78"/>
<path d="M427.0,499.6 427.8,499.6 428.6,499.6 429.4,499.6 430.2,499.6 431.0,499.6 431.8,499.6 432.6,499.6 433.4,499.6 434.2,499.6 435.0,499.6 435.8,499.6 436.6,499.6 437.4,499.6 438.2,499.6 439.0,499.6 439.8,499.6 440.6,499.6 441.4,499.6 442.2,499.6 443.0,499.6 443.8,499.6 444.6,499.6 445.4,499.6 446.2,499.4 447.0,499.1 447.8,498.9 448.6,498.6 449.4,498.3 450.2,498.1 451.0,497.7 451.8,497.7 452.6,497.3 453.4,497.0 454.2,496.8 455.0,496.6 455.8,495.9 456.6,495.3 457.4,494.9 458.2,494.0 459.0,492.5 459.8,491.4 460.6,491.2 461.4,489.7 462.2,489.1 463.0,488.6 463.8,488.4 464.6,488.0 465.4,487.4 466.2,486.4 467.0,486.1 467.8,485.9 468.6,485.5 469.4,484.3 470.2,484.5 471.0,484.0 471.8,483.1 472.6,483.1 473.4,481.9 474.2,481.4 475.0,479.8 475.8,479.3 476.6,478.4 477.4,477.2 478.2,476.7 479.0,474.9 479.8,474.4 480.6,475.8 481.4,475.7 482.2,476.2 483.0,476.7 483.8,476.9 484.6,477.3 485.4,477.6 486.2,478.8 487.0,478.3 487.8,478.9 488.6,480.2 489.4,480.9 490.2,482.7 491.0,483.7 491.8,485.4 492.6,486.3 493.4,487.0 494.2,488.7 495.0,490.1 495.8,491.3 496.6,492.4 497.4,493.0 498.2,494.1 499.0,494.8 499.8,495.8 500.6,496.8 501.4,497.3 502.2,497.9 503.0,498.1 503.8,498.5 504.6,499.0 505.4,499.4 506.2,499.6 507.0,499.6 507.8,499.6 508.6,499.6 509.4,499.6 510.2,499.6 511.0,499.6 511.8,499.6 512.6,499.6 513.4,499.6 514.2,499.6 515.0,499.6 515.8,499.6 516.6,499.6 517.4,499.6 518.2,499.6 519.0,499.6" fill="none" stroke="#d03a58" stroke-width="0.85" stroke-linejoin="round"/>
<rect x="427" y="470.8" width="92.6" height="93.6" fill="none" stroke="#231f20" stroke-width="1.1"/>
<text x="519.20" y="496.46" font-size="7.6" text-anchor="end" fill="#231f20">4392</text>
<text x="519.20" y="509.16" font-size="7.6" text-anchor="end" fill="#231f20">5855</text>
<text x="519.20" y="522.26" font-size="7.6" text-anchor="end" fill="#231f20">2813</text>
<text x="519.20" y="534.86" font-size="7.6" text-anchor="end" fill="#231f20">2767</text>
<text x="519.20" y="548.06" font-size="7.6" text-anchor="end" fill="#231f20">2213</text>
<text x="519.20" y="561.06" font-size="7.6" text-anchor="end" fill="#231f20">3284</text>
<line x1="432.00" y1="564.40" x2="432.00" y2="566.20" stroke="#231f20" stroke-width="0.5"/>
<line x1="441.00" y1="564.40" x2="441.00" y2="566.20" stroke="#231f20" stroke-width="0.5"/>
<line x1="450.00" y1="564.40" x2="450.00" y2="566.20" stroke="#231f20" stroke-width="0.5"/>
<line x1="459.00" y1="564.40" x2="459.00" y2="566.20" stroke="#231f20" stroke-width="0.5"/>
<line x1="468.00" y1="564.40" x2="468.00" y2="566.20" stroke="#231f20" stroke-width="0.5"/>
<line x1="477.00" y1="564.40" x2="477.00" y2="566.20" stroke="#231f20" stroke-width="0.5"/>
<line x1="486.00" y1="564.40" x2="486.00" y2="566.20" stroke="#231f20" stroke-width="0.5"/>
<line x1="495.00" y1="564.40" x2="495.00" y2="566.20" stroke="#231f20" stroke-width="0.5"/>
<line x1="504.00" y1="564.40" x2="504.00" y2="566.20" stroke="#231f20" stroke-width="0.5"/>
<line x1="513.00" y1="564.40" x2="513.00" y2="566.20" stroke="#231f20" stroke-width="0.5"/>
<text x="326.60" y="500.13" font-size="7.8" text-anchor="end" fill="#231f20">II-1</text>
<text x="326.60" y="512.83" font-size="7.8" text-anchor="end" fill="#231f20">I-1</text>
<text x="326.60" y="525.93" font-size="7.8" text-anchor="end" fill="#231f20">I-2</text>
<text x="326.60" y="538.53" font-size="7.8" text-anchor="end" fill="#231f20">II-2</text>
<text x="326.60" y="551.73" font-size="7.8" text-anchor="end" fill="#231f20">HC1</text>
<text x="326.60" y="564.73" font-size="7.8" text-anchor="end" fill="#231f20">HC2</text>
<text x="330.60" y="575.37" font-size="7.9" fill="#231f20">IgD</text>
<text x="351.50" y="575.37" font-size="7.9" fill="#231f20" textLength="22.3" lengthAdjust="spacingAndGlyphs">BV605</text>
<line x1="377.70" y1="572.80" x2="418.00" y2="572.80" stroke="#231f20" stroke-width="0.9"/>
<path d="M422.5,572.8 L417,570.8 L417,574.8Z" fill="#231f20" stroke="none" stroke-width="0.8"/>
<text x="428.80" y="575.37" font-size="7.9" fill="#231f20">IgM</text>
<text x="448.80" y="575.37" font-size="7.9" fill="#231f20" textLength="22.4" lengthAdjust="spacingAndGlyphs">BB515</text>
<line x1="474.00" y1="572.80" x2="515.00" y2="572.80" stroke="#231f20" stroke-width="0.9"/>
<path d="M519.5,572.8 L514,570.8 L514,574.8Z" fill="#231f20" stroke="none" stroke-width="0.8"/>
</svg></body></html>
